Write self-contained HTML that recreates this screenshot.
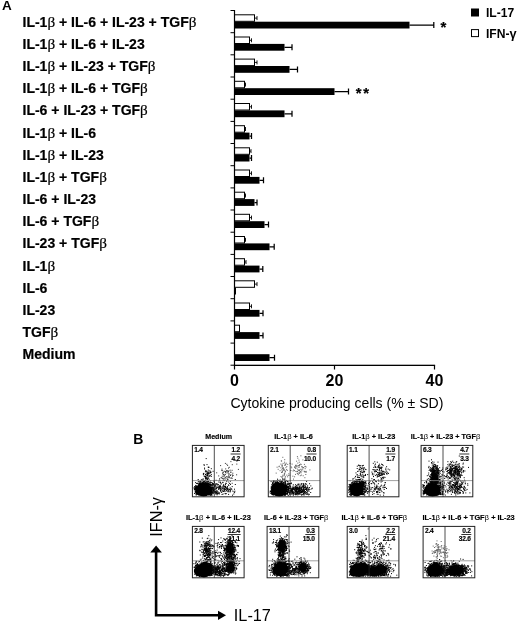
<!DOCTYPE html>
<html><head><meta charset="utf-8"><title>Figure</title>
<style>
html,body{margin:0;padding:0;background:#fff}
svg{display:block}
text{font-family:"Liberation Sans",sans-serif;fill:#000}
.lb{font-weight:bold;font-size:14.02px;stroke:#000;stroke-width:0.2px}
.b{font-family:"Liberation Serif",serif;font-weight:normal;font-size:1.08em}
.lg{font-weight:bold;font-size:12.1px}
.tk{font-weight:bold;font-size:16px;text-anchor:middle}
.ax{font-size:14.05px}
.pl{font-weight:bold;font-size:12.5px}
.pt{font-weight:bold;font-size:7px;stroke:#000;stroke-width:0.15px}
.pt .b{font-family:"Liberation Sans",sans-serif;font-weight:normal;stroke:none;font-size:1.05em}
.pn{font-weight:bold;font-size:6.6px;stroke:#000;stroke-width:0.15px;letter-spacing:-0.18px}
.big{font-size:16.3px}
</style></head><body>
<svg width="520" height="627" viewBox="0 0 520 627">
<rect width="520" height="627" fill="#fff"/>
<defs><filter id="bl" x="-5%" y="-5%" width="110%" height="110%"><feGaussianBlur stdDeviation="0.35"/></filter></defs>
<text class="pl" x="2" y="10.4" style="font-size:13.5px">A</text>
<text class="lb" x="22.5" y="26.75">IL-1<tspan class="b">β</tspan> + IL-6 + IL-23 + TGF<tspan class="b">β</tspan></text>
<rect x="230.5" y="10.0" width="4" height="1" fill="#000"/>
<rect x="234.5" y="14.8" width="20.0" height="6.5" fill="#fff" stroke="#000" stroke-width="1"/>
<path d="M254.5 18.1h2.5M257.0 16.1v4" stroke="#000" stroke-width="0.9" fill="none"/>
<rect x="234.5" y="21.7" width="175.0" height="6.8" fill="#000"/>
<path d="M409.5 25.1h24.2M433.8 22.1v6" stroke="#000" stroke-width="1.25" fill="none"/>
<text class="lb" x="22.5" y="48.92">IL-1<tspan class="b">β</tspan> + IL-6 + IL-23</text>
<rect x="230.5" y="32.2" width="4" height="1" fill="#000"/>
<rect x="234.5" y="37.0" width="15.0" height="6.5" fill="#fff" stroke="#000" stroke-width="1"/>
<path d="M249.5 40.3h2.0M251.5 38.3v4" stroke="#000" stroke-width="0.9" fill="none"/>
<rect x="234.5" y="43.9" width="50.0" height="6.8" fill="#000"/>
<path d="M284.5 47.3h7.5M292.0 44.3v6" stroke="#000" stroke-width="1.25" fill="none"/>
<text class="lb" x="22.5" y="71.09">IL-1<tspan class="b">β</tspan> + IL-23 + TGF<tspan class="b">β</tspan></text>
<rect x="230.5" y="54.3" width="4" height="1" fill="#000"/>
<rect x="234.5" y="59.1" width="20.0" height="6.5" fill="#fff" stroke="#000" stroke-width="1"/>
<path d="M254.5 62.4h2.5M257.0 60.4v4" stroke="#000" stroke-width="0.9" fill="none"/>
<rect x="234.5" y="66.0" width="55.0" height="6.8" fill="#000"/>
<path d="M289.5 69.4h8.0M297.5 66.4v6" stroke="#000" stroke-width="1.25" fill="none"/>
<text class="lb" x="22.5" y="93.26">IL-1<tspan class="b">β</tspan> + IL-6 + TGF<tspan class="b">β</tspan></text>
<rect x="230.5" y="76.5" width="4" height="1" fill="#000"/>
<rect x="234.5" y="81.3" width="10.0" height="6.5" fill="#fff" stroke="#000" stroke-width="1"/>
<path d="M244.5 84.6h1.0M245.5 82.6v4" stroke="#000" stroke-width="0.9" fill="none"/>
<rect x="234.5" y="88.2" width="100.0" height="6.8" fill="#000"/>
<path d="M334.5 91.6h14.0M348.5 88.6v6" stroke="#000" stroke-width="1.25" fill="none"/>
<text class="lb" x="22.5" y="115.43">IL-6 + IL-23 + TGF<tspan class="b">β</tspan></text>
<rect x="230.5" y="98.7" width="4" height="1" fill="#000"/>
<rect x="234.5" y="103.5" width="15.0" height="6.5" fill="#fff" stroke="#000" stroke-width="1"/>
<path d="M249.5 106.8h2.0M251.5 104.8v4" stroke="#000" stroke-width="0.9" fill="none"/>
<rect x="234.5" y="110.4" width="50.0" height="6.8" fill="#000"/>
<path d="M284.5 113.8h7.5M292.0 110.8v6" stroke="#000" stroke-width="1.25" fill="none"/>
<text class="lb" x="22.5" y="137.60">IL-1<tspan class="b">β</tspan> + IL-6</text>
<rect x="230.5" y="120.9" width="4" height="1" fill="#000"/>
<rect x="234.5" y="125.7" width="10.0" height="6.5" fill="#fff" stroke="#000" stroke-width="1"/>
<path d="M244.5 129.0h1.0M245.5 127.0v4" stroke="#000" stroke-width="0.9" fill="none"/>
<rect x="234.5" y="132.6" width="15.0" height="6.8" fill="#000"/>
<path d="M249.5 136.0h2.0M251.5 133.0v6" stroke="#000" stroke-width="1.25" fill="none"/>
<text class="lb" x="22.5" y="159.77">IL-1<tspan class="b">β</tspan> + IL-23</text>
<rect x="230.5" y="143.0" width="4" height="1" fill="#000"/>
<rect x="234.5" y="147.8" width="15.0" height="6.5" fill="#fff" stroke="#000" stroke-width="1"/>
<path d="M249.5 151.1h1.5M251.0 149.1v4" stroke="#000" stroke-width="0.9" fill="none"/>
<rect x="234.5" y="154.7" width="15.0" height="6.8" fill="#000"/>
<path d="M249.5 158.1h2.0M251.5 155.1v6" stroke="#000" stroke-width="1.25" fill="none"/>
<text class="lb" x="22.5" y="181.94">IL-1<tspan class="b">β</tspan> + TGF<tspan class="b">β</tspan></text>
<rect x="230.5" y="165.2" width="4" height="1" fill="#000"/>
<rect x="234.5" y="170.0" width="15.0" height="6.5" fill="#fff" stroke="#000" stroke-width="1"/>
<path d="M249.5 173.3h2.0M251.5 171.3v4" stroke="#000" stroke-width="0.9" fill="none"/>
<rect x="234.5" y="176.9" width="25.0" height="6.8" fill="#000"/>
<path d="M259.5 180.3h4.0M263.5 177.3v6" stroke="#000" stroke-width="1.25" fill="none"/>
<text class="lb" x="22.5" y="204.11">IL-6 + IL-23</text>
<rect x="230.5" y="187.4" width="4" height="1" fill="#000"/>
<rect x="234.5" y="192.2" width="10.0" height="6.5" fill="#fff" stroke="#000" stroke-width="1"/>
<path d="M244.5 195.5h1.0M245.5 193.5v4" stroke="#000" stroke-width="0.9" fill="none"/>
<rect x="234.5" y="199.1" width="20.0" height="6.8" fill="#000"/>
<path d="M254.5 202.5h2.5M257.0 199.5v6" stroke="#000" stroke-width="1.25" fill="none"/>
<text class="lb" x="22.5" y="226.28">IL-6 + TGF<tspan class="b">β</tspan></text>
<rect x="230.5" y="209.5" width="4" height="1" fill="#000"/>
<rect x="234.5" y="214.3" width="15.0" height="6.5" fill="#fff" stroke="#000" stroke-width="1"/>
<path d="M249.5 217.6h2.0M251.5 215.6v4" stroke="#000" stroke-width="0.9" fill="none"/>
<rect x="234.5" y="221.2" width="30.0" height="6.8" fill="#000"/>
<path d="M264.5 224.6h4.0M268.5 221.6v6" stroke="#000" stroke-width="1.25" fill="none"/>
<text class="lb" x="22.5" y="248.45">IL-23 + TGF<tspan class="b">β</tspan></text>
<rect x="230.5" y="231.7" width="4" height="1" fill="#000"/>
<rect x="234.5" y="236.5" width="10.0" height="6.5" fill="#fff" stroke="#000" stroke-width="1"/>
<path d="M244.5 239.8h1.0M245.5 237.8v4" stroke="#000" stroke-width="0.9" fill="none"/>
<rect x="234.5" y="243.4" width="35.0" height="6.8" fill="#000"/>
<path d="M269.5 246.8h4.8M274.2 243.8v6" stroke="#000" stroke-width="1.25" fill="none"/>
<text class="lb" x="22.5" y="270.62">IL-1<tspan class="b">β</tspan></text>
<rect x="230.5" y="253.9" width="4" height="1" fill="#000"/>
<rect x="234.5" y="258.7" width="10.0" height="6.5" fill="#fff" stroke="#000" stroke-width="1"/>
<path d="M244.5 262.0h1.5M246.0 260.0v4" stroke="#000" stroke-width="0.9" fill="none"/>
<rect x="234.5" y="265.6" width="25.0" height="6.8" fill="#000"/>
<path d="M259.5 269.0h3.2M262.8 266.0v6" stroke="#000" stroke-width="1.25" fill="none"/>
<text class="lb" x="22.5" y="292.79">IL-6</text>
<rect x="230.5" y="276.0" width="4" height="1" fill="#000"/>
<rect x="234.5" y="280.8" width="20.0" height="6.5" fill="#fff" stroke="#000" stroke-width="1"/>
<path d="M254.5 284.1h2.5M257.0 282.1v4" stroke="#000" stroke-width="0.9" fill="none"/>
<rect x="234.5" y="287.7" width="1.5" height="6.8" fill="#000"/>
<text class="lb" x="22.5" y="314.96">IL-23</text>
<rect x="230.5" y="298.2" width="4" height="1" fill="#000"/>
<rect x="234.5" y="303.0" width="15.0" height="6.5" fill="#fff" stroke="#000" stroke-width="1"/>
<path d="M249.5 306.3h2.0M251.5 304.3v4" stroke="#000" stroke-width="0.9" fill="none"/>
<rect x="234.5" y="309.9" width="25.0" height="6.8" fill="#000"/>
<path d="M259.5 313.3h3.5M263.0 310.3v6" stroke="#000" stroke-width="1.25" fill="none"/>
<text class="lb" x="22.5" y="337.13">TGF<tspan class="b">β</tspan></text>
<rect x="230.5" y="320.4" width="4" height="1" fill="#000"/>
<rect x="234.5" y="325.2" width="5.0" height="6.5" fill="#fff" stroke="#000" stroke-width="1"/>
<rect x="234.5" y="332.1" width="25.0" height="6.8" fill="#000"/>
<path d="M259.5 335.5h3.5M263.0 332.5v6" stroke="#000" stroke-width="1.25" fill="none"/>
<text class="lb" x="22.5" y="359.30">Medium</text>
<rect x="230.5" y="342.6" width="4" height="1" fill="#000"/>
<rect x="234.5" y="354.2" width="35.0" height="6.8" fill="#000"/>
<path d="M269.5 357.7h5.0M274.5 354.7v6" stroke="#000" stroke-width="1.25" fill="none"/>
<rect x="230.5" y="364.7" width="4" height="1" fill="#000"/>
<rect x="233.9" y="10.0" width="1.2" height="355.7" fill="#000"/>
<rect x="233.9" y="364.7" width="201.2" height="1.3" fill="#000"/>
<rect x="233.9" y="365.2" width="1.2" height="4.3" fill="#000"/>
<text class="tk" x="234.5" y="386.2">0</text>
<rect x="333.9" y="365.2" width="1.2" height="4.3" fill="#000"/>
<text class="tk" x="334.5" y="386.2">20</text>
<rect x="433.9" y="365.2" width="1.2" height="4.3" fill="#000"/>
<text class="tk" x="434.5" y="386.2">40</text>
<text class="ax" x="230.4" y="407.6">Cytokine producing cells (% ± SD)</text>
<text class="lb" x="440.4" y="32.2" style="font-size:15px">*</text>
<text class="lb" x="355.8" y="98.4" style="font-size:14.8px;letter-spacing:1.7px">**</text>
<rect x="471" y="8.5" width="8" height="8" fill="#000"/>
<text class="lg" x="486" y="16.8">IL-17</text>
<rect x="471.5" y="29.6" width="7" height="7" fill="#fff" stroke="#000" stroke-width="1"/>
<text class="lg" x="486" y="38.2">IFN-<tspan style="font-size:1.05em">γ</tspan></text>
<text class="pl" x="133.2" y="444" style="font-size:14px">B</text>
<text class="pt" x="205.3" y="439.2" textLength="26.7" lengthAdjust="spacingAndGlyphs">Medium</text>
<g filter="url(#bl)">
<ellipse cx="203.7" cy="489.6" rx="8" ry="6.8" fill="#000"/>
<circle cx="200.8" cy="493.3" r="2.0" fill="#000"/>
<circle cx="200.0" cy="485.2" r="1.9" fill="#000"/>
<circle cx="197.5" cy="488.4" r="2.2" fill="#000"/>
<circle cx="209.7" cy="491.5" r="2.4" fill="#000"/>
<circle cx="209.9" cy="490.9" r="2.3" fill="#000"/>
<circle cx="209.5" cy="491.9" r="1.9" fill="#000"/>
<circle cx="198.0" cy="492.1" r="2.8" fill="#000"/>
<path d="M209.3 494.3h1M214.5 486.5h1M215.4 492.6h1M208.5 484.6h1M210.2 494.7h1M195.9 485.9h1M197.4 483.2h1M212.9 492.9h1M211.6 492.2h1M205.9 483.1h1M195.3 486.0h1M213.2 488.6h1M204.1 481.7h1M208.4 495.2h1M200.1 484.2h1M204.9 478.8h1M200.2 481.2h1M194.6 491.8h1M209.3 482.1h1M199.4 483.5h1M211.6 492.3h1M215.1 489.2h1M207.1 483.6h1M198.7 482.1h1M212.6 490.7h1M209.4 494.0h1M210.6 491.9h1M197.5 493.9h1M196.0 491.8h1M210.9 482.6h1M210.2 484.7h1M211.7 487.7h1M213.4 489.8h1M195.8 486.6h1M211.9 487.5h1M195.9 483.5h1M197.7 479.5h1M205.5 481.8h1M209.4 484.7h1M195.6 494.7h1M210.0 493.7h1M211.0 492.4h1M212.7 492.2h1M211.7 489.6h1M198.2 495.0h1M213.7 491.0h1M210.6 495.3h1M209.9 482.3h1M196.4 490.2h1M211.8 493.7h1M207.3 484.0h1M211.1 487.6h1M194.3 488.2h1M213.8 491.1h1M201.0 483.2h1M204.9 482.4h1M196.2 488.3h1M208.6 479.3h1M206.4 483.4h1M206.8 483.9h1M194.4 488.7h1M198.8 494.9h1M217.3 484.8h1M198.6 494.6h1M195.2 482.5h1M199.4 484.3h1M199.2 483.5h1M210.6 485.8h1M206.8 481.6h1M213.2 488.1h1M212.3 487.1h1M202.4 482.9h1M210.1 485.9h1M207.8 483.0h1M212.4 488.7h1M194.6 487.2h1M199.0 484.2h1M193.7 488.2h1M209.6 484.4h1M207.3 483.7h1M196.3 493.1h1M195.3 491.5h1M195.2 485.4h1M211.5 485.8h1M211.6 490.4h1M196.9 491.9h1M206.0 483.6h1M196.2 487.2h1M205.3 483.3h1M211.0 494.5h1M205.2 480.3h1M204.2 483.3h1M213.2 484.7h1M195.0 489.3h1M195.3 489.1h1M193.6 487.8h1M210.0 484.3h1M210.6 487.4h1M214.1 486.3h1M208.1 483.7h1M195.9 492.1h1M210.2 492.3h1M199.6 483.4h1M205.5 482.5h1M202.0 482.7h1M197.8 481.6h1M215.6 487.5h1M195.6 490.2h1M211.8 489.2h1M195.7 492.7h1M195.5 488.9h1M201.8 480.4h1M196.6 492.0h1M212.9 490.5h1M215.2 493.8h1M211.3 488.4h1M209.5 493.4h1M205.2 482.9h1M211.8 485.3h1M206.8 484.0h1M211.5 485.9h1M196.8 486.8h1M211.6 492.1h1M200.6 483.1h1M210.9 487.1h1M198.7 484.8h1M208.9 484.0h1M212.3 492.8h1M194.9 487.0h1M209.4 494.7h1M196.5 488.6h1M211.3 491.7h1M204.2 482.7h1M211.1 490.2h1M202.7 481.9h1M196.0 490.6h1M214.3 485.7h1M194.0 493.4h1M195.0 489.8h1M193.9 489.2h1M199.9 481.8h1M207.4 484.1h1M201.2 482.0h1M211.2 491.9h1M203.2 482.8h1M208.2 483.7h1M209.5 484.4h1M196.5 491.8h1M195.0 487.3h1M198.9 494.8h1M213.4 489.7h1M194.2 489.5h1M210.4 493.2h1M211.3 490.5h1M203.7 481.2h1M211.8 483.0h1M202.4 483.1h1M207.7 483.8h1M212.0 483.9h1M207.8 481.2h1M207.6 483.9h1M206.8 482.3h1M212.1 483.9h1M200.4 483.4h1M212.8 491.1h1M209.1 494.7h1M208.0 483.5h1M194.2 486.5h1M199.4 481.7h1M203.6 483.4h1M211.2 492.4h1M203.1 483.5h1M202.6 482.4h1M215.6 488.1h1M193.9 489.9h1M199.8 482.2h1M204.8 480.8h1M212.6 493.6h1M208.1 494.6h1M196.2 486.7h1M199.5 483.0h1M209.5 494.2h1M211.4 484.4h1M217.7 484.6h1M216.3 490.8h1M212.2 488.1h1M196.6 491.6h1M212.4 487.0h1M195.8 488.6h1M214.2 486.9h1M209.6 485.3h1M211.2 484.9h1M196.3 490.2h1M196.5 489.9h1M196.3 491.6h1M200.8 495.3h1M203.7 483.4h1M210.2 480.8h1M200.9 479.7h1M210.2 485.7h1M195.8 494.9h1M213.3 489.5h1M195.8 492.8h1M207.6 484.0h1M195.4 489.1h1M213.3 487.3h1M210.3 484.6h1M213.3 484.7h1M214.7 485.9h1M212.0 491.9h1M202.4 479.4h1M198.3 483.7h1M210.2 495.3h1M195.2 490.9h1M203.1 481.7h1M211.1 488.7h1M195.6 487.0h1M212.5 484.6h1M208.4 494.4h1M211.0 493.6h1M212.2 483.4h1M203.7 481.2h1M195.0 488.5h1M198.1 494.2h1M213.2 487.9h1M197.0 483.6h1M208.7 484.6h1M209.3 482.9h1M209.3 484.7h1M201.9 483.6h1M212.6 483.8h1M211.6 489.6h1M209.7 483.1h1M210.8 488.5h1M202.9 473.4h1M210.3 471.8h1M204.0 468.1h1M203.5 475.9h1M210.8 476.4h1M207.2 484.7h1M205.3 471.3h1M207.9 476.9h1M204.1 469.0h1M207.3 475.5h1M203.3 473.5h1M205.2 476.5h1M206.3 474.0h1M205.7 479.2h1M210.1 472.7h1M208.7 470.9h1M206.8 477.8h1M210.4 472.6h1M206.4 475.3h1M202.9 474.5h1M204.9 476.1h1M203.8 465.3h1M206.7 475.6h1M205.2 478.5h1M205.9 471.6h1M207.8 467.2h1M204.9 474.3h1M208.7 473.7h1M207.4 471.4h1M207.4 482.1h1M204.9 485.3h1M205.0 474.5h1M207.0 479.1h1M203.5 464.7h1M208.1 478.1h1M208.2 486.5h1M207.1 475.6h1M208.9 476.1h1M210.8 468.7h1M205.7 458.6h1M208.6 472.7h1M208.9 484.3h1M206.6 473.2h1M205.4 470.5h1M205.0 477.3h1M206.7 474.7h1M206.2 478.6h1M207.8 473.7h1M208.3 473.7h1M203.7 481.1h1M207.8 470.0h1M209.3 476.0h1M202.7 481.8h1M207.4 478.5h1M207.1 473.7h1M202.7 478.9h1M206.7 473.1h1M207.5 474.8h1M208.3 472.7h1M206.5 464.6h1M205.5 477.5h1M209.9 472.7h1M206.3 481.7h1M205.8 477.8h1M210.8 474.6h1M209.7 471.1h1M207.1 474.0h1M206.9 479.6h1M212.6 471.3h1M205.2 476.7h1M204.0 476.7h1M208.0 473.1h1M207.9 467.3h1M208.5 467.3h1M204.9 471.8h1M205.6 478.4h1M206.8 472.6h1M208.0 481.7h1M206.6 476.1h1M209.7 475.6h1M220.8 489.2h1M227.4 491.7h1M228.4 491.0h1M221.8 488.8h1M221.9 487.8h1M222.4 482.7h1M221.6 488.8h1M218.0 488.8h1M226.2 488.3h1M234.8 479.5h1M222.3 482.3h1M209.6 489.4h1M226.3 487.8h1M226.4 480.8h1M228.1 490.2h1M223.5 486.8h1M226.9 487.2h1M224.6 487.1h1M211.0 488.8h1M224.5 491.6h1M218.6 488.8h1M226.8 489.4h1M218.4 482.0h1M228.1 494.4h1M228.5 491.8h1M220.0 486.3h1M228.3 485.6h1M213.4 485.3h1M219.6 486.3h1M224.7 486.2h1M230.6 488.6h1M217.4 493.6h1M220.2 489.7h1M223.3 487.8h1M225.2 486.4h1M213.3 481.0h1M216.4 486.2h1M223.3 489.1h1M226.5 489.3h1M219.0 486.3h1M211.7 488.3h1M226.1 490.8h1M222.7 488.3h1M228.5 489.0h1M227.5 491.0h1M224.6 493.6h1M220.3 487.6h1M219.0 486.0h1M232.0 495.2h1M223.5 490.9h1M229.9 491.8h1M230.0 484.4h1M219.9 490.5h1M231.3 489.3h1M218.7 487.6h1M219.8 485.8h1M231.7 486.6h1M229.9 490.1h1M220.0 490.4h1M232.3 491.1h1M230.3 489.3h1M226.2 488.2h1M225.7 493.6h1M215.5 488.7h1M224.7 486.8h1M221.7 491.7h1M234.4 491.2h1M225.2 483.3h1M234.0 489.2h1M223.2 484.9h1M223.1 485.0h1M223.8 490.6h1M223.6 489.9h1M218.7 494.0h1M219.8 482.4h1M222.4 486.2h1M217.8 487.6h1M225.0 484.6h1M222.6 494.0h1M227.2 488.4h1M224.1 488.5h1M223.1 491.5h1M222.9 480.2h1M223.3 485.7h1M227.0 486.7h1M217.6 484.9h1M215.6 480.3h1M213.1 490.2h1M219.9 482.2h1M215.2 491.1h1M219.1 487.6h1M225.2 493.8h1M234.1 492.6h1M224.2 489.6h1M233.3 494.0h1M221.7 490.5h1M225.0 489.1h1M220.6 484.1h1M220.5 483.3h1M230.1 490.8h1M216.8 493.9h1M228.3 482.0h1M233.5 491.8h1M234.8 484.5h1M226.3 490.4h1M224.5 489.5h1M229.2 483.5h1M216.6 483.9h1M220.3 486.7h1M225.4 489.9h1M223.6 486.5h1M221.0 492.3h1M227.6 489.3h1M221.6 494.5h1M220.1 491.2h1M229.7 487.9h1M227.9 484.9h1M229.0 489.6h1M214.7 491.3h1M218.5 493.5h1M219.7 488.3h1M225.0 487.7h1M224.8 486.9h1M227.1 488.9h1M224.6 479.0h1M218.3 489.5h1M210.9 489.8h1M216.6 493.7h1M215.0 492.1h1M214.5 484.9h1M218.1 493.0h1M219.2 492.8h1M214.0 482.8h1M213.8 486.7h1M213.4 491.7h1M216.2 488.3h1M215.8 488.8h1M215.9 492.4h1M217.8 486.7h1M211.6 495.1h1M215.7 493.8h1M211.3 488.1h1M215.5 483.6h1M214.1 492.3h1M213.2 483.8h1M216.7 493.2h1M215.9 484.2h1M217.4 492.6h1M216.8 487.5h1M216.2 492.6h1M214.0 482.0h1M216.2 491.3h1M215.4 493.0h1M213.9 489.1h1M214.6 491.7h1M219.4 488.4h1M217.4 491.7h1M219.8 488.7h1M215.1 485.1h1M216.6 494.8h1M216.7 491.1h1" stroke="#000" stroke-width="1" fill="none"/>
<path d="M220.6 487.3h1M236.3 464.1h1M226.2 476.6h1M230.7 477.9h1M225.2 468.9h1M226.9 479.8h1M221.5 469.1h1M226.3 464.3h1M225.2 472.1h1M228.4 470.8h1M222.4 472.4h1M226.2 470.9h1M226.5 478.3h1M231.7 483.3h1M222.9 472.2h1M215.2 484.3h1M223.1 474.2h1M228.8 467.3h1M228.5 474.3h1M218.2 475.9h1M231.8 464.7h1M230.0 475.5h1M228.5 476.7h1M232.3 473.2h1M230.3 472.3h1M229.7 470.2h1M225.9 483.4h1M228.4 473.6h1M221.2 470.3h1M227.3 479.3h1M228.3 477.1h1M226.2 481.4h1M224.6 471.5h1M230.4 474.7h1M225.1 471.4h1M225.2 477.6h1M228.0 468.1h1M228.3 475.3h1M221.9 478.4h1M225.1 472.7h1M230.0 481.3h1M223.3 476.7h1M222.5 486.4h1M224.2 480.6h1M223.5 478.6h1M236.4 461.2h1M224.4 477.0h1M226.0 470.9h1M236.1 474.8h1M219.0 478.8h1M218.7 480.4h1M223.8 475.2h1M232.1 475.0h1M220.1 465.6h1M231.7 478.3h1M222.7 478.9h1M228.6 477.8h1M216.2 472.8h1M230.5 478.2h1M230.4 461.6h1M227.2 477.0h1M237.9 469.4h1M224.9 474.6h1M230.4 472.1h1M231.6 470.3h1M227.6 471.7h1M227.1 470.8h1M219.2 480.1h1M227.8 471.5h1M227.3 479.5h1M222.0 473.8h1M228.8 477.1h1M224.9 463.4h1M232.0 476.1h1M226.5 473.0h1M227.6 472.2h1M221.8 470.6h1M223.7 471.2h1M221.2 477.7h1M220.5 477.8h1M221.8 476.2h1M232.6 475.5h1M223.1 474.7h1M227.1 465.4h1M223.7 475.2h1" stroke="#333" stroke-width="1" fill="none"/>
</g>
<path d="M192.4 480.59999999999997h51.7" stroke="#888" stroke-width="0.8" fill="none"/>
<path d="M214.3 445.4v51.4" stroke="#222" stroke-width="0.8" fill="none"/>
<rect x="192.4" y="445.4" width="51.7" height="51.4" fill="none" stroke="#222" stroke-width="1"/>
<text class="pn" x="194.2" y="452.4">1.4</text>
<text class="pn" x="240.1" y="452.4" text-anchor="end">1.2</text>
<rect x="230.6" y="453.6" width="10.0" height="0.8" fill="#000"/>
<text class="pn" x="240.1" y="460.5" text-anchor="end">4.2</text>
<text class="pt" x="274.2" y="439.2" textLength="38.7" lengthAdjust="spacingAndGlyphs">IL-1<tspan class="b">β</tspan> + IL-6</text>
<g filter="url(#bl)">
<ellipse cx="279.3" cy="489.6" rx="8.3" ry="6.8" fill="#000"/>
<circle cx="274.2" cy="493.1" r="1.9" fill="#000"/>
<circle cx="274.0" cy="492.4" r="2.9" fill="#000"/>
<circle cx="277.0" cy="484.5" r="2.5" fill="#000"/>
<circle cx="274.8" cy="485.6" r="2.4" fill="#000"/>
<circle cx="283.5" cy="492.7" r="2.6" fill="#000"/>
<circle cx="273.8" cy="492.5" r="2.8" fill="#000"/>
<circle cx="284.9" cy="486.6" r="2.4" fill="#000"/>
<path d="M272.6 486.8h1M277.3 480.4h1M275.8 480.9h1M284.9 483.4h1M271.9 493.0h1M281.0 482.8h1M272.0 493.4h1M275.1 482.8h1M274.6 484.0h1M281.1 481.3h1M289.0 488.3h1M288.3 491.4h1M280.9 483.2h1M287.6 486.9h1M272.5 486.8h1M271.3 487.9h1M272.1 482.6h1M284.4 481.9h1M286.8 487.5h1M280.1 481.1h1M286.6 491.8h1M272.5 492.7h1M271.9 492.9h1M285.1 494.6h1M270.6 481.6h1M269.9 491.1h1M287.4 488.1h1M284.1 480.7h1M270.9 491.0h1M284.9 481.6h1M273.9 493.9h1M287.2 489.7h1M274.2 484.7h1M272.7 481.2h1M287.2 481.2h1M289.3 492.7h1M282.2 478.8h1M290.6 490.5h1M291.1 490.3h1M286.5 493.9h1M280.8 482.1h1M282.7 479.3h1M281.3 481.4h1M273.5 481.1h1M285.1 482.0h1M278.7 480.5h1M269.6 492.8h1M288.9 492.6h1M269.8 491.2h1M271.8 488.0h1M283.5 484.3h1M284.3 483.2h1M289.4 493.9h1M274.1 484.6h1M273.1 485.4h1M275.2 482.1h1M287.9 488.8h1M287.2 491.0h1M277.4 482.0h1M285.4 483.7h1M280.3 483.0h1M271.0 487.2h1M283.5 483.0h1M271.3 489.4h1M290.3 488.2h1M274.7 484.0h1M281.4 481.8h1M287.6 491.4h1M286.5 491.5h1M289.0 485.3h1M281.8 481.3h1M288.4 484.8h1M272.1 483.6h1M275.5 480.8h1M273.0 480.6h1M286.4 493.9h1M286.8 485.9h1M272.9 481.8h1M282.0 480.2h1M272.3 487.2h1M270.4 493.5h1M287.9 486.5h1M287.1 491.9h1M285.1 494.0h1M284.4 479.1h1M289.9 490.4h1M288.7 486.4h1M289.9 488.5h1M285.7 493.5h1M274.4 484.5h1M288.5 490.3h1M287.4 489.8h1M288.0 488.1h1M286.6 493.3h1M287.9 490.4h1M277.8 483.4h1M287.1 491.7h1M286.9 481.6h1M277.9 480.4h1M276.8 481.9h1M269.9 491.5h1M287.6 488.1h1M277.7 483.2h1M274.9 484.6h1M283.3 482.2h1M278.2 482.5h1M288.8 492.7h1M275.3 483.0h1M284.4 495.0h1M273.0 482.9h1M272.3 483.5h1M281.3 482.4h1M287.2 487.3h1M290.7 493.4h1M283.2 483.6h1M285.6 480.4h1M272.3 485.4h1M287.4 484.0h1M272.7 494.9h1M288.4 483.9h1M282.0 483.8h1M287.3 484.0h1M289.3 491.8h1M287.7 482.0h1M271.8 486.6h1M284.1 479.2h1M275.3 482.1h1M287.0 493.3h1M271.7 487.4h1M279.3 481.8h1M286.5 486.9h1M274.1 480.9h1M271.4 491.0h1M279.4 481.6h1M281.6 482.7h1M282.0 483.6h1M280.4 483.2h1M288.5 483.9h1M287.6 483.6h1M272.6 486.1h1M276.5 482.3h1M270.6 488.8h1M288.1 495.3h1M271.4 485.1h1M289.8 490.7h1M292.8 492.0h1M271.5 490.2h1M272.1 487.0h1M286.9 487.4h1M292.2 487.1h1M289.1 494.2h1M285.3 484.4h1M288.2 492.7h1M272.2 485.5h1M287.5 487.9h1M288.2 487.6h1M274.4 482.3h1M288.8 487.9h1M286.7 491.1h1M290.0 483.6h1M286.0 480.7h1M277.0 482.4h1M274.1 484.0h1M283.9 494.5h1M279.7 479.9h1M273.0 486.2h1M290.5 490.3h1M277.7 483.4h1M286.7 486.6h1M287.0 484.3h1M284.9 495.2h1M286.5 486.8h1M284.7 482.8h1M284.6 480.9h1M284.4 494.8h1M270.6 487.1h1M271.4 493.6h1M283.9 495.2h1M285.6 486.0h1M285.7 494.2h1M285.3 485.8h1M275.2 483.6h1M289.6 489.1h1M288.0 489.5h1M289.0 483.5h1M292.3 488.2h1M275.0 495.1h1M271.9 488.6h1M271.4 486.5h1M280.5 482.3h1M277.4 483.3h1M286.7 493.3h1M271.5 484.4h1M272.5 484.8h1M271.3 493.9h1M277.0 479.2h1M284.7 482.8h1M289.5 490.4h1M291.0 483.6h1M274.0 494.2h1M271.7 488.8h1M270.8 492.1h1M277.6 483.5h1M283.1 482.6h1M277.0 482.0h1M273.8 493.8h1M285.3 484.6h1M290.1 487.0h1M271.8 488.4h1M282.9 482.9h1M290.6 491.4h1M306.4 490.7h1M291.8 488.4h1M297.5 488.8h1M304.8 486.5h1M301.3 490.7h1M291.2 490.4h1M297.7 491.8h1M295.6 491.2h1M288.3 486.7h1M303.0 493.5h1M298.2 488.3h1M304.8 483.5h1M293.5 492.4h1M302.2 486.9h1M287.0 494.8h1M299.2 487.3h1M298.6 493.1h1M282.7 493.8h1M302.7 483.5h1M302.9 484.5h1M305.1 491.5h1M311.8 488.2h1M298.3 493.6h1M294.5 487.9h1M296.1 490.0h1M291.8 491.7h1M301.6 490.4h1M308.5 489.2h1M306.1 488.5h1M302.8 484.0h1M299.5 489.6h1M295.3 488.2h1M296.2 487.9h1M285.1 488.3h1M295.0 488.5h1M292.0 489.8h1M303.0 489.4h1M295.3 494.5h1M304.2 493.1h1M305.2 489.2h1M297.5 493.8h1M295.0 489.8h1M300.6 491.4h1M296.6 493.3h1M297.2 492.5h1M304.7 492.3h1M302.7 486.5h1M290.4 488.2h1M301.2 495.0h1M291.0 491.2h1M293.2 487.9h1M296.6 492.4h1M299.6 494.0h1M292.4 493.0h1M303.9 490.4h1M301.2 488.4h1M291.8 488.9h1M299.5 491.2h1M302.8 487.7h1M303.8 491.4h1M289.2 492.1h1M301.6 491.6h1M307.8 488.9h1M301.4 492.6h1M292.9 494.0h1M289.6 486.0h1M301.4 486.7h1M297.6 484.9h1M298.7 486.6h1M300.4 485.3h1M301.0 489.3h1M298.7 490.0h1M299.1 486.0h1M282.9 490.3h1M292.7 488.7h1M300.9 483.8h1M293.7 488.2h1M292.0 491.2h1M297.5 487.6h1M292.4 492.8h1M294.3 492.1h1M301.0 484.1h1M291.8 490.2h1M300.4 492.7h1M303.1 493.5h1M296.1 489.5h1M303.0 488.8h1M304.6 485.1h1M302.2 489.6h1M286.5 493.3h1M300.2 490.3h1M291.8 488.7h1M307.4 487.6h1M277.5 487.5h1M291.1 489.8h1M295.9 487.3h1M293.2 493.6h1M295.0 486.7h1M303.0 492.0h1M292.0 492.6h1M287.3 487.2h1M305.1 489.4h1M290.5 491.8h1M303.8 490.1h1M287.5 489.1h1M300.8 492.7h1M309.4 489.4h1M295.4 490.1h1M305.5 487.2h1M306.1 481.4h1M303.1 488.0h1M301.1 492.4h1M291.2 489.9h1M299.7 492.1h1M292.7 487.0h1M297.1 489.5h1M289.3 493.2h1M295.1 494.8h1M303.4 490.3h1M302.7 486.6h1M296.3 488.4h1M290.7 490.3h1M297.4 494.8h1M278.2 488.0h1M292.8 488.7h1M300.8 491.5h1M298.5 488.7h1M301.3 491.4h1M287.2 489.4h1M290.1 486.4h1M299.2 490.4h1M299.0 487.4h1M297.1 487.3h1M300.6 492.4h1M308.8 494.3h1M293.5 488.7h1M292.7 491.2h1M310.2 492.5h1M285.1 486.2h1M290.5 491.8h1M298.3 491.2h1M309.0 487.6h1M300.4 487.7h1M286.1 485.3h1M283.6 490.4h1M298.6 493.4h1M297.5 488.0h1M287.7 490.8h1M298.5 492.2h1M295.9 491.8h1M303.2 489.7h1M295.6 489.6h1M292.5 489.5h1M296.5 490.9h1M306.3 494.4h1M295.6 492.1h1M300.1 492.6h1M298.4 491.1h1M295.5 487.7h1M303.5 494.4h1M302.3 491.6h1M299.9 488.8h1M287.6 492.3h1M299.5 488.4h1M292.5 494.3h1M294.0 490.1h1M295.3 490.7h1M297.0 487.8h1M304.7 487.7h1M295.3 492.0h1M295.1 488.8h1M300.4 489.0h1M290.8 489.9h1M291.7 493.3h1M293.6 489.1h1M296.3 491.1h1M294.5 494.5h1M304.3 492.8h1M293.7 493.1h1M297.7 491.3h1M296.7 492.3h1M305.0 493.8h1M297.1 493.4h1M307.0 487.2h1M307.1 485.9h1M301.6 492.1h1M307.2 491.1h1M295.4 487.7h1M290.8 492.7h1M296.9 487.9h1M301.5 487.8h1M295.7 488.7h1M308.2 494.9h1M297.4 485.2h1M300.0 490.4h1M300.4 492.0h1M296.4 493.2h1M303.3 490.9h1M295.9 488.7h1M302.5 486.7h1M297.3 487.8h1M289.9 492.1h1M298.1 490.3h1M303.5 485.4h1M297.9 491.1h1M303.3 486.7h1M302.6 490.9h1M306.4 493.8h1M298.3 488.8h1M296.3 487.2h1M298.1 484.2h1M297.8 491.6h1M304.2 489.1h1M306.6 488.1h1M297.5 484.2h1M293.7 487.7h1M307.1 491.9h1M291.8 491.9h1M301.1 489.5h1M298.4 489.2h1M295.1 484.7h1M297.8 494.2h1M306.7 489.3h1M293.9 489.5h1M303.6 491.3h1M294.9 491.3h1M297.1 491.8h1M295.9 485.6h1M298.6 492.6h1M291.8 489.9h1M303.4 489.0h1M303.2 493.4h1M292.8 495.3h1M288.6 488.6h1M302.6 494.3h1M292.9 488.1h1M299.4 484.2h1M302.0 491.9h1M295.7 491.9h1M302.8 491.2h1M301.3 494.9h1M295.5 490.7h1M295.3 493.4h1M295.9 491.7h1M299.1 490.4h1M308.3 489.9h1M306.5 492.8h1M306.0 489.7h1M303.7 492.5h1M294.7 491.0h1M297.6 490.1h1M305.9 488.0h1M288.5 484.8h1M295.7 488.2h1M298.4 491.9h1M308.5 491.2h1M301.0 487.9h1M301.7 494.4h1M306.1 484.2h1M303.5 495.1h1M303.1 485.6h1M296.5 492.0h1M300.7 487.7h1M293.2 493.2h1M290.6 494.6h1M298.4 491.1h1M290.6 488.4h1M302.3 485.7h1M310.3 485.9h1M291.2 490.3h1M301.1 492.5h1M296.2 489.6h1M296.9 488.4h1M283.4 493.2h1M299.7 490.7h1M294.7 491.0h1M298.2 490.0h1M304.7 484.9h1M299.8 486.9h1M296.5 494.8h1M292.1 489.9h1M294.9 493.1h1M292.7 485.0h1M301.3 489.1h1M296.5 493.5h1M293.2 489.1h1M299.2 491.5h1M295.3 493.4h1M311.2 488.9h1M309.1 483.7h1M306.4 489.1h1M299.1 489.2h1M294.6 486.3h1M296.0 494.2h1M304.9 489.1h1M295.3 488.0h1M302.1 490.6h1M295.5 487.1h1M305.9 492.6h1M292.8 493.2h1M291.9 492.2h1M292.8 488.9h1M301.2 491.5h1M304.1 487.6h1M307.4 494.3h1M298.2 491.6h1M293.8 489.7h1M290.7 490.5h1M299.4 494.3h1M303.8 492.7h1M296.2 489.5h1M296.3 490.9h1M287.2 492.6h1M289.3 488.6h1M298.4 488.6h1M307.9 489.9h1M307.4 493.8h1M295.4 491.4h1M305.8 489.2h1M298.8 488.5h1M298.6 489.1h1M298.8 493.3h1M306.3 490.6h1M299.5 492.8h1M296.6 486.9h1M304.7 487.3h1M303.7 487.2h1" stroke="#000" stroke-width="1" fill="none"/>
<path d="M287.2 464.4h1M284.8 476.6h1M280.5 476.5h1M280.8 460.9h1M284.5 472.8h1M282.3 457.3h1M282.7 467.9h1M281.9 468.0h1M278.5 466.7h1M287.1 476.8h1M281.9 466.0h1M283.8 474.5h1M284.5 463.8h1M283.2 470.1h1M286.3 475.1h1M284.1 475.2h1M281.9 476.8h1M281.8 471.3h1M285.0 465.0h1M281.1 461.0h1M283.2 469.1h1M282.0 471.8h1M277.7 469.3h1M283.0 468.1h1M284.7 477.8h1M281.7 464.9h1M281.3 469.8h1M284.2 465.3h1M285.2 464.5h1M284.8 471.5h1M283.9 479.8h1M282.2 468.6h1M283.9 473.5h1M279.6 470.7h1M281.0 472.4h1M286.1 469.6h1M282.5 470.3h1M275.7 473.1h1M284.1 470.2h1M281.8 465.9h1M282.4 475.2h1M282.6 475.9h1M276.6 467.2h1M283.5 469.3h1M278.8 466.2h1M285.8 463.2h1M280.4 464.1h1M281.5 472.5h1M284.2 459.7h1M286.3 466.6h1M281.4 477.4h1M282.6 463.4h1M281.3 465.9h1M280.4 467.8h1M284.9 471.1h1M291.0 482.8h1M293.1 470.0h1M298.5 473.1h1M296.6 471.6h1M309.4 469.9h1M292.6 471.0h1M294.1 467.6h1M299.3 471.0h1M296.8 473.5h1M297.3 463.1h1M302.9 467.7h1M304.7 466.3h1M301.3 470.9h1M284.1 462.2h1M292.4 476.2h1M288.3 473.8h1M304.1 471.8h1M301.9 467.0h1M298.2 470.5h1M300.5 472.8h1M297.2 466.0h1M295.3 471.4h1M289.5 463.4h1M296.1 466.7h1M296.9 456.6h1M296.5 468.2h1M302.4 459.9h1M296.7 471.7h1M300.9 475.1h1M303.9 464.4h1M301.7 467.8h1M294.1 476.8h1M295.0 465.3h1M296.1 465.3h1M303.6 471.2h1M305.7 471.4h1M295.0 474.4h1M294.8 467.2h1M297.4 469.6h1M304.6 466.5h1M300.2 469.3h1M291.6 464.1h1M297.1 471.3h1M300.0 471.7h1M298.6 467.2h1M300.6 464.6h1M291.2 467.8h1M290.7 466.9h1M294.3 466.7h1M298.1 465.5h1M296.1 461.2h1M299.1 465.2h1M300.4 455.8h1M294.0 470.6h1M285.4 467.7h1M298.8 469.9h1M290.4 470.5h1M299.1 464.7h1M302.2 469.2h1M298.4 467.2h1M301.2 469.9h1M304.3 471.6h1M295.0 468.3h1M303.2 467.6h1M300.3 471.9h1M297.3 458.2h1M299.0 470.4h1M299.0 465.7h1M304.7 468.7h1M295.0 465.9h1M300.2 464.1h1M293.0 479.1h1M305.3 474.5h1M305.6 472.3h1M289.3 475.2h1M304.9 471.8h1M287.9 475.4h1M305.6 467.0h1M299.0 473.2h1M297.8 474.7h1M298.7 472.7h1M298.8 462.2h1M293.0 484.7h1M299.8 475.7h1M304.4 477.7h1M301.3 466.5h1M298.4 460.1h1M297.3 473.8h1M286.8 470.4h1M302.7 475.8h1" stroke="#666" stroke-width="1" fill="none"/>
</g>
<path d="M268.3 480.59999999999997h51.7" stroke="#888" stroke-width="0.8" fill="none"/>
<path d="M290.2 445.4v51.4" stroke="#222" stroke-width="0.8" fill="none"/>
<rect x="268.3" y="445.4" width="51.7" height="51.4" fill="none" stroke="#222" stroke-width="1"/>
<text class="pn" x="270.1" y="452.4">2.1</text>
<text class="pn" x="316.0" y="452.4" text-anchor="end">0.8</text>
<rect x="306.5" y="453.6" width="10.0" height="0.8" fill="#000"/>
<text class="pn" x="316.0" y="460.5" text-anchor="end">10.0</text>
<text class="pt" x="352.2" y="439.2" textLength="43.1" lengthAdjust="spacingAndGlyphs">IL-1<tspan class="b">β</tspan> + IL-23</text>
<g filter="url(#bl)">
<ellipse cx="356.9" cy="489.4" rx="7" ry="7" fill="#000"/>
<circle cx="352.3" cy="486.2" r="2.0" fill="#000"/>
<circle cx="352.0" cy="486.7" r="2.5" fill="#000"/>
<circle cx="358.3" cy="492.8" r="2.5" fill="#000"/>
<circle cx="353.3" cy="492.9" r="2.4" fill="#000"/>
<circle cx="360.6" cy="485.2" r="1.7" fill="#000"/>
<circle cx="360.6" cy="485.2" r="2.7" fill="#000"/>
<circle cx="355.2" cy="493.7" r="1.6" fill="#000"/>
<path d="M362.0 493.7h1M362.3 486.0h1M360.6 494.6h1M353.5 481.8h1M363.5 485.7h1M354.4 477.9h1M368.0 491.7h1M366.8 491.8h1M350.3 489.2h1M364.1 495.0h1M365.4 490.5h1M361.6 485.0h1M362.5 494.7h1M351.1 492.2h1M356.3 481.7h1M348.7 489.4h1M349.0 489.6h1M363.3 485.8h1M364.5 487.8h1M361.8 485.0h1M350.3 489.0h1M349.6 494.1h1M364.1 489.9h1M353.8 481.8h1M348.3 486.7h1M352.6 478.5h1M355.5 482.6h1M350.9 493.8h1M365.6 487.9h1M350.6 494.8h1M366.8 489.3h1M362.6 486.5h1M359.0 479.9h1M365.5 483.9h1M351.7 482.6h1M363.8 488.2h1M363.3 489.4h1M350.0 484.9h1M352.5 484.8h1M356.5 480.1h1M349.7 495.1h1M351.3 483.5h1M351.7 485.0h1M355.5 481.6h1M348.8 488.3h1M361.0 494.5h1M365.4 485.2h1M350.1 488.2h1M359.4 483.5h1M360.4 482.3h1M364.9 483.1h1M362.8 482.9h1M360.4 483.3h1M360.0 482.7h1M364.3 495.0h1M348.7 491.9h1M364.6 489.3h1M353.8 480.8h1M359.1 482.5h1M357.4 480.7h1M350.5 488.6h1M351.0 494.9h1M351.0 486.6h1M364.5 492.3h1M354.0 495.3h1M352.0 483.8h1M350.1 493.0h1M359.1 481.5h1M364.6 491.6h1M348.4 492.6h1M349.2 494.4h1M363.7 488.2h1M352.5 481.8h1M350.9 495.1h1M357.2 483.0h1M365.6 490.8h1M349.2 491.3h1M361.6 481.9h1M362.9 484.4h1M359.8 483.6h1M353.8 483.7h1M365.6 491.7h1M352.4 479.8h1M357.9 481.6h1M361.7 493.8h1M359.9 482.7h1M349.0 486.0h1M364.5 492.1h1M363.8 491.9h1M349.2 484.9h1M365.4 489.3h1M353.6 495.1h1M363.2 488.9h1M362.8 482.2h1M350.4 493.0h1M364.6 492.0h1M360.5 478.7h1M360.9 484.4h1M364.6 492.0h1M348.7 487.5h1M348.5 490.0h1M348.7 484.6h1M363.1 486.0h1M354.8 481.2h1M359.7 481.1h1M364.1 486.3h1M350.4 491.8h1M350.6 492.2h1M349.6 480.7h1M364.0 492.9h1M349.6 484.4h1M360.1 479.6h1M354.0 483.7h1M362.7 486.1h1M363.1 493.6h1M358.8 480.7h1M353.0 483.4h1M363.0 491.7h1M360.5 483.4h1M361.8 481.8h1M367.0 488.1h1M350.0 495.0h1M352.6 484.1h1M350.4 490.9h1M355.5 479.6h1M362.9 494.7h1M361.9 480.0h1M367.4 489.1h1M364.8 486.3h1M353.1 494.8h1M356.9 477.0h1M362.3 492.9h1M348.3 490.2h1M363.4 493.4h1M363.1 484.5h1M360.9 483.5h1M368.9 491.9h1M349.8 484.3h1M363.3 487.1h1M352.1 482.3h1M350.2 491.6h1M358.8 481.7h1M363.3 493.8h1M350.1 487.1h1M364.2 491.0h1M353.0 484.3h1M351.6 494.7h1M353.2 483.3h1M364.1 486.6h1M349.3 489.6h1M350.4 490.7h1M352.2 494.6h1M362.0 494.6h1M363.5 484.0h1M366.0 490.3h1M358.8 482.3h1M350.6 486.4h1M356.9 481.3h1M360.5 494.6h1M351.4 493.7h1M349.2 488.5h1M351.0 486.2h1M359.0 479.8h1M354.9 481.5h1M351.2 485.3h1M366.7 488.3h1M354.3 482.6h1M360.4 481.2h1M368.0 483.4h1M351.2 492.9h1M350.2 493.8h1M356.2 482.1h1M353.6 482.4h1M365.4 488.1h1M364.0 489.3h1M358.7 479.5h1M351.2 482.8h1M359.2 479.7h1M362.6 493.1h1M365.1 487.6h1M362.4 479.2h1M356.6 480.9h1M360.6 482.9h1M360.3 482.8h1M369.1 486.3h1M362.6 494.4h1M363.5 488.1h1M361.3 482.4h1M355.5 472.9h1M359.2 465.7h1M357.4 477.5h1M361.7 465.7h1M364.9 469.3h1M359.8 473.5h1M358.1 465.2h1M359.0 477.6h1M362.9 465.4h1M363.5 472.6h1M361.9 472.6h1M361.7 468.0h1M358.6 469.3h1M359.8 475.1h1M357.9 479.5h1M359.2 469.8h1M362.3 474.3h1M359.9 467.7h1M358.4 465.3h1M363.3 477.2h1M365.0 474.6h1M361.5 475.8h1M362.9 471.3h1M361.5 481.9h1M356.8 466.2h1M358.5 475.7h1M363.4 470.9h1M362.3 472.2h1M361.4 470.0h1M360.6 472.4h1M363.3 482.3h1M356.5 474.8h1M360.7 476.7h1M363.2 475.9h1M362.6 468.2h1M356.8 479.8h1M363.5 468.2h1M363.7 475.4h1M355.0 476.4h1M358.4 477.6h1M359.1 469.1h1M357.1 471.4h1M363.1 469.4h1M356.4 481.9h1M365.0 475.5h1M359.5 467.0h1M356.9 474.9h1M363.7 467.7h1M360.7 471.2h1M360.1 474.6h1M365.5 469.6h1M362.7 477.2h1M360.0 471.7h1M357.6 477.2h1M359.5 469.5h1M360.9 468.6h1M358.3 471.1h1M364.1 471.5h1M361.9 465.9h1M356.2 480.5h1M359.8 465.6h1M360.5 475.1h1M356.7 468.5h1M361.3 468.3h1M362.5 476.7h1M380.9 470.4h1M379.0 469.6h1M378.7 473.5h1M378.0 476.2h1M389.2 469.9h1M380.5 475.6h1M381.7 471.2h1M377.3 476.4h1M381.6 474.3h1M376.1 474.8h1M382.3 471.4h1M381.7 481.2h1M371.9 474.7h1M374.7 466.5h1M378.3 474.5h1M379.4 467.4h1M373.6 469.9h1M379.3 468.7h1M373.4 479.5h1M376.0 471.5h1M377.1 469.8h1M379.4 471.0h1M381.6 467.3h1M373.4 480.3h1M378.9 475.4h1M383.8 474.5h1M379.3 465.7h1M373.0 476.3h1M381.8 474.6h1M372.8 463.3h1M375.1 467.3h1M379.8 467.9h1M385.3 469.6h1M377.0 475.8h1M380.5 468.5h1M382.4 480.2h1M374.4 471.2h1M375.0 464.1h1M381.6 475.1h1M383.0 474.0h1M371.4 472.1h1M376.6 467.3h1M374.9 475.4h1M378.0 480.4h1M381.0 464.2h1M382.7 477.4h1M379.3 467.1h1M386.1 466.7h1M378.9 464.2h1M374.3 465.1h1M383.4 477.1h1M377.6 466.5h1M379.0 473.8h1M373.3 467.4h1M378.8 475.1h1M379.5 474.1h1M374.3 461.8h1M380.4 468.4h1M378.7 470.6h1M381.1 469.0h1M384.8 472.3h1M381.3 474.8h1M383.2 473.9h1M372.4 469.6h1M386.5 474.2h1M381.4 474.2h1M376.7 469.4h1M376.7 477.1h1M380.6 479.7h1M381.1 480.2h1M381.0 467.2h1M386.0 473.6h1M383.9 473.1h1M377.9 472.9h1M374.8 467.2h1M375.7 470.0h1M373.9 471.8h1M380.4 480.8h1M386.4 472.0h1M382.7 471.3h1M380.7 472.1h1M377.1 472.5h1M373.4 474.1h1M378.1 467.6h1M377.8 474.5h1M376.5 474.2h1M381.4 478.8h1M374.9 471.7h1M381.2 478.5h1M380.2 475.4h1M373.4 469.7h1M385.7 471.0h1M387.7 469.1h1M378.1 465.4h1M381.7 473.3h1M387.2 472.9h1M378.2 466.2h1M378.9 476.2h1M382.1 477.4h1M382.6 472.0h1M381.6 472.9h1M373.9 479.5h1M380.7 467.7h1M380.7 473.4h1M383.1 478.3h1M367.2 474.6h1M385.3 468.2h1M371.9 473.4h1M380.5 473.7h1M374.8 470.2h1M380.0 475.4h1M387.9 473.5h1M376.8 462.2h1M383.5 471.6h1M378.8 468.0h1M382.1 464.6h1M379.6 472.7h1M380.4 477.8h1M378.8 472.6h1M382.6 465.6h1M374.8 488.7h1M380.9 485.2h1M380.2 489.9h1M368.8 482.5h1M369.1 489.0h1M377.2 491.3h1M380.3 486.2h1M381.5 491.7h1M378.5 490.3h1M369.8 489.8h1M371.1 483.7h1M374.5 489.0h1M375.9 487.1h1M371.2 489.1h1M372.5 482.8h1M376.7 494.2h1M374.2 484.2h1M383.1 495.2h1M374.7 487.6h1M376.9 492.4h1M378.4 481.2h1M370.7 483.5h1M378.4 488.8h1M385.1 487.3h1M377.7 488.7h1M377.6 494.3h1M382.7 486.0h1M379.6 486.9h1M376.7 489.0h1M376.3 486.5h1M384.0 487.3h1M379.7 495.1h1M379.3 492.5h1M383.1 492.7h1M384.8 482.7h1M386.0 488.5h1M367.5 485.8h1M369.2 488.3h1M368.8 484.4h1M377.7 489.0h1M372.2 487.5h1M375.7 488.7h1M376.2 487.5h1M380.6 482.0h1M373.7 488.9h1M374.2 486.2h1M374.0 489.2h1M382.4 487.7h1M374.9 489.8h1M375.0 480.7h1M377.5 486.9h1M373.3 490.9h1M376.4 486.1h1M365.3 481.5h1M376.3 487.9h1M378.4 489.3h1M373.8 483.3h1M370.7 487.8h1M370.5 491.4h1M369.6 481.2h1M375.2 481.3h1M384.3 484.4h1M375.9 487.4h1M372.1 481.3h1M366.9 491.9h1M368.9 490.6h1M376.1 491.8h1M373.6 491.3h1M380.7 490.8h1M383.4 487.7h1M383.9 485.6h1M384.5 477.4h1M376.3 485.2h1M376.2 492.5h1M379.8 488.8h1M384.7 482.5h1M372.1 494.4h1M377.8 480.1h1M377.9 483.7h1M383.6 493.0h1M373.5 493.6h1M372.0 492.1h1M379.1 487.9h1M369.1 487.3h1M364.8 486.1h1M366.9 493.3h1M371.4 478.7h1M379.1 489.9h1M380.1 488.7h1M373.0 476.6h1M378.6 492.2h1M373.2 482.7h1M376.0 481.7h1M376.2 491.5h1M383.7 489.5h1M377.2 491.4h1M364.8 482.4h1M360.9 481.7h1M360.8 481.6h1M362.5 483.4h1M362.9 483.0h1M362.2 483.5h1M364.0 484.0h1M364.9 482.5h1M362.3 485.4h1M363.0 483.5h1M362.2 484.4h1M362.1 481.4h1M362.6 482.2h1M364.0 482.3h1M362.9 482.6h1M363.2 482.0h1M364.4 480.8h1M362.1 481.8h1M363.7 483.0h1M363.4 482.4h1M361.6 481.2h1M362.2 482.1h1M363.1 483.4h1M364.2 482.7h1M361.6 481.3h1M362.8 483.4h1M365.6 483.2h1M365.3 485.7h1M361.1 484.7h1M364.4 484.9h1M362.7 484.3h1M362.0 482.8h1M362.7 485.6h1M362.4 484.3h1M362.8 481.8h1M363.1 483.9h1M361.6 483.9h1M361.6 481.6h1M363.0 482.5h1M361.2 480.5h1" stroke="#000" stroke-width="1" fill="none"/>
</g>
<path d="M347.2 480.59999999999997h51.7" stroke="#888" stroke-width="0.8" fill="none"/>
<path d="M369.09999999999997 445.4v51.4" stroke="#222" stroke-width="0.8" fill="none"/>
<rect x="347.2" y="445.4" width="51.7" height="51.4" fill="none" stroke="#222" stroke-width="1"/>
<text class="pn" x="349.0" y="452.4">1.1</text>
<text class="pn" x="394.9" y="452.4" text-anchor="end">1.9</text>
<rect x="385.4" y="453.6" width="10.0" height="0.8" fill="#000"/>
<text class="pn" x="394.9" y="460.5" text-anchor="end">1.7</text>
<text class="pt" x="410.8" y="439.2" textLength="69.5" lengthAdjust="spacingAndGlyphs">IL-1<tspan class="b">β</tspan> + IL-23 + TGF<tspan class="b">β</tspan></text>
<g filter="url(#bl)">
<ellipse cx="432.6" cy="489.7" rx="8.2" ry="6.8" fill="#000"/>
<circle cx="433.2" cy="493.5" r="1.8" fill="#000"/>
<circle cx="426.5" cy="491.8" r="2.0" fill="#000"/>
<circle cx="426.2" cy="491.1" r="2.7" fill="#000"/>
<circle cx="438.1" cy="492.7" r="2.0" fill="#000"/>
<circle cx="426.1" cy="490.4" r="2.0" fill="#000"/>
<circle cx="433.4" cy="492.9" r="2.4" fill="#000"/>
<circle cx="437.4" cy="493.4" r="1.9" fill="#000"/>
<path d="M424.3 487.2h1M440.0 492.7h1M441.8 481.6h1M439.4 494.4h1M441.7 486.9h1M437.7 484.9h1M443.5 485.0h1M440.3 492.9h1M424.7 491.7h1M427.8 483.1h1M424.9 489.1h1M444.9 491.3h1M424.5 488.1h1M428.3 484.7h1M431.7 477.7h1M440.0 482.0h1M442.4 494.3h1M437.8 494.9h1M443.3 486.2h1M426.4 493.3h1M440.0 487.6h1M440.1 487.6h1M438.2 481.8h1M425.9 493.4h1M428.3 495.0h1M427.0 494.4h1M436.5 494.9h1M426.8 485.8h1M430.6 482.8h1M437.4 494.4h1M441.3 487.9h1M423.7 485.5h1M439.8 484.5h1M423.6 485.3h1M439.0 485.2h1M426.1 481.0h1M440.3 487.3h1M439.4 486.3h1M440.5 494.7h1M442.0 488.1h1M423.0 488.2h1M437.8 483.6h1M438.2 493.9h1M422.4 484.6h1M437.0 478.8h1M442.0 493.7h1M429.9 483.9h1M424.8 488.7h1M432.1 482.7h1M424.1 482.7h1M435.1 483.2h1M444.6 490.3h1M430.5 483.2h1M426.2 482.6h1M435.8 478.0h1M431.6 481.2h1M433.8 480.7h1M438.0 494.3h1M441.8 491.4h1M424.0 493.6h1M444.8 495.1h1M422.8 485.4h1M427.5 495.1h1M436.8 495.2h1M437.0 483.6h1M425.9 482.8h1M443.4 487.8h1M437.9 480.5h1M440.4 483.3h1M426.2 486.4h1M424.9 488.3h1M431.4 483.5h1M441.2 489.9h1M436.1 495.2h1M448.8 491.3h1M425.9 492.9h1M425.2 490.5h1M439.9 493.2h1M429.4 482.1h1M422.5 490.1h1M442.2 492.3h1M430.9 483.1h1M436.7 479.6h1M440.2 493.9h1M430.4 483.0h1M435.2 483.5h1M440.6 494.1h1M428.0 483.4h1M423.2 485.3h1M431.1 482.2h1M440.2 490.9h1M426.9 484.0h1M441.9 484.2h1M438.5 480.4h1M429.9 479.4h1M426.1 485.3h1M441.9 494.5h1M441.6 486.3h1M427.7 494.4h1M429.9 479.4h1M439.2 494.0h1M441.7 493.3h1M428.8 484.0h1M422.6 490.9h1M430.8 483.4h1M422.8 492.5h1M442.8 485.6h1M439.8 494.3h1M423.9 491.8h1M441.6 491.5h1M441.3 488.8h1M424.5 491.2h1M426.9 485.3h1M432.6 482.7h1M433.7 482.6h1M426.4 493.7h1M439.5 493.6h1M433.5 482.8h1M440.3 492.7h1M438.1 494.2h1M444.1 483.2h1M424.3 491.2h1M435.6 483.8h1M428.7 494.9h1M423.0 491.3h1M443.6 489.2h1M436.1 495.2h1M423.8 493.8h1M440.3 490.1h1M442.0 484.0h1M442.3 487.2h1M437.9 480.1h1M426.0 494.9h1M440.0 485.8h1M422.7 494.9h1M433.0 479.5h1M442.7 489.2h1M431.6 483.5h1M426.1 481.6h1M422.5 487.6h1M438.8 482.1h1M439.6 487.3h1M425.7 481.5h1M442.2 492.2h1M422.8 492.0h1M441.3 482.0h1M440.2 494.3h1M443.5 494.0h1M442.8 487.2h1M438.8 486.0h1M439.7 483.8h1M423.1 485.8h1M437.3 482.5h1M438.2 485.3h1M428.5 483.9h1M440.3 488.0h1M440.2 485.9h1M442.5 491.5h1M430.7 482.3h1M423.1 493.5h1M436.7 482.6h1M434.7 482.7h1M432.3 482.1h1M435.4 482.9h1M446.3 489.2h1M422.6 493.4h1M442.3 485.9h1M431.5 481.4h1M428.5 483.6h1M422.3 486.2h1M435.4 481.6h1M433.2 481.9h1M441.1 486.1h1M439.0 485.8h1M441.5 484.4h1M440.3 486.8h1M423.2 486.6h1M436.2 481.2h1M424.3 493.3h1M423.1 494.0h1M439.0 493.2h1M442.6 490.0h1M432.5 480.1h1M434.3 477.6h1M432.6 473.6h1M429.8 467.6h1M435.1 480.0h1M433.3 466.1h1M433.2 466.6h1M433.4 483.0h1M434.8 473.2h1M436.6 472.1h1M434.9 474.8h1M435.2 467.0h1M435.8 478.1h1M428.5 461.1h1M431.9 480.9h1M434.2 477.1h1M435.5 478.1h1M432.5 471.1h1M435.0 476.8h1M435.5 475.5h1M432.9 479.1h1M435.3 478.9h1M427.9 478.7h1M428.1 474.9h1M432.5 474.5h1M432.9 472.4h1M434.6 475.5h1M432.1 461.9h1M432.2 476.5h1M432.0 475.9h1M433.2 469.4h1M437.0 481.7h1M433.8 473.7h1M436.5 467.6h1M431.9 479.3h1M436.3 471.6h1M432.2 475.6h1M430.6 471.5h1M433.5 462.2h1M435.6 477.5h1M436.7 467.1h1M430.9 470.0h1M430.9 483.7h1M431.7 472.4h1M434.6 476.1h1M437.7 468.7h1M436.3 474.6h1M431.2 474.6h1M430.6 481.6h1M432.3 478.7h1M437.3 471.0h1M431.9 474.5h1M431.5 478.2h1M434.5 470.3h1M432.4 477.4h1M430.5 481.9h1M432.2 473.0h1M431.8 481.6h1M436.1 480.1h1M435.7 474.3h1M438.3 477.1h1M435.2 476.7h1M435.9 475.2h1M433.7 466.3h1M439.2 467.7h1M428.7 470.5h1M438.9 479.7h1M432.6 475.2h1M434.0 464.4h1M433.3 475.3h1M437.0 468.1h1M428.5 466.4h1M434.9 474.3h1M434.5 474.6h1M433.2 467.4h1M435.2 475.8h1M435.5 479.9h1M431.0 462.7h1M429.6 484.1h1M431.8 475.8h1M434.1 477.4h1M442.1 471.4h1M433.7 471.0h1M434.7 476.4h1M431.7 480.2h1M437.0 476.0h1M433.8 472.8h1M430.0 477.0h1M431.7 471.5h1M436.6 469.5h1M432.8 478.0h1M438.7 470.6h1M436.9 470.8h1M435.1 476.2h1M431.3 478.8h1M438.6 474.1h1M434.8 468.3h1M438.6 474.2h1M430.9 477.6h1M430.4 470.6h1M428.8 480.5h1M439.6 470.9h1M432.5 471.1h1M432.7 476.6h1M437.7 469.1h1M435.2 465.2h1M437.9 473.5h1M432.3 481.2h1M433.8 480.5h1M436.8 481.9h1M432.1 474.2h1M435.0 473.0h1M437.9 470.5h1M436.6 480.4h1M429.2 469.2h1M431.8 471.3h1M435.1 473.1h1M434.3 471.7h1M433.9 476.2h1M436.0 470.1h1M433.8 470.2h1M433.7 467.0h1M436.5 477.1h1M433.8 470.6h1M433.0 470.7h1M430.2 481.7h1M442.3 468.0h1M431.2 476.7h1M435.6 466.3h1M429.3 476.5h1M429.1 480.7h1M432.9 474.3h1M434.1 471.2h1M433.7 472.5h1M437.2 473.5h1M434.0 471.4h1M432.5 470.4h1M434.1 482.7h1M436.9 475.0h1M438.3 478.8h1M434.6 473.1h1M431.4 475.1h1M433.3 466.3h1M430.9 483.2h1M434.6 476.3h1M434.6 471.7h1M435.3 479.1h1M433.3 476.4h1M436.7 471.6h1M434.5 470.3h1M435.6 472.1h1M437.0 470.2h1M438.3 472.4h1M432.0 469.6h1M435.8 469.8h1M438.6 480.1h1M435.4 467.1h1M434.0 470.4h1M429.6 475.9h1M439.6 471.3h1M436.1 480.1h1M431.7 472.3h1M434.8 476.2h1M431.2 474.9h1M433.8 478.5h1M430.1 471.2h1M432.8 472.4h1M435.9 470.9h1M440.9 470.5h1M436.2 478.8h1M436.5 472.9h1M432.0 472.7h1M435.8 474.5h1M435.6 476.7h1M431.9 469.4h1M437.7 471.6h1M430.1 482.8h1M432.0 469.4h1M436.5 468.5h1M431.9 478.9h1M432.1 485.9h1M434.3 486.8h1M434.4 474.2h1M432.5 472.8h1M432.8 473.8h1M436.0 467.8h1M431.8 463.9h1M437.9 473.5h1M434.1 473.6h1M436.6 475.4h1M436.2 473.1h1M433.8 473.6h1M429.4 479.1h1M430.2 469.1h1M435.8 474.2h1M436.1 482.1h1M438.8 480.5h1M433.5 483.7h1M431.9 473.5h1M436.6 472.9h1M433.8 472.2h1M437.5 462.1h1M437.3 479.0h1M433.9 476.6h1M431.7 479.2h1M441.8 469.5h1M437.6 473.6h1M433.3 471.6h1M433.6 467.9h1M430.7 481.9h1M434.1 476.6h1M434.9 476.2h1M430.3 469.3h1M435.7 478.7h1M431.2 471.1h1M431.4 477.0h1M435.0 474.1h1M432.5 475.5h1M434.2 470.3h1M434.9 470.7h1M436.5 476.9h1M432.4 476.7h1M434.3 470.5h1M431.8 465.9h1M431.3 475.6h1M437.1 470.9h1M434.5 475.6h1M436.1 476.0h1M437.2 477.6h1M432.2 475.8h1M428.2 473.0h1M434.2 476.7h1M433.3 477.9h1M437.4 469.9h1M432.7 475.2h1M435.3 474.6h1M436.2 468.2h1M436.0 479.5h1M436.9 475.9h1M433.5 475.8h1M433.9 466.3h1M432.6 473.7h1M432.8 469.4h1M433.5 472.1h1M434.3 473.7h1M434.5 478.7h1M434.4 475.9h1M431.0 459.8h1M433.1 477.2h1M433.3 470.9h1M431.0 478.2h1M432.8 475.1h1M436.9 476.5h1M439.7 473.3h1M436.5 477.2h1M432.5 474.1h1M432.7 469.0h1M434.8 470.2h1M438.3 470.3h1M432.7 474.3h1M432.8 474.2h1M432.6 467.1h1M428.1 467.7h1M437.9 476.0h1M434.5 471.7h1M433.7 475.3h1M430.6 470.1h1M431.9 479.9h1M431.5 479.5h1M432.9 487.0h1M433.9 474.1h1M437.5 478.1h1M436.4 468.8h1M436.9 482.0h1M433.8 471.6h1M431.4 478.8h1M434.8 473.9h1M431.0 481.7h1M436.3 473.8h1M437.8 469.3h1M436.3 469.1h1M437.6 472.6h1M437.2 471.9h1M435.1 479.4h1M431.8 474.4h1M432.0 478.0h1M432.6 472.1h1M433.6 479.5h1M431.5 473.8h1M433.3 471.3h1M432.1 473.1h1M434.6 466.5h1M434.7 468.2h1M434.1 484.8h1M431.7 473.6h1M433.5 478.6h1M432.9 465.3h1M430.1 474.8h1M434.7 479.0h1M432.8 477.1h1M431.4 480.1h1M433.9 470.6h1M434.5 482.3h1M432.0 467.9h1M431.6 468.4h1M434.0 475.6h1M433.7 474.8h1M437.1 472.5h1M431.0 462.9h1M434.7 470.6h1M433.5 475.9h1M435.3 466.4h1M431.7 474.3h1M433.7 479.4h1M432.8 464.0h1M437.0 466.0h1M431.7 475.8h1M431.5 485.8h1M434.7 476.5h1M433.0 484.5h1M435.4 470.5h1M437.2 465.8h1M432.6 475.3h1M434.4 469.3h1M438.1 481.0h1M431.8 475.7h1M432.5 471.8h1M436.6 474.5h1M433.8 474.4h1M431.2 479.8h1M432.2 480.2h1M433.0 471.7h1M437.8 474.8h1M432.5 471.3h1M435.6 482.9h1M435.6 472.0h1M431.3 470.7h1M433.8 475.1h1M432.5 480.0h1M431.7 470.5h1M435.3 476.2h1M433.1 478.5h1M430.6 481.7h1M439.6 483.3h1M434.4 483.3h1M434.2 480.3h1M433.6 474.8h1M435.4 465.5h1M433.6 482.1h1M426.8 475.7h1M436.4 475.5h1M434.6 480.6h1M434.9 464.8h1M431.7 472.5h1M434.5 471.8h1M433.8 481.9h1M426.8 479.4h1M436.4 476.8h1M434.1 474.2h1M435.0 475.1h1M432.3 477.6h1M432.0 473.7h1M433.2 468.4h1M435.6 473.6h1M431.2 473.5h1M430.7 480.8h1M435.4 483.4h1M432.7 477.3h1M431.7 469.8h1M433.9 475.9h1M436.4 472.6h1M436.9 478.5h1M431.9 473.0h1M431.8 482.1h1M432.7 478.1h1M436.4 472.7h1M432.9 475.5h1M432.2 467.8h1M431.7 475.5h1M434.6 482.3h1M429.5 476.3h1M431.2 479.4h1M435.8 474.5h1M437.8 472.1h1M432.8 468.9h1M432.5 474.5h1M435.8 480.0h1M433.4 470.4h1M433.3 471.9h1M432.9 472.0h1M431.9 473.7h1M432.8 473.1h1M430.7 474.6h1M435.5 477.0h1M432.7 468.5h1M430.9 468.3h1M432.5 472.4h1M429.7 477.1h1M430.3 470.6h1M432.3 477.8h1M438.7 472.2h1M433.9 478.2h1M434.1 478.9h1M440.7 476.2h1M434.3 477.1h1M435.5 477.9h1M436.0 476.2h1M439.8 480.0h1M430.2 481.5h1M433.4 476.0h1M435.7 477.9h1M436.4 477.8h1M436.8 479.8h1M435.5 479.9h1M433.7 478.3h1M435.7 481.5h1M433.6 486.0h1M438.8 476.0h1M437.3 479.2h1M435.2 477.1h1M438.7 477.0h1M434.4 477.3h1M439.4 483.1h1M431.3 478.1h1M435.5 478.1h1M433.7 476.2h1M435.2 476.2h1M436.7 486.5h1M433.8 484.3h1M435.5 477.4h1M433.7 476.6h1M434.9 481.5h1M436.9 478.6h1M431.7 479.2h1M438.7 480.2h1M434.4 473.3h1M433.5 481.0h1M432.3 483.4h1M433.2 476.8h1M433.2 479.1h1M437.1 477.7h1M430.2 479.2h1M435.9 483.9h1M431.8 483.8h1M436.3 480.7h1M432.7 476.8h1M432.2 482.2h1M435.1 482.6h1M439.1 479.5h1M434.5 485.1h1M431.4 478.1h1M433.7 478.3h1M435.0 476.9h1M437.5 475.4h1M432.6 474.4h1M431.2 481.1h1M436.1 478.8h1M436.7 481.2h1M433.2 479.3h1M435.5 485.3h1M433.5 480.5h1M435.9 483.0h1M435.6 482.6h1M432.0 478.6h1M429.8 479.3h1M440.3 480.1h1M434.8 480.2h1M435.0 475.5h1M432.9 478.9h1M435.0 476.9h1M434.3 477.3h1M431.4 477.5h1M432.6 481.9h1M437.9 481.1h1M434.1 477.8h1M430.7 477.9h1M438.4 482.8h1M435.2 478.7h1M434.6 480.7h1M434.6 480.7h1M432.7 479.6h1M433.7 482.6h1M431.6 483.2h1M434.4 477.9h1M434.7 479.8h1M434.0 480.7h1M433.2 474.5h1M436.3 479.3h1M438.7 480.6h1M429.7 483.1h1M432.9 481.0h1M440.1 482.6h1M431.9 479.2h1M430.7 481.4h1M436.0 476.4h1M435.7 482.2h1M436.6 477.5h1M432.9 476.1h1M431.4 480.3h1M434.7 483.2h1M435.3 478.5h1M431.1 483.9h1M435.0 479.3h1M432.1 476.4h1M436.2 476.6h1M436.0 481.3h1M433.7 474.7h1M435.6 483.5h1M432.6 475.7h1M437.3 479.8h1M433.1 483.0h1M433.9 480.7h1M433.6 477.2h1M435.1 476.9h1M430.2 477.9h1M437.6 482.6h1M439.9 482.3h1M438.6 480.2h1M433.5 480.8h1M432.3 481.6h1M433.5 480.2h1M432.5 479.0h1M437.0 478.8h1M432.9 480.3h1M436.8 478.9h1M431.7 474.9h1M431.3 482.5h1M434.4 480.8h1M437.2 480.3h1M435.8 478.0h1M430.7 481.3h1M434.4 481.1h1M432.0 479.0h1M439.5 477.0h1M434.8 483.2h1M434.0 479.8h1M429.4 481.7h1M433.5 483.2h1M434.4 478.4h1M435.7 478.7h1M433.3 483.9h1M437.0 479.8h1M436.6 481.8h1M436.0 479.6h1M434.8 480.6h1M436.0 480.5h1M433.3 479.2h1M435.7 476.6h1M434.6 481.6h1M435.0 478.6h1M434.5 478.0h1M458.1 470.2h1M446.7 467.0h1M455.2 472.5h1M451.9 466.6h1M453.3 468.4h1M451.1 471.7h1M450.6 472.9h1M450.7 469.9h1M452.9 477.3h1M460.7 475.3h1M450.7 471.7h1M457.8 474.8h1M446.9 471.4h1M450.7 474.5h1M456.6 469.6h1M463.1 470.6h1M464.4 471.0h1M453.5 478.9h1M451.6 469.9h1M460.3 471.5h1M456.0 466.8h1M461.6 475.4h1M455.4 474.4h1M451.7 469.8h1M447.1 473.1h1M459.2 474.9h1M457.9 474.4h1M449.9 466.7h1M456.7 472.3h1M458.1 470.6h1M450.1 473.4h1M451.5 465.4h1M451.3 468.3h1M449.1 469.6h1M458.0 480.6h1M461.3 470.1h1M458.8 471.4h1M455.6 469.1h1M453.6 465.3h1M461.6 468.7h1M456.4 469.4h1M455.1 467.2h1M452.3 475.1h1M456.5 464.3h1M457.6 466.7h1M455.1 473.6h1M451.1 470.5h1M452.8 473.2h1M457.8 476.9h1M455.3 479.3h1M449.8 478.4h1M452.8 474.6h1M453.4 472.0h1M449.9 473.1h1M462.6 472.2h1M453.8 471.7h1M457.0 470.9h1M453.9 472.5h1M459.5 475.3h1M449.4 469.3h1M454.0 474.9h1M458.1 470.9h1M463.1 471.0h1M460.0 477.1h1M460.8 472.4h1M456.4 465.9h1M446.2 469.3h1M457.0 475.7h1M453.5 475.6h1M456.4 477.5h1M447.0 468.5h1M449.8 467.7h1M461.0 468.2h1M450.3 470.2h1M457.7 469.9h1M457.1 473.8h1M451.1 462.7h1M449.9 466.9h1M460.9 468.9h1M449.3 473.1h1M454.1 468.1h1M458.6 475.1h1M455.1 468.8h1M450.1 463.9h1M455.6 473.2h1M449.9 471.8h1M468.0 467.4h1M446.5 474.0h1M452.1 469.8h1M456.6 471.2h1M458.2 473.6h1M458.9 472.1h1M444.6 476.8h1M446.6 475.6h1M455.0 466.4h1M454.2 475.0h1M449.5 471.8h1M450.7 467.8h1M451.2 476.5h1M456.9 471.5h1M453.5 472.1h1M455.1 472.4h1M446.5 475.1h1M450.2 461.7h1M456.9 467.1h1M453.3 471.3h1M451.4 473.7h1M452.7 470.6h1M449.8 470.6h1M449.4 471.8h1M459.6 475.5h1M455.7 466.5h1M458.3 475.2h1M462.8 463.1h1M454.0 470.4h1M458.6 467.5h1M452.3 480.5h1M458.2 464.1h1M454.0 476.8h1M451.2 473.9h1M454.3 466.1h1M451.2 476.0h1M459.0 469.3h1M458.8 468.9h1M455.0 471.6h1M448.5 472.9h1M452.2 461.2h1M450.3 468.4h1M450.3 467.9h1M450.9 462.3h1M457.8 471.9h1M455.0 470.6h1M454.2 470.6h1M449.2 465.8h1M454.2 475.5h1M454.9 477.8h1M448.0 470.6h1M451.2 476.3h1M461.2 469.6h1M457.1 470.7h1M449.6 471.2h1M449.4 477.5h1M456.5 476.2h1M455.5 462.3h1M457.4 472.0h1M443.6 472.0h1M458.3 478.2h1M449.5 474.6h1M455.3 471.0h1M452.7 473.6h1M456.4 474.1h1M452.1 466.6h1M459.6 476.6h1M451.5 471.5h1M457.4 464.9h1M456.1 480.9h1M455.1 468.9h1M462.7 471.7h1M454.8 470.0h1M454.7 464.7h1M448.3 466.0h1M457.8 471.3h1M458.9 463.8h1M451.3 477.2h1M450.5 464.5h1M450.7 470.3h1M453.8 476.6h1M459.7 477.6h1M456.4 469.7h1M451.8 465.9h1M459.4 476.4h1M454.3 468.2h1M456.8 473.5h1M454.6 467.2h1M454.9 469.4h1M457.1 473.9h1M455.8 470.0h1M460.5 474.6h1M459.4 474.8h1M456.8 473.1h1M449.3 464.6h1M449.9 474.0h1M457.8 472.3h1M454.3 478.6h1M452.2 464.8h1M447.2 470.4h1M456.9 474.4h1M452.9 474.7h1M453.7 468.8h1M452.3 474.5h1M458.0 467.3h1M449.6 472.1h1M463.1 467.1h1M448.5 473.2h1M456.1 469.3h1M453.8 473.5h1M446.4 471.5h1M456.5 475.1h1M458.9 471.3h1M447.7 476.8h1M457.2 469.2h1M458.4 475.6h1M453.3 462.6h1M451.9 468.7h1M450.3 471.3h1M449.2 473.1h1M462.0 467.0h1M458.4 469.6h1M456.2 471.1h1M459.4 468.9h1M457.1 468.6h1M454.9 471.5h1M458.6 465.6h1M448.1 476.9h1M455.6 478.1h1M449.5 472.4h1M456.5 478.4h1M453.7 469.9h1M457.0 471.2h1M450.7 474.5h1M445.7 467.7h1M459.8 469.7h1M452.5 473.0h1M458.7 473.6h1M449.7 469.4h1M458.4 471.1h1M451.2 475.0h1M458.8 479.9h1M449.3 468.9h1M450.9 473.0h1M451.8 475.9h1M442.3 475.3h1M451.1 470.5h1M456.3 472.4h1M449.5 477.4h1M456.4 469.7h1M454.8 467.4h1M448.6 470.4h1M455.5 472.0h1M450.6 466.3h1M446.7 477.7h1M455.5 468.5h1M459.0 473.7h1M452.1 469.2h1M458.8 472.9h1M460.9 473.0h1M451.4 469.3h1M450.9 472.6h1M455.0 473.9h1M455.8 467.6h1M453.0 468.0h1M456.0 466.6h1M451.4 468.3h1M451.3 470.6h1M460.4 470.6h1M447.8 470.4h1M457.1 473.7h1M454.9 479.2h1M458.7 472.0h1M459.1 466.5h1M455.8 483.6h1M457.3 493.1h1M454.3 493.0h1M452.0 492.4h1M449.1 483.6h1M460.9 486.5h1M457.1 486.9h1M457.3 486.2h1M452.2 485.8h1M457.0 483.4h1M458.5 493.7h1M449.3 484.8h1M455.3 487.0h1M456.9 484.1h1M456.4 486.9h1M456.1 492.8h1M457.1 481.2h1M449.6 489.2h1M455.0 484.5h1M450.6 485.7h1M456.1 484.3h1M455.0 490.3h1M459.9 489.0h1M455.7 481.7h1M459.9 492.6h1M462.1 491.4h1M457.7 488.3h1M456.4 491.7h1M455.3 495.1h1M459.9 485.7h1M456.5 480.7h1M453.3 485.7h1M467.2 483.8h1M460.5 487.2h1M455.2 489.3h1M447.8 490.5h1M465.0 488.0h1M456.2 487.5h1M459.4 485.0h1M457.0 488.8h1M455.0 488.4h1M458.0 489.6h1M452.2 484.8h1M454.6 491.5h1M457.6 480.6h1M450.9 494.3h1M458.0 481.9h1M452.5 487.4h1M462.7 493.1h1M454.9 485.8h1M464.9 483.1h1M463.3 488.2h1M456.9 491.8h1M458.6 483.7h1M449.8 487.0h1M458.7 492.1h1M445.1 492.1h1M459.2 492.7h1M460.0 487.7h1M458.4 488.4h1M453.8 486.5h1M457.1 485.2h1M450.1 481.4h1M458.7 488.9h1M457.0 482.4h1M460.2 485.4h1M447.4 492.9h1M458.8 485.2h1M446.2 484.2h1M463.0 492.1h1M457.6 480.3h1M454.8 485.8h1M458.5 486.4h1M458.0 480.6h1M453.7 492.4h1M450.2 490.5h1M466.6 489.4h1M450.4 491.7h1M448.4 488.2h1M454.7 491.7h1M461.7 487.6h1M464.3 490.7h1M454.4 483.1h1M467.3 485.3h1M458.3 486.5h1M454.4 480.7h1M455.9 486.5h1M460.8 484.9h1M449.7 482.8h1M456.3 487.9h1M459.7 485.4h1M458.9 487.5h1M463.9 486.7h1M457.1 489.1h1M461.8 483.4h1M454.4 485.8h1M447.2 491.9h1M461.2 487.0h1M465.3 492.9h1M460.5 481.4h1M463.2 488.5h1M451.3 487.1h1M459.8 490.7h1M457.3 484.9h1M459.8 484.0h1M456.2 489.8h1M450.2 488.3h1M447.9 483.3h1M451.1 486.6h1M459.6 486.7h1M460.5 487.3h1M455.6 488.8h1M455.5 487.4h1M461.1 484.7h1M461.5 482.6h1M455.5 480.2h1M454.2 493.0h1M458.1 491.8h1M450.1 483.0h1M458.5 490.1h1M460.2 480.4h1M458.7 486.6h1M457.0 488.7h1M455.3 480.4h1M451.8 481.3h1M450.7 486.4h1M462.2 484.1h1M453.2 482.5h1M448.9 487.2h1M454.4 486.0h1M452.3 488.8h1M451.2 489.0h1M453.6 489.9h1M452.6 488.6h1M458.4 486.6h1M463.7 487.6h1M452.6 489.6h1M452.9 484.8h1M456.6 487.6h1M464.0 480.2h1M455.4 491.3h1M455.8 488.1h1M463.2 482.1h1M456.7 490.0h1M453.9 480.1h1M452.1 487.7h1M457.3 494.0h1M462.3 480.9h1M461.0 490.4h1M463.6 486.3h1M454.1 487.5h1M463.3 489.3h1M463.9 489.9h1M453.9 483.0h1M464.6 481.0h1M455.0 485.7h1M452.5 484.7h1M456.2 484.9h1M457.0 490.5h1M452.9 485.3h1M448.8 489.6h1M459.5 492.7h1M460.3 485.8h1M454.8 485.7h1M451.2 489.9h1M453.8 484.1h1M458.8 487.3h1M453.9 486.0h1M454.3 492.1h1M460.9 484.1h1M456.3 492.2h1M455.2 493.8h1M458.5 489.5h1M447.4 490.2h1M458.0 489.2h1M458.6 488.9h1M454.3 490.4h1M456.8 482.8h1M452.0 487.5h1M458.0 478.4h1M447.4 491.0h1M449.8 485.9h1M453.9 489.1h1M462.7 493.1h1M452.1 491.7h1M443.8 482.1h1M453.3 484.8h1M446.6 491.1h1M451.6 479.2h1M450.3 470.1h1M457.0 482.3h1M446.2 476.9h1M452.2 486.9h1M450.9 487.6h1M455.2 464.1h1M447.4 461.7h1M450.1 475.8h1M456.1 480.9h1M451.7 490.4h1M456.2 468.7h1M447.4 482.3h1M463.7 477.7h1M450.9 481.7h1M457.4 478.6h1M454.1 475.7h1M448.3 472.5h1M456.6 474.5h1M455.9 482.9h1M458.8 456.0h1M445.5 468.7h1M451.0 486.4h1M469.4 492.9h1M461.4 482.7h1M449.5 484.1h1M437.2 487.5h1M452.2 484.8h1M445.1 469.8h1M447.7 479.0h1M454.5 476.3h1M454.5 485.3h1M444.2 478.5h1M441.5 474.6h1M458.3 473.2h1M464.8 483.8h1M458.2 480.3h1M458.0 489.0h1M452.8 474.8h1M450.8 475.4h1M447.3 464.7h1M448.7 482.2h1M448.8 472.8h1M454.9 483.4h1M449.1 482.1h1M445.4 486.9h1M445.4 476.5h1M453.0 475.7h1M462.5 464.1h1M452.9 468.3h1M454.2 468.0h1M456.1 484.1h1M463.8 489.9h1M449.0 487.7h1M449.0 478.4h1M448.7 464.0h1M456.2 461.6h1M450.5 484.0h1M452.9 465.6h1M447.7 485.4h1M459.6 493.4h1M439.7 483.4h1M448.8 486.1h1M440.6 478.2h1M456.9 473.8h1M449.6 470.8h1M459.7 467.8h1M445.9 476.5h1M454.0 472.1h1M456.1 482.4h1M454.0 478.8h1M455.3 469.1h1M443.9 475.7h1M444.5 485.5h1M465.4 490.2h1M455.2 482.4h1M447.4 468.0h1M455.9 466.4h1M454.2 478.2h1M457.2 479.8h1M452.8 474.3h1M440.3 476.4h1M456.9 488.6h1" stroke="#000" stroke-width="1" fill="none"/>
</g>
<path d="M421.1 480.59999999999997h51.7" stroke="#888" stroke-width="0.8" fill="none"/>
<path d="M443.0 445.4v51.4" stroke="#222" stroke-width="0.8" fill="none"/>
<rect x="421.1" y="445.4" width="51.7" height="51.4" fill="none" stroke="#222" stroke-width="1"/>
<text class="pn" x="422.9" y="452.4">6.3</text>
<text class="pn" x="468.8" y="452.4" text-anchor="end">4.7</text>
<rect x="459.3" y="453.6" width="10.0" height="0.8" fill="#000"/>
<text class="pn" x="468.8" y="460.5" text-anchor="end">3.3</text>
<text class="pt" x="186.0" y="520.2" textLength="64.8" lengthAdjust="spacingAndGlyphs">IL-1<tspan class="b">β</tspan> + IL-6 + IL-23</text>
<g filter="url(#bl)">
<ellipse cx="203.9" cy="570.4" rx="9" ry="7" fill="#000"/>
<circle cx="209.7" cy="567.1" r="3.1" fill="#000"/>
<circle cx="198.1" cy="573.6" r="2.7" fill="#000"/>
<circle cx="202.6" cy="572.9" r="3.4" fill="#000"/>
<circle cx="205.4" cy="564.9" r="3.0" fill="#000"/>
<circle cx="201.5" cy="573.3" r="3.0" fill="#000"/>
<circle cx="197.0" cy="570.9" r="3.1" fill="#000"/>
<circle cx="199.2" cy="573.1" r="3.2" fill="#000"/>
<ellipse cx="229.6" cy="547.9" rx="2.2" ry="3.5" fill="#000"/>
<ellipse cx="230.4" cy="567.4" rx="2.2" ry="2.8" fill="#000"/>
<path d="M199.0 561.6h1M207.1 563.5h1M195.5 569.2h1M210.5 566.6h1M200.6 559.2h1M209.0 575.7h1M212.6 570.2h1M210.3 575.3h1M213.5 574.3h1M210.0 562.7h1M193.8 567.4h1M196.6 566.1h1M202.5 563.2h1M208.3 563.7h1M198.9 576.1h1M210.4 561.8h1M212.1 568.7h1M214.3 571.6h1M198.2 561.9h1M202.9 562.6h1M195.8 571.9h1M195.1 571.9h1M195.9 564.8h1M214.3 562.7h1M209.8 564.4h1M213.9 570.7h1M195.2 565.6h1M211.4 575.4h1M212.9 565.9h1M213.8 568.7h1M196.6 566.8h1M195.0 568.5h1M202.2 558.0h1M211.0 574.6h1M211.7 568.7h1M193.7 567.2h1M214.5 566.8h1M213.3 567.9h1M208.2 563.4h1M219.0 571.8h1M201.5 563.4h1M195.6 561.2h1M215.1 574.6h1M200.9 563.6h1M212.4 573.9h1M213.2 570.3h1M207.1 561.6h1M215.6 568.7h1M199.7 564.4h1M210.4 562.8h1M210.0 563.8h1M195.4 568.8h1M194.4 573.9h1M216.5 570.6h1M214.5 562.8h1M197.2 566.6h1M195.0 566.1h1M211.4 573.4h1M200.5 563.1h1M195.0 573.2h1M213.3 569.8h1M206.4 563.9h1M197.2 565.1h1M194.8 572.6h1M203.7 563.5h1M199.4 564.0h1M196.7 565.7h1M204.5 561.1h1M200.5 564.1h1M196.1 565.4h1M195.0 572.0h1M203.0 560.4h1M215.7 566.7h1M210.6 564.6h1M218.8 575.4h1M197.8 565.3h1M211.3 567.7h1M211.3 573.2h1M212.5 572.0h1M195.6 569.3h1M197.1 564.6h1M214.6 568.3h1M214.4 572.3h1M206.0 561.7h1M194.4 574.4h1M211.3 567.1h1M203.1 563.7h1M213.6 572.1h1M208.9 563.4h1M213.9 571.4h1M199.1 576.2h1M213.0 569.4h1M210.6 566.7h1M196.6 573.6h1M210.8 574.9h1M207.4 559.7h1M206.1 564.0h1M211.0 574.0h1M209.4 563.9h1M210.3 564.1h1M214.1 570.5h1M217.0 569.3h1M207.4 562.2h1M211.6 567.4h1M216.6 568.1h1M219.4 575.2h1M199.8 560.1h1M199.3 576.3h1M196.8 573.7h1M214.1 563.6h1M196.1 574.4h1M211.0 574.3h1M202.1 563.7h1M202.8 562.8h1M202.2 563.0h1M208.4 563.6h1M194.9 567.4h1M197.3 574.4h1M210.5 564.5h1M197.1 564.6h1M195.0 568.6h1M197.1 564.2h1M196.3 566.9h1M215.2 570.4h1M212.4 569.6h1M211.4 575.3h1M213.4 571.3h1M197.8 574.7h1M214.8 571.4h1M212.8 570.5h1M194.2 570.3h1M196.3 565.0h1M194.9 563.8h1M197.7 575.1h1M208.3 564.9h1M210.0 565.0h1M205.0 563.6h1M210.3 564.4h1M208.0 563.5h1M214.0 567.1h1M209.8 575.7h1M195.5 562.8h1M194.8 568.8h1M214.8 574.9h1M196.2 561.4h1M211.6 574.1h1M215.5 571.9h1M195.4 565.5h1M211.3 573.6h1M194.9 566.0h1M213.6 569.8h1M205.5 560.1h1M197.8 564.8h1M217.2 567.7h1M194.4 567.0h1M205.7 563.5h1M201.3 563.1h1M222.2 570.3h1M206.5 564.1h1M214.3 567.2h1M212.9 571.6h1M210.8 574.6h1M194.0 571.2h1M195.5 572.8h1M197.7 574.5h1M212.4 569.2h1M203.4 562.2h1M195.7 570.7h1M209.6 575.3h1M195.9 575.9h1M215.9 568.4h1M213.4 568.7h1M195.5 562.3h1M215.8 572.5h1M195.9 566.9h1M211.4 573.0h1M196.8 563.5h1M210.6 566.3h1M213.7 569.5h1M206.6 563.2h1M215.7 575.1h1M201.3 562.0h1M207.5 560.3h1M209.9 559.5h1M194.6 571.4h1M214.7 573.1h1M211.3 563.8h1M210.6 574.6h1M193.4 563.7h1M212.9 572.7h1M195.7 572.0h1M204.7 562.5h1M212.5 545.5h1M207.7 550.8h1M204.3 555.6h1M206.4 561.7h1M207.9 549.0h1M199.3 550.3h1M208.9 546.4h1M209.0 555.4h1M201.7 549.7h1M207.5 555.8h1M207.0 550.9h1M205.6 549.1h1M206.6 544.2h1M208.4 548.9h1M208.0 547.7h1M207.7 551.8h1M209.1 554.0h1M209.2 549.9h1M206.4 549.3h1M203.1 550.2h1M209.6 555.9h1M204.2 552.9h1M208.7 542.3h1M207.6 553.1h1M208.7 552.6h1M201.8 538.1h1M212.1 548.5h1M210.1 559.1h1M206.8 543.7h1M210.4 550.8h1M208.0 554.1h1M209.2 557.5h1M202.7 542.0h1M207.0 551.1h1M208.8 550.1h1M206.1 564.0h1M210.4 558.4h1M209.5 546.0h1M206.4 550.6h1M203.6 545.4h1M207.0 543.2h1M208.1 554.0h1M205.9 548.8h1M208.3 554.1h1M207.6 543.2h1M202.1 564.1h1M204.8 548.7h1M201.6 545.9h1M204.6 556.1h1M199.3 542.0h1M205.5 547.9h1M204.5 548.2h1M202.2 552.7h1M209.9 552.0h1M205.1 559.1h1M207.9 544.4h1M205.0 547.1h1M206.5 558.8h1M204.7 550.1h1M206.9 543.4h1M205.3 554.9h1M209.7 539.0h1M208.6 549.1h1M210.2 555.0h1M212.0 553.0h1M205.5 545.7h1M202.6 554.5h1M208.0 556.2h1M207.6 541.4h1M205.5 549.4h1M207.0 555.9h1M210.5 552.8h1M200.9 544.5h1M200.7 546.1h1M203.3 552.5h1M206.0 558.1h1M209.6 548.1h1M209.2 551.1h1M207.9 559.6h1M203.4 550.6h1M210.9 546.1h1M207.2 551.8h1M205.5 542.7h1M204.7 544.7h1M209.6 552.6h1M208.5 543.4h1M208.0 551.9h1M209.5 546.4h1M208.8 559.7h1M211.6 545.1h1M203.5 541.7h1M209.3 554.8h1M207.5 545.5h1M210.1 561.2h1M206.5 550.2h1M209.9 554.2h1M210.3 548.4h1M207.5 548.8h1M205.0 549.1h1M205.8 554.2h1M205.8 551.5h1M204.4 543.2h1M210.6 544.7h1M211.6 557.0h1M200.3 546.9h1M205.4 551.1h1M206.1 547.2h1M210.1 550.2h1M209.3 546.6h1M204.7 559.5h1M205.8 544.0h1M206.1 557.7h1M206.2 546.4h1M208.4 557.3h1M206.0 549.0h1M205.6 568.2h1M206.1 562.1h1M206.2 553.6h1M201.0 552.1h1M206.7 549.0h1M205.5 542.3h1M202.5 552.1h1M204.8 550.4h1M206.1 547.8h1M204.6 562.8h1M203.6 547.8h1M205.8 543.7h1M204.0 556.5h1M209.2 551.8h1M215.6 556.3h1M210.0 545.8h1M209.6 561.7h1M205.6 562.5h1M204.4 543.8h1M206.5 545.9h1M208.4 544.0h1M206.8 538.6h1M206.5 557.7h1M205.9 553.0h1M209.6 544.0h1M203.1 551.5h1M207.4 549.3h1M203.9 558.7h1M203.4 549.4h1M206.5 555.6h1M205.4 545.8h1M212.2 545.6h1M208.8 550.0h1M205.3 550.7h1M205.9 553.0h1M199.6 550.8h1M206.8 544.8h1M205.5 565.8h1M211.7 555.1h1M207.3 549.1h1M210.4 548.2h1M204.3 555.4h1M203.9 546.0h1M210.6 540.8h1M206.4 551.8h1M207.3 541.8h1M206.0 548.9h1M211.9 557.4h1M204.5 556.6h1M208.4 550.3h1M205.9 549.3h1M202.3 547.0h1M209.2 560.2h1M211.7 548.6h1M208.3 535.7h1M205.9 543.0h1M208.9 540.5h1M203.7 544.0h1M207.7 556.3h1M204.1 562.4h1M207.1 545.7h1M207.6 550.9h1M208.9 553.2h1M212.7 558.4h1M204.8 556.0h1M208.7 544.7h1M204.5 545.9h1M199.8 555.0h1M206.0 558.8h1M205.1 551.5h1M208.6 557.1h1M207.5 544.4h1M212.7 556.5h1M210.4 561.3h1M210.5 553.6h1M207.9 555.0h1M202.5 556.2h1M203.9 553.7h1M203.8 555.5h1M205.3 566.8h1M207.1 554.2h1M204.1 549.2h1M206.5 549.2h1M205.4 545.5h1M208.7 548.6h1M204.4 553.3h1M204.4 549.9h1M205.2 545.1h1M206.0 545.8h1M203.2 553.2h1M205.8 541.7h1M205.5 552.2h1M207.8 553.4h1M207.3 554.8h1M205.3 545.9h1M208.3 548.4h1M206.6 555.1h1M209.2 558.8h1M204.7 548.7h1M208.2 541.9h1M203.1 554.9h1M204.9 545.2h1M208.8 554.4h1M209.2 548.9h1M205.8 548.9h1M207.4 538.2h1M204.7 555.5h1M204.5 550.6h1M207.0 554.3h1M205.3 543.8h1M213.5 546.5h1M211.3 539.9h1M206.9 549.8h1M211.8 563.9h1M209.3 544.6h1M204.4 546.2h1M205.2 552.7h1M204.5 549.4h1M210.7 560.1h1M201.5 545.0h1M205.6 559.2h1M205.7 563.1h1M207.6 560.1h1M204.3 549.0h1M209.4 554.6h1M201.5 549.3h1M207.1 555.0h1M204.9 562.0h1M207.0 560.2h1M207.7 551.5h1M205.7 543.6h1M209.0 555.8h1M209.2 548.6h1M203.9 548.6h1M205.8 550.9h1M209.3 545.3h1M205.3 555.4h1M209.1 565.0h1M208.1 545.7h1M203.8 546.0h1M206.8 552.6h1M206.4 547.1h1M206.1 550.5h1M208.3 551.5h1M227.4 542.8h1M227.6 543.0h1M225.6 547.0h1M227.5 548.1h1M231.8 543.5h1M227.2 548.5h1M230.1 551.4h1M227.7 546.2h1M230.0 551.2h1M228.7 544.2h1M227.8 545.3h1M228.5 554.0h1M228.2 543.0h1M231.0 543.6h1M229.8 543.9h1M231.6 545.8h1M232.3 547.1h1M230.6 544.7h1M228.4 543.9h1M226.5 549.4h1M227.8 550.2h1M226.5 546.7h1M231.1 545.5h1M227.6 548.6h1M231.4 549.9h1M231.3 545.5h1M230.1 552.5h1M228.3 543.6h1M227.2 550.3h1M232.0 546.6h1M226.7 547.7h1M227.7 549.7h1M228.5 543.5h1M232.1 546.0h1M229.8 543.6h1M231.4 549.9h1M232.7 551.1h1M231.2 545.1h1M230.4 550.8h1M226.1 548.6h1M231.0 545.1h1M226.9 547.5h1M229.2 543.7h1M231.1 545.3h1M227.7 550.4h1M227.3 548.3h1M228.8 543.7h1M226.7 548.1h1M232.2 548.2h1M227.5 546.9h1M231.6 547.1h1M230.2 551.4h1M231.1 551.3h1M232.3 549.1h1M229.3 551.8h1M228.9 550.9h1M231.7 545.6h1M227.8 545.9h1M232.0 551.2h1M231.4 549.7h1M227.2 546.7h1M227.2 544.4h1M231.6 545.8h1M230.5 551.3h1M229.0 544.7h1M227.6 549.7h1M228.9 553.6h1M227.4 546.5h1M229.5 544.7h1M227.7 545.0h1M227.5 551.3h1M228.5 544.9h1M230.7 551.0h1M228.7 551.4h1M231.2 544.3h1M231.6 546.9h1M232.0 548.8h1M231.7 548.6h1M229.8 543.6h1M232.8 548.1h1M231.2 550.4h1M227.4 548.5h1M228.4 550.6h1M232.5 546.9h1M231.2 544.1h1M232.5 544.4h1M227.3 546.3h1M228.7 550.9h1M230.0 551.6h1M228.2 552.3h1M230.0 542.5h1M231.9 550.1h1M231.4 543.8h1M229.7 551.1h1M228.6 543.3h1M227.2 545.7h1M231.1 550.9h1M232.9 548.4h1M227.4 544.1h1M228.5 551.2h1M226.3 548.7h1M231.6 549.4h1M227.6 547.7h1M229.4 552.8h1M230.2 551.2h1M227.2 552.4h1M231.1 545.7h1M227.1 546.5h1M232.7 548.2h1M231.5 550.4h1M226.4 547.3h1M229.1 551.0h1M231.5 546.0h1M230.5 544.7h1M231.4 545.3h1M231.7 544.0h1M232.1 544.2h1M229.6 552.1h1M230.4 544.4h1M231.9 545.3h1M230.9 541.8h1M227.8 546.4h1M229.4 544.1h1M226.9 547.9h1M227.5 547.7h1M231.1 544.5h1M231.0 544.8h1M226.4 547.6h1M227.8 546.5h1M227.7 549.0h1M231.8 547.2h1M232.1 550.0h1M229.5 551.2h1M230.3 544.6h1M230.3 544.2h1M231.8 546.3h1M226.9 552.4h1M227.1 546.8h1M228.7 545.0h1M229.4 551.1h1M231.4 550.1h1M232.1 546.8h1M228.5 544.4h1M228.3 552.5h1M226.3 547.0h1M230.2 543.7h1M227.6 546.2h1M231.5 551.0h1M228.7 550.8h1M231.6 551.5h1M229.7 551.3h1M231.5 548.8h1M226.6 549.5h1M231.9 551.7h1M229.6 544.4h1M227.0 546.8h1M232.2 547.7h1M232.1 547.3h1M229.4 552.1h1M227.7 549.5h1M228.4 552.2h1M228.3 542.9h1M231.0 552.7h1M227.5 547.8h1M231.3 544.2h1M230.2 543.7h1M230.0 544.6h1M227.4 548.4h1M229.3 552.1h1M227.2 549.0h1M226.2 546.6h1M229.0 552.4h1M229.3 551.3h1M231.0 544.9h1M231.8 545.9h1M231.7 545.6h1M232.6 542.4h1M228.8 551.4h1M231.4 549.2h1M232.6 548.4h1M229.5 553.0h1M230.8 550.8h1M231.1 550.3h1M231.3 550.4h1M231.6 550.3h1M233.1 549.4h1M230.5 543.9h1M228.7 552.4h1M230.5 544.7h1M231.6 547.0h1M230.2 552.9h1M232.2 549.1h1M231.5 549.9h1M228.4 544.7h1M228.6 545.0h1M230.3 552.4h1M231.6 544.6h1M227.5 544.7h1M232.5 549.7h1M226.7 547.5h1M226.3 546.0h1M229.5 542.6h1M228.7 555.9h1M229.5 549.9h1M223.0 547.9h1M229.0 545.7h1M225.2 549.0h1M226.3 546.5h1M224.5 548.9h1M232.2 544.9h1M230.4 541.3h1M231.2 552.3h1M228.2 554.1h1M226.7 549.7h1M234.6 549.3h1M226.0 555.6h1M231.1 547.9h1M223.8 539.3h1M224.8 557.4h1M230.3 544.8h1M233.0 557.3h1M226.8 552.0h1M224.4 551.4h1M235.0 541.8h1M229.6 546.0h1M229.1 549.9h1M230.3 554.2h1M231.0 555.0h1M232.5 555.3h1M227.4 551.6h1M228.3 544.9h1M235.4 551.0h1M229.6 538.1h1M228.7 553.5h1M228.8 546.5h1M234.0 547.7h1M228.4 548.9h1M228.7 555.0h1M231.2 549.0h1M228.3 548.2h1M234.6 547.8h1M231.4 540.9h1M230.4 553.1h1M233.3 551.1h1M231.2 551.1h1M232.7 560.4h1M230.0 545.0h1M231.3 548.8h1M231.4 553.6h1M229.9 547.0h1M230.4 542.7h1M230.3 544.6h1M230.8 550.1h1M228.8 543.0h1M229.6 545.8h1M229.0 553.1h1M232.4 542.5h1M232.3 556.7h1M232.9 550.9h1M229.2 558.7h1M228.5 541.2h1M229.7 550.9h1M226.3 542.9h1M235.5 550.0h1M231.8 546.3h1M224.8 548.4h1M233.5 545.8h1M223.9 548.5h1M228.6 549.5h1M226.2 547.7h1M227.8 554.1h1M229.9 554.1h1M229.3 538.0h1M223.4 552.3h1M232.1 554.1h1M229.2 539.8h1M227.9 551.6h1M233.7 547.6h1M227.7 545.2h1M232.6 554.1h1M223.8 555.9h1M226.6 541.5h1M224.6 545.5h1M236.5 563.1h1M225.6 545.8h1M229.9 551.6h1M228.0 540.9h1M228.2 545.7h1M223.9 550.2h1M224.9 540.1h1M234.1 554.5h1M233.9 550.0h1M228.2 548.9h1M225.3 553.4h1M230.3 547.8h1M223.7 548.8h1M234.4 557.2h1M232.1 547.5h1M229.9 552.4h1M230.0 555.0h1M227.4 536.9h1M222.0 544.5h1M225.2 553.0h1M232.7 549.4h1M231.1 549.8h1M230.0 546.9h1M228.2 555.8h1M228.6 549.2h1M233.1 554.7h1M228.2 550.8h1M226.3 550.1h1M230.4 549.4h1M229.9 551.4h1M221.7 545.0h1M229.7 546.8h1M226.5 548.1h1M234.4 548.2h1M227.4 546.8h1M225.8 552.0h1M226.4 554.3h1M232.2 552.5h1M232.6 548.9h1M224.0 549.1h1M231.4 541.1h1M225.7 555.3h1M230.8 556.6h1M231.5 549.8h1M230.8 554.0h1M229.4 548.3h1M230.4 547.7h1M236.8 545.3h1M224.8 542.5h1M232.7 547.2h1M229.9 548.2h1M230.3 541.6h1M229.7 546.3h1M232.8 552.7h1M225.6 544.2h1M231.2 555.8h1M231.8 548.6h1M232.9 536.7h1M227.8 544.2h1M226.3 552.4h1M230.3 550.9h1M229.0 552.7h1M231.8 546.3h1M232.3 544.4h1M234.9 542.4h1M228.6 543.6h1M229.6 556.5h1M227.1 559.0h1M233.8 551.5h1M227.6 554.3h1M220.6 545.3h1M232.4 549.2h1M237.1 545.8h1M225.3 548.2h1M231.2 558.6h1M224.0 550.3h1M233.3 545.8h1M228.0 542.9h1M231.8 553.9h1M231.3 550.7h1M232.5 548.7h1M231.7 553.8h1M233.5 552.2h1M229.7 553.2h1M224.6 539.9h1M234.5 550.1h1M226.2 546.3h1M229.0 549.8h1M227.1 554.8h1M224.2 564.5h1M226.1 558.4h1M231.5 540.3h1M225.6 549.7h1M230.3 547.1h1M229.5 550.3h1M225.9 549.7h1M236.5 545.9h1M226.3 553.0h1M233.6 555.0h1M227.5 549.0h1M230.1 548.3h1M230.7 555.3h1M231.1 549.3h1M228.8 559.1h1M225.6 560.2h1M231.7 549.9h1M227.1 559.3h1M233.2 554.3h1M236.0 539.7h1M229.8 547.7h1M227.2 549.8h1M231.1 552.2h1M229.0 542.2h1M231.2 552.7h1M236.1 554.5h1M229.5 543.2h1M238.0 545.7h1M230.1 553.5h1M231.0 556.6h1M226.2 545.7h1M230.0 542.7h1M227.5 556.9h1M230.4 548.8h1M227.7 549.7h1M229.3 543.6h1M231.9 542.5h1M233.5 547.6h1M222.3 541.0h1M230.4 544.7h1M235.1 556.9h1M236.1 554.3h1M233.7 546.1h1M233.6 547.0h1M229.3 542.0h1M229.6 551.6h1M229.2 543.4h1M232.3 554.4h1M229.2 553.7h1M232.6 544.0h1M229.3 539.3h1M226.2 551.7h1M226.7 551.5h1M230.6 538.2h1M227.9 557.7h1M229.5 550.1h1M227.2 540.7h1M224.4 565.1h1M228.9 544.7h1M229.8 538.8h1M233.9 558.8h1M227.1 551.2h1M226.6 554.1h1M226.8 548.6h1M233.6 552.3h1M228.4 541.1h1M224.4 556.0h1M231.1 549.7h1M233.4 550.2h1M227.1 548.8h1M229.1 549.3h1M237.4 552.6h1M230.3 548.0h1M227.3 544.0h1M223.4 546.9h1M224.6 539.3h1M226.4 538.3h1M233.8 556.2h1M226.3 560.6h1M231.5 535.6h1M229.5 543.9h1M223.9 548.0h1M233.1 551.8h1M224.8 545.8h1M227.0 555.7h1M229.1 544.0h1M226.5 538.6h1M226.7 554.3h1M223.3 550.5h1M229.1 553.9h1M225.8 554.4h1M234.4 562.0h1M224.2 549.2h1M228.8 550.1h1M226.3 554.1h1M236.9 557.7h1M226.4 546.2h1M231.8 550.1h1M227.0 556.2h1M231.1 555.0h1M228.9 556.4h1M227.9 543.3h1M229.4 541.7h1M233.4 553.4h1M224.0 550.3h1M232.1 547.4h1M230.8 546.2h1M229.2 548.9h1M231.0 544.1h1M225.8 551.2h1M227.8 552.3h1M227.8 542.2h1M231.8 550.9h1M231.8 547.5h1M228.3 556.4h1M224.0 559.0h1M231.1 549.1h1M229.7 552.7h1M226.9 550.9h1M226.4 539.2h1M230.1 549.9h1M231.5 552.5h1M231.7 553.8h1M226.0 556.1h1M238.0 546.3h1M225.4 553.2h1M232.4 555.0h1M234.4 541.8h1M230.6 552.0h1M233.4 544.5h1M229.5 547.4h1M228.9 548.6h1M228.9 539.6h1M229.3 549.8h1M228.2 529.8h1M227.2 545.8h1M226.6 558.2h1M232.4 548.4h1M231.3 567.6h1M226.3 552.0h1M227.5 557.6h1M233.0 548.7h1M231.4 545.0h1M224.3 554.1h1M234.7 547.7h1M227.7 539.5h1M236.3 542.8h1M226.3 548.3h1M233.3 549.7h1M229.3 549.5h1M232.1 549.2h1M229.9 549.0h1M225.8 556.8h1M227.2 542.1h1M228.0 549.6h1M232.0 541.3h1M225.3 550.4h1M230.6 543.3h1M225.8 550.4h1M228.9 540.5h1M226.6 557.6h1M226.0 555.2h1M224.5 557.6h1M234.6 545.9h1M227.2 552.9h1M225.4 552.4h1M233.3 550.9h1M230.4 548.5h1M232.6 544.9h1M234.5 549.3h1M228.4 540.4h1M228.0 550.7h1M233.4 540.5h1M229.0 545.6h1M225.6 549.4h1M227.0 554.2h1M220.7 553.5h1M223.3 538.6h1M232.6 565.6h1M228.0 570.2h1M227.7 565.0h1M229.6 570.4h1M229.1 564.0h1M227.4 567.6h1M228.7 564.7h1M232.4 567.5h1M232.9 564.9h1M231.5 565.0h1M233.4 564.3h1M227.6 570.3h1M230.1 564.4h1M228.1 569.0h1M228.8 569.7h1M232.0 564.6h1M233.6 569.0h1M228.5 566.4h1M228.9 565.0h1M232.7 564.4h1M228.5 569.6h1M230.4 569.9h1M231.9 564.8h1M228.7 564.8h1M231.5 570.6h1M228.6 566.2h1M231.5 570.5h1M230.2 570.2h1M230.2 563.8h1M230.4 563.5h1M227.9 570.6h1M228.2 566.5h1M228.3 565.9h1M232.9 565.3h1M233.5 567.6h1M228.6 568.9h1M232.8 565.4h1M233.1 567.6h1M228.3 564.8h1M231.6 564.6h1M232.0 569.6h1M230.4 570.7h1M232.8 568.1h1M228.0 566.8h1M232.5 566.3h1M228.6 569.8h1M228.7 564.7h1M232.1 570.5h1M233.4 568.5h1M232.1 569.9h1M232.4 568.2h1M232.4 566.1h1M229.5 564.5h1M232.9 568.6h1M233.0 569.4h1M233.2 565.1h1M230.5 564.0h1M227.6 567.2h1M228.8 564.4h1M231.4 565.2h1M229.4 571.1h1M233.0 566.6h1M228.9 570.3h1M231.0 570.3h1M229.1 569.5h1M227.9 567.8h1M229.7 571.4h1M232.4 569.6h1M228.0 567.7h1M229.0 563.9h1M230.8 570.0h1M229.1 570.4h1M232.8 565.0h1M228.0 569.8h1M228.2 568.2h1M233.1 566.3h1M232.4 569.1h1M231.7 565.0h1M229.7 570.1h1M229.7 565.0h1M228.0 567.1h1M230.3 563.3h1M230.2 569.9h1M233.4 568.6h1M232.4 566.3h1M228.5 570.3h1M233.3 569.4h1M232.2 569.5h1M232.3 569.1h1M231.1 563.9h1M227.3 569.9h1M229.5 569.9h1M227.7 566.6h1M231.4 564.6h1M229.8 564.7h1M227.8 567.3h1M228.4 566.7h1M231.2 565.0h1M227.7 568.6h1M227.2 565.9h1M230.3 564.8h1M233.1 565.3h1M232.5 568.4h1M228.8 565.1h1M230.9 570.4h1M231.3 569.7h1M227.6 566.5h1M232.6 567.6h1M228.4 567.0h1M232.6 568.4h1M231.8 569.9h1M228.2 568.1h1M231.5 569.7h1M228.8 571.6h1M232.5 568.7h1M229.2 565.3h1M230.6 562.7h1M231.7 569.6h1M229.8 563.1h1M232.1 564.3h1M227.1 569.2h1M228.9 569.2h1M230.3 570.6h1M231.7 569.5h1M232.4 566.2h1M233.1 566.9h1M229.6 564.6h1M229.0 569.4h1M229.7 570.9h1M232.6 566.9h1M229.9 572.1h1M232.6 568.8h1M231.0 564.3h1M231.6 564.8h1M227.7 569.1h1M232.4 566.5h1M233.0 565.8h1M230.0 563.8h1M228.6 564.0h1M230.6 564.7h1M231.2 570.1h1M228.3 566.6h1M232.3 569.4h1M233.1 567.3h1M230.2 564.3h1M228.4 568.7h1M228.0 564.9h1M228.9 571.2h1M233.0 567.9h1M228.6 564.3h1M231.8 559.5h1M225.7 561.1h1M235.4 573.2h1M229.2 564.9h1M232.1 571.4h1M227.3 575.2h1M229.2 570.9h1M222.3 566.2h1M227.7 574.4h1M229.2 561.3h1M236.2 563.6h1M229.9 561.4h1M232.1 567.2h1M229.0 564.8h1M228.1 563.5h1M225.4 571.2h1M232.8 560.8h1M226.2 568.0h1M237.2 565.6h1M228.9 565.4h1M230.7 565.7h1M233.4 570.3h1M231.7 572.7h1M229.2 564.2h1M239.5 558.6h1M224.9 556.9h1M231.0 562.1h1M233.3 558.0h1M229.5 564.8h1M226.4 570.9h1M228.6 568.2h1M228.2 567.0h1M228.5 566.7h1M229.6 563.7h1M231.3 565.7h1M226.8 562.2h1M231.3 571.7h1M225.7 564.7h1M231.3 570.6h1M232.2 561.6h1M230.0 570.0h1M230.7 565.5h1M226.1 567.1h1M229.7 566.5h1M234.7 571.2h1M227.3 567.3h1M228.9 566.8h1M235.1 570.1h1M230.0 563.8h1M229.4 567.9h1M228.3 570.8h1M230.0 561.7h1M236.5 554.8h1M229.0 565.9h1M233.1 570.9h1M234.6 572.7h1M230.9 566.9h1M233.2 566.3h1M225.8 564.6h1M232.0 568.9h1M226.3 571.2h1M230.9 560.4h1M231.4 570.4h1M231.6 565.1h1M227.3 570.9h1M230.6 566.4h1M228.6 562.3h1M223.9 565.0h1M233.5 569.5h1M227.7 572.5h1M229.2 562.4h1M233.0 572.0h1M228.6 561.5h1M229.7 556.6h1M230.1 572.5h1M230.8 563.5h1M232.2 564.4h1M234.0 565.0h1M236.5 565.0h1M230.5 562.6h1M225.8 567.8h1M231.0 562.5h1M231.7 564.7h1M228.1 566.1h1M231.2 569.3h1M233.9 567.9h1M227.6 563.6h1M231.1 561.6h1M229.4 564.9h1M229.6 567.1h1M233.2 573.0h1M232.7 570.5h1M226.5 570.6h1M234.1 561.0h1M238.0 564.1h1M222.2 573.5h1M230.1 563.2h1M228.1 570.7h1M230.7 564.9h1M233.6 562.6h1M227.2 564.1h1M227.5 569.2h1M229.2 562.2h1M228.4 558.4h1M230.4 566.8h1M231.9 565.5h1M231.2 562.7h1M230.0 567.0h1M226.0 568.7h1M230.4 566.6h1M228.4 574.4h1M229.9 563.3h1M227.2 568.8h1M229.2 563.2h1M227.6 570.1h1M230.2 570.6h1M229.8 561.7h1M232.7 567.7h1M227.8 565.2h1M226.8 569.7h1M228.6 568.3h1M230.7 565.4h1M231.1 565.4h1M226.1 564.7h1M226.1 569.4h1M232.0 564.1h1M231.9 567.4h1M233.0 562.7h1M230.0 562.4h1M227.7 571.9h1M223.5 562.7h1M231.5 569.5h1M227.4 558.3h1M224.4 567.9h1M233.4 570.0h1M227.6 571.8h1M229.3 568.9h1M229.3 572.8h1M228.2 557.8h1M228.9 567.2h1M230.8 563.5h1M229.2 561.9h1M229.1 566.7h1M230.7 573.0h1M223.5 568.5h1M231.3 561.8h1M230.1 566.4h1M226.7 569.3h1M236.0 569.1h1M232.4 570.7h1M229.5 570.3h1M227.3 567.1h1M232.2 571.6h1M229.0 565.2h1M231.4 566.1h1M230.3 569.6h1M227.5 569.9h1M231.1 565.3h1M225.9 563.9h1M229.8 570.1h1M223.6 569.2h1M230.5 561.9h1M232.6 568.0h1M231.3 562.5h1M226.4 570.0h1M234.4 567.9h1M229.3 564.6h1M224.4 570.3h1M229.6 571.3h1M227.6 570.6h1M227.6 568.7h1M234.3 563.6h1M232.8 566.4h1M226.9 567.2h1M232.0 563.6h1M229.1 564.1h1M227.5 565.6h1M232.5 564.4h1M233.9 564.9h1M227.7 570.7h1M234.4 563.8h1M231.8 561.8h1M228.6 564.9h1M232.1 561.4h1M228.3 563.7h1M230.2 561.5h1M230.6 560.4h1M232.5 561.2h1M223.9 573.0h1M233.9 563.1h1M226.4 568.3h1M236.3 568.8h1M232.0 561.7h1M224.3 567.9h1M233.1 566.9h1M229.9 571.9h1M227.2 570.7h1M232.5 563.9h1M230.3 566.8h1M231.7 562.5h1M229.2 566.8h1M230.0 566.5h1M230.7 565.6h1M228.3 570.5h1M227.9 565.1h1M227.1 561.9h1M231.3 566.2h1M229.5 568.2h1M229.4 569.1h1M235.6 567.8h1M229.1 572.9h1M232.1 559.8h1M234.1 567.2h1M232.6 561.8h1M227.2 563.8h1M231.6 562.0h1M227.7 570.2h1M227.9 566.9h1M227.1 559.7h1M229.6 565.9h1M225.4 570.2h1M232.5 569.9h1M228.3 561.9h1M229.6 567.0h1M229.4 564.1h1M226.8 563.5h1M229.6 564.5h1M235.1 565.3h1M231.3 564.6h1M229.3 562.6h1M228.4 560.5h1M223.4 571.7h1M226.6 568.1h1M229.5 564.2h1M232.2 564.2h1M231.3 564.9h1M232.9 570.2h1M230.1 570.7h1M231.5 572.5h1M229.5 560.3h1M230.6 567.3h1M228.8 565.6h1M229.0 561.5h1M235.3 563.4h1M226.5 560.2h1M227.3 566.2h1M234.5 568.7h1M227.6 561.5h1M226.4 566.1h1M232.6 564.5h1M234.9 574.0h1M230.4 557.9h1M233.3 566.0h1M232.0 570.3h1M226.7 566.6h1M230.4 563.4h1M232.1 565.9h1M228.6 573.8h1M230.4 572.8h1M229.4 570.5h1M227.5 567.0h1M233.3 557.9h1M231.6 565.3h1M233.3 567.1h1M229.7 561.4h1M239.1 563.5h1M228.9 563.6h1M228.9 567.3h1M225.7 570.5h1M229.1 568.7h1M223.3 564.3h1M229.0 564.9h1M227.8 567.6h1M231.2 562.5h1M223.7 569.2h1M228.9 570.6h1M232.6 566.0h1M225.4 565.0h1M227.6 571.3h1M224.6 570.0h1M225.1 564.2h1M225.5 563.7h1M228.5 567.8h1M228.0 569.1h1M235.4 567.0h1M226.3 565.7h1M229.6 565.0h1M233.5 570.9h1M236.1 568.4h1M221.6 565.9h1M232.0 563.2h1M228.0 569.9h1M230.3 562.0h1M228.1 554.3h1M229.9 561.6h1M229.7 561.7h1M227.0 564.4h1M238.6 561.7h1M226.2 564.3h1M224.5 573.0h1M222.8 569.3h1M220.0 567.8h1M218.5 567.7h1M212.3 567.1h1M228.8 571.7h1M215.7 570.0h1M217.2 574.4h1M219.2 568.3h1M222.7 571.5h1M216.0 567.8h1M220.1 564.9h1M214.9 573.8h1M223.6 574.1h1M217.2 568.4h1M218.0 568.8h1M225.6 569.6h1M226.0 568.0h1M221.2 575.8h1M215.7 568.2h1M216.4 565.0h1M217.9 568.2h1M230.1 568.8h1M208.9 573.5h1M224.0 570.3h1M220.8 572.8h1M216.6 570.5h1M220.0 575.9h1M226.2 570.9h1M212.8 573.3h1M219.1 574.3h1M219.6 571.0h1M222.5 568.0h1M215.1 573.5h1M222.7 573.1h1M226.0 565.9h1M224.0 563.5h1M219.6 571.5h1M224.4 574.0h1M214.8 569.5h1M218.6 568.1h1M215.4 568.2h1M224.9 574.9h1M223.0 576.0h1M219.8 566.8h1M216.2 571.1h1M224.3 574.4h1M215.0 573.6h1M216.7 572.4h1M223.8 575.3h1M216.8 571.2h1M221.4 569.0h1M219.8 572.4h1M211.3 568.2h1M230.6 571.9h1M216.6 564.3h1M214.7 572.1h1M222.6 571.9h1M222.2 568.4h1M227.1 566.6h1M221.8 569.5h1M211.0 573.4h1M218.0 572.8h1M225.5 570.9h1M216.1 569.7h1M219.0 575.2h1M223.5 575.7h1M223.0 567.8h1M223.8 573.6h1M218.7 571.9h1M217.8 566.2h1M218.9 572.9h1M217.6 562.9h1M215.4 574.0h1M220.4 574.1h1M215.7 569.0h1M214.5 567.8h1M221.8 570.9h1M217.0 571.4h1M213.0 569.1h1M212.0 565.4h1M212.7 566.7h1M227.0 575.0h1M225.4 568.5h1M222.4 566.6h1M216.7 571.2h1M211.6 571.1h1M222.3 563.5h1M207.4 569.5h1M218.7 570.9h1M213.8 572.3h1M219.9 567.9h1M227.3 571.3h1M216.9 569.7h1M210.9 569.6h1M222.1 571.1h1M213.2 567.5h1M210.3 565.8h1M219.9 571.4h1M214.9 569.7h1M215.4 572.5h1M222.4 568.5h1M217.1 566.3h1M219.3 573.3h1M222.1 575.3h1M217.7 567.4h1M224.4 573.5h1M216.1 574.1h1M219.3 570.3h1M228.3 572.2h1M220.8 569.3h1M220.3 573.9h1M221.5 567.9h1M221.5 570.0h1M220.8 569.7h1M208.7 565.0h1M217.4 563.0h1M222.7 568.9h1M220.9 562.9h1M220.5 573.7h1M220.2 566.0h1M224.0 568.6h1M216.5 571.1h1M221.5 566.2h1M219.3 570.6h1M226.3 574.7h1M231.8 568.2h1M214.9 571.6h1M227.2 567.0h1M217.6 567.9h1M221.9 571.7h1M219.1 572.6h1M215.5 569.1h1M219.1 570.6h1M225.7 570.7h1M225.7 571.2h1M225.0 571.0h1M214.8 567.5h1M228.4 569.3h1M231.5 566.6h1M215.2 573.5h1M211.9 573.5h1M221.2 572.5h1M213.4 571.7h1M223.9 570.2h1M224.4 570.5h1M221.0 569.3h1M212.7 569.9h1M221.8 567.8h1M209.8 565.2h1M225.8 569.6h1M215.6 574.6h1M218.5 565.3h1M217.2 567.4h1M218.4 567.3h1M219.7 572.0h1M216.5 569.7h1M218.6 573.2h1M215.8 572.9h1M225.4 569.7h1M214.6 569.4h1M210.6 568.6h1M213.5 569.8h1M217.5 572.2h1M219.9 571.8h1M219.1 571.4h1M213.8 572.6h1M225.7 574.2h1M212.7 571.8h1M211.3 573.0h1M218.3 568.8h1M215.7 569.6h1M219.3 567.1h1M219.6 571.3h1M221.9 570.2h1M224.3 571.5h1M212.5 572.5h1M222.1 561.4h1M218.5 571.7h1M219.5 570.7h1M218.6 575.1h1M221.2 569.4h1M215.1 568.6h1M220.9 570.9h1M220.8 575.0h1M224.9 571.8h1M219.5 570.2h1M218.2 573.8h1M213.1 566.9h1M217.1 567.1h1M215.7 574.5h1M208.3 572.4h1M212.9 569.6h1M216.5 567.0h1M212.0 570.6h1M204.8 563.2h1M217.4 574.1h1M228.5 569.4h1M215.4 569.4h1M221.6 573.6h1M214.6 572.0h1M219.2 574.3h1M217.3 569.7h1M215.1 565.9h1M220.7 572.8h1M224.9 571.3h1M217.1 567.3h1M213.6 567.9h1M221.0 570.7h1M208.0 570.1h1M217.9 566.8h1M219.2 572.2h1M214.2 565.8h1M217.7 571.3h1M218.1 575.7h1M220.1 567.0h1M223.2 568.2h1M222.7 570.7h1M225.4 567.0h1M222.9 571.8h1M214.9 572.8h1M230.5 571.6h1M215.6 569.9h1M225.8 571.3h1M226.7 568.2h1M225.8 565.0h1M218.5 569.4h1M216.9 574.6h1M216.4 571.6h1M228.5 573.2h1M217.3 567.9h1M209.4 571.7h1M223.7 574.2h1M223.2 562.5h1M215.0 573.1h1M217.4 573.2h1M232.1 567.8h1M230.3 570.1h1M212.1 570.7h1M223.8 568.4h1M227.2 567.4h1M218.4 573.5h1M218.3 568.5h1M219.3 572.6h1M228.0 575.0h1M228.7 570.3h1M211.1 570.3h1M217.3 567.0h1M216.8 570.2h1M219.6 573.5h1M214.8 574.3h1M219.6 572.9h1M225.6 566.2h1M227.3 568.0h1M221.4 574.1h1M224.0 565.1h1M220.2 574.3h1M218.8 570.1h1M219.7 576.0h1M216.7 567.2h1M213.9 568.6h1M218.2 571.6h1M219.0 564.6h1M211.5 572.7h1M223.0 565.8h1M224.0 562.1h1M231.0 572.4h1M211.1 572.1h1M219.2 568.9h1M217.6 569.6h1M218.9 567.3h1M216.6 572.3h1M222.0 565.9h1M216.9 575.7h1M223.0 576.0h1M212.6 566.9h1M208.6 563.8h1M217.5 566.8h1M214.0 568.0h1M218.5 573.2h1M222.2 564.4h1M226.8 569.3h1M214.4 570.3h1M217.4 565.7h1M227.2 568.4h1M216.4 572.2h1M227.8 572.0h1M214.8 554.5h1M222.8 554.1h1M221.0 548.0h1M218.1 539.6h1M215.5 543.4h1M218.4 561.9h1M209.4 542.1h1M214.7 550.8h1M223.1 545.9h1M215.3 559.9h1M219.9 555.1h1M221.7 546.2h1M219.3 546.8h1M215.5 552.3h1M220.1 542.5h1M215.3 555.7h1M219.1 556.1h1M217.1 545.8h1M221.5 555.6h1M207.0 557.5h1M215.3 556.1h1M224.7 549.4h1M214.5 553.2h1M218.8 555.4h1M212.8 553.1h1M222.0 556.3h1M220.9 559.8h1M215.1 560.0h1M219.2 544.4h1M217.2 553.3h1M219.7 560.9h1M219.2 547.8h1M227.2 549.1h1M215.1 557.9h1M216.7 545.9h1M214.1 559.7h1M214.1 552.1h1M216.6 550.1h1M215.1 552.5h1M220.8 558.8h1M217.0 543.2h1M212.4 551.5h1M208.4 560.8h1M218.5 552.3h1M212.8 546.9h1M215.4 556.2h1M216.8 555.8h1M220.5 537.9h1M217.5 560.3h1M216.3 552.3h1M217.9 542.8h1M227.2 550.5h1M221.0 548.3h1M224.0 559.5h1M223.1 558.1h1M221.2 561.2h1M220.0 552.4h1M221.6 545.2h1M208.2 557.1h1M219.0 546.5h1M217.3 544.8h1M215.0 552.8h1M218.9 557.3h1M218.0 555.9h1M221.1 546.5h1M211.6 546.6h1M217.4 547.7h1M227.3 546.7h1M220.3 546.1h1M221.2 542.6h1M232.8 559.0h1M228.7 554.8h1M234.9 556.7h1M234.2 551.2h1M226.3 563.9h1M235.3 558.5h1M232.9 560.3h1M228.8 558.8h1M226.4 554.4h1M230.3 560.6h1M230.4 554.8h1M232.5 558.7h1M232.2 557.6h1M229.1 561.6h1M234.0 554.8h1M226.6 561.3h1M231.0 558.6h1M227.0 561.5h1M230.5 559.1h1M231.1 556.9h1M231.1 558.8h1M232.1 559.6h1M226.0 556.3h1M229.1 561.9h1M227.9 561.8h1M233.1 561.1h1M236.7 558.4h1M230.9 562.1h1M231.1 561.4h1M229.5 562.7h1M231.0 552.7h1M233.2 557.9h1M227.2 557.5h1M229.1 561.9h1M230.9 558.2h1M229.9 555.8h1M228.0 557.0h1M229.2 555.0h1M228.7 561.4h1M231.3 558.4h1M230.9 557.7h1M226.3 561.1h1M236.7 560.0h1M232.0 565.8h1M226.3 560.0h1M228.9 557.6h1M224.9 558.2h1M231.1 553.7h1M229.2 557.0h1M226.9 560.3h1M234.8 559.7h1M233.0 560.7h1M229.7 560.2h1M233.9 557.2h1M229.5 554.3h1M224.3 556.0h1M232.6 559.5h1M230.7 562.4h1M224.6 562.6h1M230.2 560.8h1M234.1 556.0h1M227.3 559.6h1M229.7 556.7h1M229.5 556.3h1M230.3 557.3h1M235.0 555.3h1M231.6 558.7h1M234.7 555.6h1M228.5 563.6h1M227.9 557.3h1M228.7 555.5h1M233.6 563.0h1M229.4 556.2h1M225.8 560.4h1M228.3 560.1h1M222.6 557.2h1M231.8 559.7h1M221.3 559.3h1M230.3 558.4h1M228.9 557.1h1M230.3 560.0h1M220.4 558.4h1M232.7 557.8h1M233.6 555.7h1M235.7 561.3h1M228.7 566.6h1M234.2 563.2h1M226.3 558.1h1M231.3 561.6h1M230.1 554.6h1" stroke="#000" stroke-width="1" fill="none"/>
</g>
<path d="M192.4 560.8h51.7" stroke="#888" stroke-width="0.8" fill="none"/>
<path d="M214.3 526.4v51.4" stroke="#222" stroke-width="0.8" fill="none"/>
<rect x="192.4" y="526.4" width="51.7" height="51.4" fill="none" stroke="#222" stroke-width="1"/>
<text class="pn" x="194.2" y="532.5">2.8</text>
<text class="pn" x="240.1" y="532.5" text-anchor="end">12.4</text>
<rect x="227.6" y="534.0" width="13.0" height="0.8" fill="#000"/>
<text class="pn" x="240.1" y="540.7" text-anchor="end">11.1</text>
<text class="pt" x="264.0" y="520.2" textLength="64.3" lengthAdjust="spacingAndGlyphs">IL-6 + IL-23 + TGF<tspan class="b">β</tspan></text>
<g filter="url(#bl)">
<ellipse cx="280.7" cy="569.2" rx="7.3" ry="7.2" fill="#000"/>
<circle cx="286.5" cy="568.5" r="2.2" fill="#000"/>
<circle cx="285.5" cy="565.9" r="1.8" fill="#000"/>
<circle cx="280.2" cy="563.5" r="2.3" fill="#000"/>
<circle cx="285.0" cy="565.3" r="2.0" fill="#000"/>
<circle cx="275.0" cy="570.5" r="2.6" fill="#000"/>
<circle cx="280.5" cy="574.3" r="2.0" fill="#000"/>
<circle cx="284.0" cy="564.5" r="2.4" fill="#000"/>
<ellipse cx="281.4" cy="545.9" rx="2.4" ry="4" fill="#000"/>
<ellipse cx="302.1" cy="567.4" rx="2" ry="2.5" fill="#000"/>
<path d="M269.5 569.9h1M274.6 572.7h1M284.8 562.9h1M283.8 559.2h1M284.6 575.4h1M274.8 572.3h1M277.1 574.6h1M285.2 575.3h1M274.4 563.5h1M288.5 572.7h1M288.0 574.5h1M273.7 569.2h1M287.4 574.5h1M288.6 573.8h1M272.1 569.1h1M287.4 576.1h1M275.3 563.5h1M288.0 569.6h1M273.3 567.8h1M286.9 575.0h1M287.9 563.7h1M284.1 560.1h1M272.4 571.9h1M284.0 562.2h1M276.6 559.8h1M286.2 575.8h1M272.9 570.1h1M275.4 561.5h1M280.0 562.3h1M273.7 571.4h1M289.5 564.0h1M281.5 561.5h1M272.2 559.3h1M280.1 560.6h1M283.5 561.9h1M278.7 561.3h1M272.2 564.6h1M284.2 575.5h1M273.0 569.4h1M274.7 562.7h1M271.8 561.2h1M278.2 560.9h1M288.7 564.0h1M287.7 563.4h1M280.5 562.2h1M287.8 570.3h1M279.0 561.3h1M272.2 572.4h1M286.9 564.0h1M274.2 573.0h1M285.2 574.5h1M274.7 572.6h1M274.6 575.0h1M287.7 568.7h1M288.0 560.4h1M288.5 564.2h1M285.1 563.7h1M270.6 568.5h1M278.1 557.1h1M286.1 565.3h1M286.2 561.5h1M289.4 567.6h1M289.4 564.5h1M289.3 561.6h1M277.9 561.1h1M271.3 566.0h1M287.7 566.8h1M287.7 571.1h1M285.4 562.2h1M283.5 575.3h1M276.2 576.2h1M289.7 567.6h1M281.1 559.0h1M288.9 567.0h1M290.7 571.0h1M290.6 565.3h1M280.3 558.2h1M286.9 571.6h1M286.8 564.3h1M288.6 573.0h1M275.7 562.5h1M287.7 571.4h1M283.8 574.9h1M289.4 568.5h1M274.0 560.8h1M272.9 563.2h1M290.1 564.3h1M273.8 567.9h1M288.1 567.9h1M272.2 567.9h1M288.3 570.9h1M291.2 571.2h1M281.5 559.8h1M288.2 570.7h1M287.8 568.4h1M287.1 564.0h1M275.0 565.2h1M282.3 576.0h1M282.9 561.2h1M286.8 572.0h1M272.3 564.4h1M270.9 572.2h1M283.3 556.7h1M275.9 574.6h1M289.0 565.8h1M276.5 576.0h1M279.3 561.3h1M284.8 561.7h1M285.5 574.9h1M281.6 561.1h1M277.2 562.5h1M271.5 569.4h1M275.3 565.3h1M280.2 576.2h1M272.8 572.2h1M277.8 562.6h1M272.1 575.3h1M290.0 572.1h1M284.7 561.2h1M276.8 561.0h1M282.4 559.8h1M285.6 561.3h1M275.1 573.7h1M286.6 564.7h1M273.8 564.9h1M282.8 576.1h1M292.2 569.7h1M285.6 563.7h1M285.4 563.9h1M285.0 563.9h1M274.4 575.5h1M270.8 567.3h1M277.2 575.6h1M278.9 561.8h1M287.7 564.5h1M273.7 568.1h1M280.1 575.9h1M286.5 576.0h1M273.0 567.4h1M288.3 565.6h1M269.1 570.4h1M274.7 563.7h1M268.9 565.4h1M276.4 574.8h1M285.8 574.6h1M287.6 573.9h1M291.8 567.6h1M272.8 571.5h1M273.3 568.2h1M269.9 575.0h1M275.0 573.0h1M292.8 569.0h1M269.6 570.5h1M272.7 573.2h1M280.4 576.0h1M282.0 560.6h1M286.4 574.1h1M277.5 558.5h1M274.5 564.1h1M285.4 561.1h1M282.8 559.7h1M287.2 571.5h1M280.5 576.1h1M274.3 573.8h1M287.8 561.4h1M286.9 566.3h1M286.9 575.1h1M271.1 564.4h1M268.4 569.9h1M281.6 562.2h1M286.4 575.7h1M273.5 567.6h1M278.5 559.5h1M273.4 574.4h1M273.4 571.7h1M286.3 574.6h1M279.4 560.0h1M274.4 561.9h1M272.1 568.5h1M268.6 566.7h1M274.2 570.9h1M289.9 568.1h1M274.8 573.1h1M274.3 564.6h1M279.8 575.8h1M273.6 574.5h1M273.8 560.5h1M287.5 560.6h1M274.0 574.3h1M279.1 560.5h1M272.5 568.0h1M279.9 556.1h1M288.5 567.7h1M287.0 563.6h1M285.1 561.7h1M273.4 573.5h1M287.4 566.9h1M273.0 571.1h1M288.9 571.0h1M289.5 572.3h1M270.9 570.3h1M289.0 566.3h1M285.3 563.8h1M286.8 571.6h1M273.7 565.6h1M286.6 575.5h1M281.2 559.8h1M285.8 574.4h1M270.8 565.8h1M287.7 564.4h1M287.6 572.7h1M273.2 573.5h1M276.5 575.5h1M289.1 573.2h1M273.9 570.3h1M287.3 571.4h1M275.8 573.7h1M285.0 574.1h1M292.2 561.2h1M272.3 566.9h1M287.9 567.1h1M289.4 572.0h1M285.3 575.2h1M289.1 569.0h1M283.6 575.5h1M278.7 561.3h1M285.1 574.7h1M273.3 573.3h1M274.6 572.6h1M286.9 573.1h1M287.7 569.4h1M273.4 570.1h1M287.1 563.9h1M274.1 573.8h1M274.4 572.2h1M284.8 575.3h1M285.2 574.8h1M287.9 574.5h1M275.0 564.2h1M277.3 560.2h1M273.9 569.3h1M269.9 572.8h1M275.5 574.8h1M286.5 564.6h1M271.2 570.9h1M274.3 564.7h1M289.4 565.6h1M287.6 567.3h1M283.6 541.6h1M281.9 550.5h1M285.4 548.0h1M279.0 544.8h1M283.5 542.8h1M283.7 545.2h1M281.0 550.0h1M284.2 545.8h1M284.0 544.2h1M282.7 541.4h1M282.3 541.4h1M281.7 550.3h1M278.1 545.5h1M283.2 542.7h1M282.8 552.5h1M279.4 544.3h1M282.1 541.9h1M280.3 541.1h1M280.3 540.9h1M282.3 541.9h1M283.6 542.5h1M280.4 542.6h1M279.0 544.6h1M278.8 546.8h1M281.3 550.3h1M284.9 546.1h1M283.7 549.0h1M281.9 540.8h1M279.6 550.4h1M279.3 542.9h1M279.3 547.5h1M281.7 550.9h1M282.6 540.9h1M278.4 544.3h1M281.7 549.9h1M283.7 541.5h1M283.6 543.8h1M283.6 548.6h1M282.6 550.9h1M284.1 543.3h1M279.1 543.5h1M283.2 549.6h1M280.8 551.0h1M282.6 549.8h1M280.9 551.1h1M279.0 543.0h1M280.2 549.8h1M285.0 546.5h1M279.5 541.2h1M283.8 547.1h1M283.6 546.7h1M279.0 548.0h1M279.9 542.5h1M280.2 541.6h1M284.0 543.3h1M280.5 542.3h1M283.5 542.4h1M282.2 539.2h1M283.5 544.9h1M282.3 551.6h1M283.9 549.7h1M280.3 552.3h1M279.8 552.9h1M281.6 540.4h1M280.0 549.0h1M283.9 546.2h1M283.7 547.5h1M283.1 542.4h1M278.8 547.4h1M279.3 549.5h1M279.7 550.3h1M283.7 544.7h1M283.9 545.2h1M279.2 547.3h1M282.6 542.5h1M282.1 549.8h1M283.3 547.8h1M285.0 545.5h1M283.9 547.3h1M283.0 551.5h1M284.7 548.9h1M283.5 547.6h1M282.3 549.7h1M279.0 547.6h1M283.2 550.0h1M278.8 544.7h1M283.1 541.8h1M283.4 547.5h1M279.0 544.5h1M284.2 545.0h1M279.8 542.2h1M282.4 551.1h1M280.4 542.0h1M282.6 542.7h1M280.0 549.4h1M283.4 541.3h1M282.7 549.5h1M282.3 551.0h1M279.0 545.7h1M279.4 547.5h1M282.2 550.3h1M284.4 544.2h1M278.0 547.0h1M283.1 542.5h1M283.8 545.1h1M283.7 543.7h1M279.4 543.3h1M282.0 541.9h1M283.2 548.7h1M279.8 549.1h1M278.5 548.7h1M277.8 548.7h1M278.8 543.6h1M281.2 550.3h1M283.6 546.0h1M282.5 540.1h1M280.2 541.2h1M282.3 549.8h1M281.6 551.5h1M279.6 548.0h1M278.6 544.8h1M279.5 547.7h1M278.0 548.5h1M280.6 551.2h1M278.9 547.1h1M284.3 551.4h1M278.3 546.5h1M279.2 546.8h1M284.2 546.3h1M278.4 546.7h1M280.4 550.5h1M280.0 549.2h1M283.5 548.6h1M278.9 545.1h1M280.6 540.7h1M279.9 543.0h1M283.6 543.0h1M279.4 540.5h1M281.8 550.4h1M277.8 546.4h1M285.0 542.8h1M279.7 549.5h1M279.2 544.9h1M278.7 546.0h1M285.8 546.6h1M281.9 550.3h1M278.1 548.6h1M277.8 545.6h1M282.8 542.9h1M281.5 551.2h1M279.3 543.7h1M278.5 543.1h1M280.5 549.5h1M282.5 549.1h1M279.5 540.3h1M281.5 550.0h1M284.5 544.0h1M279.9 542.6h1M278.8 541.9h1M280.0 551.2h1M283.5 543.1h1M283.3 550.7h1M279.4 542.0h1M278.9 538.8h1M279.4 548.7h1M281.4 542.1h1M279.5 541.7h1M283.1 548.4h1M284.6 545.9h1M278.6 544.6h1M283.7 549.7h1M279.5 542.9h1M281.2 550.3h1M284.2 546.9h1M282.3 550.8h1M281.5 542.3h1M282.9 549.1h1M280.2 540.9h1M280.5 549.4h1M279.7 549.2h1M279.7 548.6h1M279.9 549.8h1M281.3 542.2h1M283.8 545.2h1M283.5 543.8h1M278.6 547.1h1M282.0 550.1h1M280.5 539.4h1M278.7 549.2h1M283.0 551.9h1M279.7 541.0h1M282.7 538.7h1M279.5 547.9h1M284.1 547.8h1M278.4 545.5h1M283.0 542.4h1M279.4 544.2h1M278.8 544.2h1M278.8 545.6h1M279.0 546.8h1M278.6 549.0h1M282.6 551.9h1M279.5 546.5h1M279.8 552.9h1M284.6 545.3h1M280.9 548.5h1M278.7 546.9h1M283.9 551.2h1M279.3 544.3h1M281.0 540.4h1M282.3 548.0h1M277.4 546.3h1M279.4 546.1h1M278.7 554.0h1M278.5 551.1h1M282.0 554.4h1M281.2 547.4h1M281.6 538.4h1M288.5 546.4h1M280.4 542.0h1M280.9 555.2h1M279.1 549.6h1M284.4 552.0h1M280.1 539.1h1M282.6 550.2h1M280.4 545.4h1M286.6 539.9h1M279.8 544.5h1M276.7 544.1h1M279.0 553.4h1M276.1 540.9h1M282.1 540.1h1M275.3 544.5h1M277.7 542.8h1M280.9 549.6h1M279.4 546.1h1M283.5 546.7h1M283.5 544.7h1M282.8 553.5h1M277.2 561.7h1M280.4 545.8h1M280.9 549.7h1M277.7 547.6h1M279.6 554.2h1M276.2 550.5h1M280.4 543.9h1M281.8 546.3h1M281.5 548.6h1M284.9 545.5h1M286.3 534.6h1M286.8 553.2h1M286.0 548.4h1M282.2 542.7h1M285.3 542.0h1M279.0 547.5h1M282.0 549.1h1M277.9 545.8h1M282.8 553.1h1M283.6 549.4h1M280.6 544.9h1M279.8 547.0h1M282.9 545.1h1M287.5 542.7h1M283.8 546.5h1M280.9 545.7h1M285.9 546.1h1M283.0 548.0h1M283.6 550.2h1M286.3 544.0h1M278.9 555.5h1M285.2 547.8h1M280.5 548.7h1M285.2 543.8h1M285.7 547.2h1M280.3 545.6h1M275.1 549.0h1M277.4 544.8h1M278.7 548.6h1M283.5 547.7h1M281.9 549.4h1M286.1 550.2h1M286.0 547.2h1M282.4 544.4h1M283.1 543.4h1M282.8 544.5h1M280.3 553.2h1M281.8 551.2h1M280.6 538.7h1M285.7 546.6h1M279.4 551.9h1M278.0 544.0h1M284.8 544.2h1M284.7 546.0h1M280.7 547.8h1M279.9 552.5h1M284.6 547.8h1M283.2 550.0h1M286.4 540.0h1M284.4 551.8h1M280.4 547.5h1M280.3 553.3h1M277.9 550.3h1M285.2 550.2h1M279.9 545.3h1M275.0 542.6h1M284.6 543.0h1M276.4 546.3h1M276.9 549.6h1M278.7 552.0h1M281.0 540.8h1M279.0 544.4h1M278.8 553.3h1M278.3 549.2h1M279.6 550.3h1M277.1 540.1h1M282.9 554.2h1M277.2 546.0h1M279.8 543.1h1M284.2 547.7h1M277.2 546.5h1M285.3 544.1h1M279.8 543.6h1M281.8 544.9h1M284.0 543.6h1M277.0 549.6h1M271.9 543.0h1M282.2 548.6h1M279.6 545.4h1M282.9 565.0h1M278.9 546.6h1M280.0 550.1h1M281.4 550.1h1M286.2 546.2h1M280.5 549.3h1M287.6 545.8h1M286.4 553.1h1M273.2 542.8h1M278.4 549.4h1M285.3 547.7h1M281.8 557.7h1M282.4 557.6h1M278.7 555.2h1M279.8 536.1h1M278.9 545.3h1M281.2 551.0h1M283.4 549.9h1M279.1 555.9h1M284.9 547.7h1M279.6 547.3h1M280.7 544.2h1M281.3 544.4h1M283.3 544.4h1M282.8 549.0h1M281.9 550.0h1M278.3 559.6h1M279.3 550.9h1M281.4 545.4h1M286.6 552.7h1M280.5 550.1h1M283.4 554.9h1M284.4 546.7h1M280.6 542.0h1M282.1 551.6h1M280.2 550.6h1M281.8 545.3h1M277.7 552.7h1M289.0 550.1h1M278.1 542.6h1M282.1 550.6h1M285.9 536.1h1M286.9 548.3h1M281.8 549.3h1M280.3 546.1h1M284.5 539.3h1M281.0 550.1h1M276.4 546.7h1M286.0 549.2h1M283.5 550.8h1M282.0 549.2h1M278.9 546.5h1M286.9 541.7h1M280.9 541.5h1M279.8 543.8h1M277.7 548.6h1M278.5 550.0h1M286.8 535.4h1M280.9 537.6h1M281.0 549.2h1M282.0 553.2h1M281.8 539.3h1M285.9 543.0h1M281.1 549.0h1M278.7 547.9h1M285.9 539.5h1M276.4 545.4h1M280.9 541.4h1M274.5 551.8h1M282.5 541.2h1M283.1 547.2h1M281.9 541.1h1M280.7 549.7h1M276.1 542.5h1M284.3 557.0h1M283.4 547.1h1M278.1 545.5h1M280.6 549.6h1M280.6 559.2h1M285.4 537.0h1M277.9 547.5h1M284.3 549.4h1M273.1 539.6h1M285.4 550.3h1M289.1 551.3h1M282.8 554.7h1M280.0 544.9h1M278.3 548.6h1M282.7 551.9h1M285.7 550.4h1M285.1 546.3h1M278.5 550.9h1M284.4 553.8h1M280.9 545.2h1M280.3 549.2h1M281.2 546.6h1M282.2 546.1h1M282.4 544.6h1M276.7 546.0h1M287.1 543.6h1M284.1 553.9h1M279.8 548.7h1M274.5 550.2h1M286.0 548.3h1M275.4 544.7h1M279.2 548.0h1M282.3 545.5h1M280.5 543.5h1M283.1 548.4h1M282.4 545.0h1M282.9 546.0h1M282.3 546.7h1M279.4 542.2h1M275.8 540.9h1M282.8 563.1h1M276.5 543.5h1M281.4 564.6h1M280.8 541.9h1M282.7 557.5h1M273.0 541.8h1M285.1 541.9h1M281.1 544.4h1M283.7 540.5h1M282.3 548.5h1M283.1 549.5h1M281.9 538.9h1M280.4 542.9h1M283.0 546.3h1M281.9 552.7h1M281.1 555.5h1M283.9 540.3h1M279.6 553.3h1M279.9 553.2h1M279.7 546.8h1M284.5 539.8h1M281.6 545.2h1M281.9 555.7h1M282.9 540.9h1M284.3 545.2h1M281.9 553.0h1M280.5 552.0h1M281.9 543.1h1M280.5 540.9h1M285.0 548.2h1M284.3 542.0h1M283.9 541.7h1M282.2 547.4h1M279.6 548.9h1M281.5 543.2h1M279.2 541.1h1M285.5 548.1h1M280.3 550.8h1M278.8 541.8h1M282.5 555.1h1M282.3 548.2h1M286.6 539.9h1M290.6 542.1h1M281.2 540.9h1M277.8 546.3h1M288.7 542.9h1M279.5 548.7h1M278.3 546.2h1M283.9 536.9h1M280.5 546.0h1M279.9 546.8h1M276.0 545.3h1M279.8 542.4h1M285.2 557.1h1M283.8 543.2h1M285.7 549.8h1M278.9 550.3h1M279.7 550.2h1M283.4 559.8h1M278.5 556.0h1M281.1 552.9h1M282.1 558.4h1M277.6 554.8h1M278.3 552.7h1M278.4 560.4h1M279.4 555.3h1M283.6 559.4h1M284.6 550.4h1M283.0 551.3h1M279.5 555.2h1M279.7 562.1h1M280.7 559.8h1M280.6 556.2h1M282.4 557.7h1M282.4 551.4h1M282.4 557.3h1M282.6 556.2h1M282.1 552.6h1M283.9 552.9h1M284.6 559.3h1M280.9 555.5h1M283.0 555.5h1M278.1 557.2h1M278.0 555.1h1M285.6 558.8h1M280.0 556.2h1M279.5 556.4h1M277.5 558.4h1M281.1 554.6h1M279.6 564.1h1M280.0 555.0h1M279.6 555.0h1M284.4 558.4h1M282.1 557.5h1M278.3 549.4h1M284.9 558.5h1M281.6 557.2h1M281.6 556.5h1M280.4 549.9h1M282.5 556.5h1M283.5 557.3h1M280.4 558.2h1M281.6 555.1h1M280.2 555.2h1M280.4 555.1h1M283.6 564.9h1M280.8 559.7h1M276.2 547.0h1M279.9 555.9h1M279.2 552.4h1M279.0 554.9h1M281.5 555.4h1M278.1 555.3h1M284.9 553.8h1M281.3 559.3h1M279.1 554.7h1M288.3 560.0h1M279.8 556.9h1M304.1 570.9h1M303.4 569.3h1M299.3 565.9h1M300.2 565.9h1M301.6 570.4h1M302.9 571.0h1M302.5 570.7h1M303.9 565.5h1M300.5 566.1h1M303.9 570.5h1M304.3 569.6h1M300.5 566.3h1M299.9 568.0h1M302.6 569.8h1M299.9 565.8h1M304.1 565.9h1M300.3 567.9h1M300.0 567.6h1M303.9 568.2h1M300.4 569.3h1M303.4 569.9h1M301.4 569.8h1M304.5 568.9h1M299.4 566.4h1M304.1 565.4h1M299.8 568.8h1M303.2 565.0h1M302.4 569.8h1M302.8 564.7h1M300.7 565.6h1M300.9 564.1h1M300.3 568.6h1M299.9 565.7h1M304.1 567.0h1M300.0 566.0h1M304.8 566.9h1M299.2 568.2h1M303.6 564.9h1M302.4 570.0h1M300.7 569.7h1M303.0 564.0h1M299.0 567.7h1M303.7 565.2h1M304.4 568.0h1M303.7 565.0h1M299.8 568.0h1M304.4 566.9h1M303.5 569.5h1M303.9 566.1h1M301.8 564.1h1M303.1 565.3h1M300.8 565.3h1M303.9 565.1h1M300.9 565.5h1M302.8 569.7h1M305.0 567.2h1M303.8 569.2h1M304.6 568.2h1M303.3 569.7h1M304.0 570.1h1M300.2 569.8h1M304.8 567.3h1M303.2 565.1h1M300.0 565.3h1M299.8 566.4h1M302.3 570.2h1M300.8 564.6h1M300.7 564.7h1M303.9 566.8h1M303.4 564.3h1M300.5 564.6h1M302.8 565.3h1M303.1 571.6h1M299.1 568.5h1M299.2 566.4h1M299.6 568.3h1M303.7 565.9h1M300.2 565.3h1M301.3 570.5h1M304.1 568.1h1M301.2 570.9h1M303.2 571.5h1M303.3 569.9h1M303.6 569.8h1M302.9 564.7h1M301.7 570.6h1M300.6 564.9h1M303.5 565.0h1M304.0 567.7h1M303.2 565.2h1M301.2 565.3h1M303.7 571.2h1M300.2 567.6h1M304.7 568.8h1M304.5 568.3h1M304.9 564.8h1M301.2 570.8h1M302.8 569.9h1M304.4 565.1h1M302.5 564.4h1M302.5 564.7h1M301.7 564.4h1M304.2 567.6h1M304.7 567.1h1M302.7 563.8h1M300.3 566.0h1M300.4 565.4h1M302.0 569.7h1M301.3 564.1h1M302.2 564.5h1M300.7 565.4h1M300.1 566.0h1M302.2 563.9h1M300.9 570.0h1M301.2 569.9h1M299.9 565.9h1M303.6 568.9h1M301.9 565.1h1M300.7 569.8h1M304.1 567.8h1M301.1 564.1h1M300.7 564.4h1M299.9 568.5h1M300.8 570.5h1M302.9 570.2h1M304.6 568.4h1M303.2 569.6h1M300.2 567.0h1M300.4 569.0h1M301.9 563.6h1M305.5 569.3h1M299.6 564.9h1M304.0 567.2h1M301.0 570.0h1M302.3 570.0h1M299.8 567.4h1M302.8 565.3h1M302.3 564.9h1M300.9 565.7h1M303.3 565.6h1M303.3 569.1h1M302.8 564.5h1M305.0 566.1h1M303.5 564.8h1M299.8 567.9h1M303.4 569.3h1M303.8 569.3h1M304.3 568.3h1M301.5 570.0h1M299.9 567.2h1M302.4 566.9h1M301.5 562.9h1M308.7 568.8h1M302.5 565.8h1M306.2 566.3h1M300.6 565.5h1M307.0 568.5h1M301.6 565.2h1M306.2 568.4h1M301.1 570.5h1M304.9 564.0h1M305.8 571.2h1M301.3 562.8h1M305.6 566.2h1M301.5 566.4h1M301.2 570.3h1M298.6 569.2h1M305.8 571.0h1M304.4 568.3h1M301.5 567.0h1M299.3 573.2h1M301.7 563.9h1M304.8 572.6h1M303.0 566.3h1M298.6 569.6h1M301.3 565.1h1M304.0 563.0h1M304.4 559.1h1M300.2 562.5h1M301.3 570.1h1M298.0 572.1h1M300.0 565.8h1M305.3 564.9h1M306.7 566.7h1M301.8 564.1h1M305.8 567.2h1M300.6 564.2h1M300.1 567.1h1M299.9 570.1h1M302.0 565.3h1M303.6 572.3h1M295.6 568.6h1M305.5 567.9h1M304.7 562.1h1M299.8 570.9h1M301.8 567.6h1M304.1 568.7h1M303.6 565.7h1M301.2 571.9h1M300.6 562.5h1M301.0 570.5h1M307.8 567.9h1M300.2 569.5h1M303.1 571.4h1M303.8 570.0h1M303.7 568.8h1M299.3 566.8h1M307.2 572.0h1M305.2 568.8h1M301.8 568.6h1M301.1 571.1h1M301.2 564.8h1M297.1 572.7h1M299.8 564.5h1M303.4 573.5h1M304.2 566.3h1M303.9 564.6h1M301.4 567.5h1M302.2 570.1h1M303.9 573.8h1M304.8 566.4h1M303.0 564.5h1M300.3 566.2h1M305.3 565.1h1M297.3 564.0h1M298.4 566.8h1M301.2 563.4h1M299.7 566.0h1M303.4 569.5h1M306.3 566.5h1M304.1 567.7h1M298.8 565.2h1M309.0 566.9h1M307.3 570.2h1M307.4 566.8h1M305.1 566.4h1M298.8 563.4h1M303.6 561.9h1M303.3 564.4h1M303.3 562.7h1M304.8 566.6h1M297.5 562.5h1M302.4 561.8h1M303.2 569.1h1M300.2 572.2h1M306.7 568.5h1M303.6 569.0h1M301.4 571.9h1M300.6 558.9h1M302.3 568.9h1M304.8 563.7h1M306.5 564.6h1M304.2 569.9h1M302.8 571.3h1M300.7 574.4h1M303.7 566.0h1M310.3 567.4h1M297.2 572.2h1M307.0 565.4h1M299.2 571.2h1M302.4 564.1h1M300.7 567.6h1M305.3 572.7h1M300.3 572.6h1M297.5 569.8h1M301.8 568.9h1M300.9 565.0h1M303.1 571.3h1M295.4 567.6h1M301.0 563.8h1M298.1 569.2h1M303.9 569.6h1M296.1 562.2h1M300.3 565.9h1M307.7 566.1h1M302.6 570.8h1M307.4 568.7h1M303.3 574.0h1M301.0 561.3h1M299.9 566.3h1M306.3 568.5h1M306.0 567.8h1M302.4 565.4h1M298.4 569.1h1M303.4 569.4h1M300.6 566.0h1M303.4 569.5h1M308.4 564.4h1M305.3 570.4h1M301.4 567.9h1M302.1 572.6h1M310.1 568.5h1M301.4 570.6h1M303.8 566.8h1M304.6 570.4h1M301.0 570.3h1M295.3 563.0h1M301.3 567.9h1M297.7 572.4h1M301.1 567.9h1M302.1 570.0h1M300.4 569.9h1M299.7 562.4h1M303.8 568.0h1M305.0 560.8h1M302.6 565.2h1M301.7 566.1h1M301.1 565.1h1M305.4 561.5h1M297.1 568.6h1M308.5 564.8h1M299.4 563.4h1M299.1 571.7h1M304.3 570.5h1M303.3 568.2h1M300.4 564.1h1M304.2 575.9h1M301.1 571.7h1M300.1 567.5h1M307.5 567.2h1M304.2 565.5h1M308.1 563.2h1M304.0 566.6h1M302.8 568.6h1M306.3 570.4h1M305.5 568.7h1M298.9 572.0h1M307.0 569.1h1M304.7 566.6h1M297.8 570.8h1M300.0 573.9h1M304.4 567.3h1M300.3 567.8h1M299.1 566.1h1M307.2 566.4h1M307.9 567.1h1M303.5 564.2h1M301.3 565.9h1M297.9 574.0h1M304.1 567.1h1M298.8 567.5h1M299.0 564.1h1M301.6 574.8h1M296.8 569.3h1M300.5 557.5h1M297.9 566.9h1M302.4 564.8h1M307.7 569.2h1M300.3 561.8h1M302.8 565.1h1M305.4 563.8h1M305.9 565.8h1M302.8 566.5h1M304.2 571.3h1M300.5 564.3h1M308.1 570.7h1M308.1 570.7h1M302.6 573.0h1M300.1 565.9h1M301.0 569.8h1M299.6 566.8h1M299.6 566.6h1M305.7 571.2h1M301.5 576.1h1M300.0 569.0h1M300.7 559.8h1M298.5 571.7h1M301.8 568.3h1M306.1 567.5h1M300.2 565.3h1M299.3 569.3h1M300.7 569.2h1M297.5 565.9h1M308.6 568.7h1M301.9 571.5h1M303.1 572.7h1M298.6 570.0h1M298.9 569.7h1M309.8 572.7h1M299.5 568.9h1M303.6 564.9h1M303.0 563.7h1M305.2 570.5h1M301.7 569.8h1M309.6 566.9h1M296.4 568.6h1M300.8 564.7h1M305.0 570.9h1M304.1 573.0h1M300.2 566.0h1M303.5 558.1h1M293.7 568.6h1M301.5 567.6h1M299.2 568.2h1M305.5 565.2h1M303.9 566.9h1M301.7 567.8h1M306.9 569.2h1M304.3 567.9h1M295.5 570.7h1M302.1 567.7h1M300.6 562.1h1M306.8 573.7h1M307.1 561.1h1M303.9 563.3h1M301.6 565.6h1M300.2 564.8h1M300.7 570.1h1M307.2 570.6h1M302.1 566.9h1M301.4 567.3h1M300.2 566.8h1M304.8 566.6h1M299.6 567.0h1M302.4 567.1h1M301.4 569.8h1M302.0 563.9h1M303.9 565.0h1M304.6 570.2h1M303.7 568.5h1M298.0 566.7h1M302.6 569.6h1M298.7 566.9h1M297.4 568.0h1M302.4 567.8h1M307.3 569.9h1M301.6 565.4h1M300.8 570.1h1M305.0 565.7h1M301.8 565.9h1M304.3 568.1h1M299.9 564.4h1M306.2 562.6h1M296.5 556.8h1M308.5 565.6h1M304.8 569.3h1M304.8 571.3h1M300.7 567.3h1M305.2 569.3h1M299.8 564.8h1M297.6 568.3h1M300.5 562.1h1M300.4 568.5h1M302.7 566.6h1M302.7 569.7h1M298.4 564.6h1M305.2 569.9h1M297.8 564.9h1M306.7 570.0h1M301.7 570.9h1M306.5 572.3h1M297.8 562.9h1M300.6 567.2h1M301.0 568.2h1M306.8 571.2h1M305.3 567.4h1M307.4 569.0h1M302.9 567.3h1M296.4 574.8h1M302.1 570.5h1M309.3 566.8h1M298.5 570.9h1M302.9 564.2h1M305.2 567.4h1M299.2 558.7h1M299.0 568.7h1M298.9 570.8h1M309.1 568.5h1M302.9 567.1h1M304.9 567.5h1M305.4 572.3h1M304.9 564.1h1M304.3 566.5h1M303.1 570.7h1M300.1 568.1h1M306.8 564.5h1M301.6 569.9h1M301.4 570.9h1M299.0 562.3h1M303.4 566.9h1M303.1 570.7h1M305.5 566.2h1M300.9 560.8h1M299.1 568.3h1M302.8 562.3h1M304.6 567.3h1M305.6 566.2h1M305.2 563.6h1M296.3 564.6h1M304.4 568.8h1M296.2 567.9h1M304.3 573.2h1M304.6 569.2h1M297.2 568.7h1M295.9 566.4h1M301.0 564.1h1M299.0 566.9h1M304.0 565.2h1M303.1 569.8h1M290.9 566.6h1M284.7 573.5h1M294.9 568.7h1M293.4 568.9h1M295.6 569.4h1M293.1 569.1h1M288.7 561.0h1M294.3 564.7h1M293.7 571.8h1M299.6 566.6h1M292.8 573.0h1M289.5 567.2h1M296.4 573.0h1M288.4 571.9h1M296.7 564.6h1M292.2 568.7h1M294.7 562.8h1M295.0 569.4h1M291.1 561.4h1M284.0 567.4h1M294.7 571.0h1M295.1 563.0h1M293.0 574.5h1M286.0 571.9h1M289.3 571.5h1M292.6 563.2h1M288.0 574.2h1M291.7 574.1h1M293.5 572.8h1M290.6 570.2h1M290.7 572.8h1M289.9 573.6h1M298.4 564.8h1M291.5 571.5h1M299.2 573.8h1M292.5 562.9h1M295.5 567.2h1M292.9 570.9h1M286.6 573.4h1M295.8 571.6h1M294.5 570.8h1M286.6 567.5h1M295.4 568.2h1M292.3 570.8h1M292.5 570.4h1M294.1 569.4h1M287.8 568.4h1M295.9 566.8h1M294.0 570.6h1M288.7 558.7h1M292.1 566.5h1M289.7 572.9h1M289.1 570.7h1M292.6 570.2h1M300.0 562.0h1M296.0 568.9h1M291.1 566.9h1M292.3 569.6h1M288.5 575.6h1M289.2 568.9h1M287.1 570.0h1M293.6 573.5h1M296.0 567.5h1M298.5 569.0h1M298.3 575.9h1M290.6 565.4h1M294.3 574.8h1M293.7 573.5h1M294.5 572.8h1M297.4 568.3h1M286.6 569.0h1M289.0 564.9h1M291.5 572.1h1M284.9 563.7h1M295.3 566.1h1M290.6 574.5h1M296.6 570.8h1M294.3 559.2h1M294.3 570.8h1M286.7 570.1h1M294.0 569.0h1M295.3 572.7h1M292.4 568.5h1M287.5 573.7h1M289.9 570.6h1M298.2 572.3h1M287.1 569.1h1M289.3 563.2h1M289.0 571.6h1M293.5 568.6h1M292.8 565.0h1M289.1 568.8h1M295.3 568.2h1M291.5 570.7h1M297.9 564.7h1M294.3 570.1h1M291.9 570.3h1M284.3 569.5h1M291.2 564.8h1M295.5 569.0h1M290.8 572.3h1M288.5 566.7h1M295.4 572.7h1M300.1 567.7h1M286.4 563.8h1M287.4 569.8h1M291.2 566.9h1M288.2 566.8h1M290.7 573.9h1M294.6 574.6h1M295.4 572.3h1M296.8 571.1h1M298.2 573.7h1M299.3 570.2h1M291.0 571.4h1M290.7 566.8h1M293.9 565.2h1M291.5 574.7h1M292.6 572.5h1M294.7 570.9h1M292.6 571.7h1M288.3 571.6h1M287.9 566.6h1M289.8 564.4h1M284.4 570.8h1M294.1 571.9h1M300.8 570.1h1" stroke="#000" stroke-width="1" fill="none"/>
</g>
<path d="M267.1 560.8h51.7" stroke="#888" stroke-width="0.8" fill="none"/>
<path d="M289.0 526.4v51.4" stroke="#222" stroke-width="0.8" fill="none"/>
<rect x="267.1" y="526.4" width="51.7" height="51.4" fill="none" stroke="#222" stroke-width="1"/>
<text class="pn" x="268.9" y="532.5">13.1</text>
<text class="pn" x="314.8" y="532.5" text-anchor="end">0.3</text>
<rect x="305.3" y="534.0" width="10.0" height="0.8" fill="#000"/>
<text class="pn" x="314.8" y="540.7" text-anchor="end">15.0</text>
<text class="pt" x="341.5" y="520.2" textLength="65.7" lengthAdjust="spacingAndGlyphs">IL-1<tspan class="b">β</tspan> + IL-6 + TGF<tspan class="b">β</tspan></text>
<g filter="url(#bl)">
<ellipse cx="359.2" cy="570.0" rx="9" ry="7" fill="#000"/>
<circle cx="364.4" cy="566.2" r="2.6" fill="#000"/>
<circle cx="363.2" cy="565.3" r="2.8" fill="#000"/>
<circle cx="365.7" cy="567.6" r="3.3" fill="#000"/>
<circle cx="355.7" cy="573.9" r="2.4" fill="#000"/>
<circle cx="353.0" cy="572.8" r="3.4" fill="#000"/>
<circle cx="352.1" cy="571.1" r="2.5" fill="#000"/>
<circle cx="366.3" cy="570.8" r="2.5" fill="#000"/>
<ellipse cx="377.2" cy="570.9" rx="8.5" ry="4.5" fill="#000"/>
<circle cx="370.9" cy="569.5" r="2.0" fill="#000"/>
<circle cx="374.7" cy="574.2" r="2.1" fill="#000"/>
<circle cx="370.6" cy="570.1" r="2.1" fill="#000"/>
<circle cx="380.2" cy="567.7" r="2.0" fill="#000"/>
<circle cx="373.0" cy="573.4" r="2.9" fill="#000"/>
<circle cx="380.6" cy="567.8" r="2.4" fill="#000"/>
<circle cx="383.6" cy="569.6" r="3.1" fill="#000"/>
<path d="M371.2 565.3h1M368.0 564.8h1M367.1 567.5h1M368.5 567.2h1M371.8 573.6h1M354.0 564.5h1M351.4 571.8h1M364.8 576.2h1M351.7 573.3h1M357.7 576.2h1M350.2 565.0h1M356.4 560.1h1M349.9 566.4h1M362.5 563.6h1M372.9 571.6h1M367.4 566.7h1M356.0 562.8h1M351.9 563.7h1M372.2 567.9h1M350.7 563.7h1M353.5 576.3h1M365.8 561.2h1M363.2 563.2h1M355.6 562.0h1M355.7 562.2h1M370.0 562.6h1M370.4 567.9h1M352.5 566.3h1M367.1 565.4h1M356.8 561.1h1M354.7 563.2h1M360.3 562.3h1M367.7 574.3h1M353.8 560.4h1M356.7 563.8h1M364.7 564.6h1M367.2 571.7h1M367.3 574.3h1M354.6 576.0h1M371.1 571.8h1M368.9 567.3h1M352.1 573.8h1M372.3 569.3h1M373.6 571.1h1M352.5 566.3h1M349.2 575.4h1M357.2 562.2h1M365.0 564.8h1M361.8 561.3h1M350.0 568.0h1M360.6 562.2h1M352.8 563.3h1M352.5 573.7h1M360.7 563.6h1M367.4 561.2h1M363.5 575.7h1M353.8 575.6h1M355.5 563.7h1M365.9 564.0h1M351.1 571.3h1M352.5 574.3h1M364.1 563.8h1M365.7 574.4h1M368.6 574.2h1M348.8 572.0h1M364.4 564.2h1M350.9 573.0h1M350.8 563.7h1M364.8 560.1h1M369.1 573.2h1M349.2 574.3h1M362.6 576.3h1M351.0 566.1h1M350.9 573.6h1M373.9 569.8h1M352.7 560.3h1M352.0 562.6h1M358.5 561.9h1M349.3 571.4h1M374.0 570.1h1M371.0 566.0h1M367.4 573.1h1M359.6 562.4h1M364.1 564.3h1M349.8 567.2h1M351.4 572.2h1M368.1 568.8h1M365.3 564.6h1M360.1 558.5h1M365.3 575.7h1M351.2 571.4h1M350.9 567.8h1M367.5 573.1h1M370.2 575.9h1M361.9 559.2h1M368.7 572.1h1M355.7 575.7h1M357.8 561.9h1M349.0 564.3h1M356.7 560.7h1M356.3 563.1h1M364.6 565.2h1M368.4 569.4h1M367.7 570.7h1M369.9 566.0h1M366.9 567.9h1M353.5 564.1h1M366.4 575.1h1M368.2 572.4h1M360.8 562.9h1M367.4 562.7h1M351.7 563.3h1M355.5 575.9h1M368.3 566.4h1M365.3 564.5h1M366.9 574.6h1M360.4 562.3h1M351.6 567.7h1M367.9 562.1h1M364.8 564.2h1M350.6 569.1h1M365.4 560.4h1M350.4 570.3h1M351.5 568.0h1M368.4 571.7h1M360.7 562.8h1M368.1 570.9h1M369.6 570.0h1M367.4 568.8h1M353.1 575.3h1M366.5 566.1h1M360.6 563.6h1M376.5 574.6h1M355.5 563.2h1M350.9 574.0h1M364.0 563.3h1M350.3 574.4h1M366.9 575.9h1M351.3 565.9h1M352.7 576.0h1M367.9 569.5h1M365.0 563.3h1M369.4 566.8h1M350.0 562.4h1M352.6 563.2h1M368.1 567.1h1M367.7 570.3h1M356.7 558.5h1M368.5 568.7h1M371.4 571.3h1M367.8 574.9h1M350.4 572.6h1M365.9 560.9h1M351.3 568.2h1M357.3 559.1h1M365.5 574.3h1M351.0 572.3h1M366.6 565.1h1M351.1 566.1h1M351.1 568.4h1M361.9 561.4h1M367.5 564.2h1M362.9 575.8h1M352.8 575.2h1M356.3 576.3h1M350.0 566.5h1M367.9 573.3h1M351.7 567.2h1M367.3 568.5h1M357.9 561.6h1M360.4 562.9h1M364.4 564.6h1M365.5 574.5h1M350.2 569.7h1M351.0 568.1h1M361.9 563.8h1M357.1 560.1h1M349.3 566.9h1M353.6 562.4h1M351.3 572.6h1M359.3 559.3h1M350.6 572.9h1M369.2 569.1h1M373.6 566.2h1M385.6 572.7h1M380.9 575.6h1M370.9 567.9h1M382.2 574.4h1M380.2 564.8h1M368.9 566.9h1M387.2 571.0h1M384.3 575.0h1M373.0 567.5h1M367.9 572.8h1M384.9 571.7h1M371.4 566.7h1M387.5 575.4h1M381.8 575.7h1M382.7 574.0h1M384.1 575.4h1M382.9 574.3h1M388.8 572.0h1M370.8 566.5h1M372.7 574.4h1M369.7 573.1h1M385.8 568.9h1M369.0 571.5h1M379.8 565.7h1M367.6 567.8h1M367.5 570.9h1M368.0 568.6h1M364.3 570.1h1M366.7 571.0h1M380.9 575.2h1M385.1 567.3h1M367.8 570.3h1M377.7 566.3h1M367.8 571.3h1M386.4 571.4h1M379.8 575.1h1M369.8 575.3h1M375.3 576.3h1M372.1 567.7h1M370.1 572.4h1M374.1 565.5h1M392.6 571.8h1M367.0 570.4h1M381.5 566.1h1M365.3 573.5h1M383.4 567.4h1M369.3 568.5h1M371.6 573.8h1M380.2 575.0h1M385.4 575.9h1M366.6 567.8h1M368.6 575.4h1M369.9 575.2h1M385.4 570.2h1M388.3 563.0h1M390.1 576.2h1M385.9 569.3h1M369.5 567.9h1M369.3 574.0h1M387.9 574.2h1M381.1 565.2h1M368.5 572.3h1M379.7 566.5h1M377.6 566.3h1M386.8 566.8h1M372.0 574.3h1M367.9 566.1h1M368.9 574.3h1M375.0 567.0h1M372.4 574.5h1M384.2 574.6h1M367.8 566.9h1M385.8 567.9h1M367.2 572.5h1M382.6 567.2h1M370.6 574.7h1M380.7 567.2h1M381.2 566.2h1M387.8 570.5h1M372.8 564.7h1M371.5 568.2h1M382.5 567.9h1M372.1 575.7h1M385.5 565.4h1M376.3 566.4h1M389.9 568.3h1M385.7 568.4h1M385.6 568.5h1M385.8 573.9h1M364.2 568.8h1M385.1 569.7h1M382.3 574.6h1M383.8 567.8h1M371.0 566.2h1M387.0 572.1h1M379.9 575.3h1M365.9 571.4h1M375.6 566.7h1M380.6 575.0h1M368.8 574.2h1M383.6 568.3h1M380.7 564.4h1M368.4 573.3h1M383.5 566.2h1M381.2 575.0h1M387.7 568.9h1M374.5 565.5h1M368.3 572.1h1M377.2 575.3h1M379.5 576.2h1M368.4 566.2h1M377.2 565.7h1M389.0 569.7h1M368.9 570.1h1M368.1 571.6h1M372.3 575.5h1M365.7 570.6h1M372.8 566.7h1M393.4 570.2h1M368.9 567.3h1M368.1 572.2h1M378.0 575.6h1M379.9 567.0h1M368.1 571.5h1M386.6 569.2h1M371.8 575.7h1M372.3 566.7h1M368.6 569.2h1M385.0 571.6h1M370.4 565.9h1M375.8 574.9h1M376.8 566.6h1M381.8 574.7h1M372.0 575.9h1M383.0 565.5h1M385.5 569.6h1M373.2 567.2h1M371.6 574.8h1M370.1 573.7h1M366.0 570.8h1M369.8 575.8h1M376.2 575.8h1M367.3 571.0h1M366.3 564.8h1M371.0 575.5h1M384.3 566.1h1M385.3 572.6h1M379.0 565.8h1M373.4 565.7h1M385.5 565.9h1M381.6 565.5h1M386.0 568.8h1M373.8 576.0h1M380.6 567.1h1M365.9 569.5h1M375.0 575.2h1M375.8 566.6h1M387.9 569.3h1M369.8 568.6h1M370.2 574.4h1M368.6 571.3h1M374.4 567.1h1M384.7 574.7h1M372.8 565.1h1M389.0 571.7h1M383.9 567.6h1M385.8 567.1h1M378.8 566.3h1M385.5 573.7h1M385.9 575.0h1M374.1 565.7h1M386.5 569.1h1M383.4 567.0h1M379.3 566.8h1M384.6 569.8h1M370.1 573.2h1M367.8 569.6h1M377.3 566.4h1M387.8 574.4h1M388.6 567.3h1M368.3 568.9h1M371.0 567.7h1M378.0 563.9h1M383.0 567.2h1M378.2 575.7h1M386.2 571.9h1M383.4 575.0h1M366.4 571.5h1M386.4 574.7h1M367.3 570.3h1M367.3 573.6h1M366.7 570.8h1M382.7 567.0h1M384.5 572.7h1M375.9 575.7h1M388.1 574.3h1M380.5 564.6h1M366.6 570.9h1M385.4 567.7h1M374.1 561.9h1M384.6 569.6h1M366.4 567.4h1M371.3 567.8h1M385.4 571.0h1M384.5 572.5h1M373.8 567.1h1M383.0 575.5h1M376.0 575.2h1M385.7 568.1h1M371.6 568.0h1M367.3 572.7h1M375.4 575.7h1M379.6 566.9h1M371.6 565.1h1M367.2 573.9h1M384.0 573.8h1M377.8 575.9h1M385.5 569.7h1M381.8 574.7h1M381.3 567.4h1M383.6 568.3h1M371.5 575.6h1M371.3 567.4h1M370.8 566.1h1M370.7 566.1h1M390.5 571.1h1M368.7 567.9h1M372.8 566.3h1M370.9 573.5h1M383.8 575.6h1M384.4 567.0h1M371.5 566.3h1M365.7 570.7h1M377.5 564.5h1M384.5 573.5h1M365.9 569.9h1M379.9 565.7h1M368.4 575.1h1M368.4 569.1h1M387.5 570.2h1M370.3 576.0h1M385.4 572.5h1M374.4 566.0h1M372.4 567.3h1M368.7 571.4h1M372.4 574.9h1M382.0 566.4h1M368.4 572.2h1M369.6 569.4h1M370.7 567.1h1M376.2 576.0h1M362.3 568.2h1M367.9 575.0h1M388.7 567.8h1M384.3 568.1h1M367.1 573.0h1M373.5 576.3h1M367.2 571.0h1M368.3 572.1h1M373.9 575.1h1M370.0 573.0h1M384.0 574.1h1M372.5 575.7h1M378.7 574.9h1M384.7 567.4h1M367.3 572.4h1M385.3 569.6h1M369.1 567.8h1M389.1 570.9h1M385.0 570.8h1M368.3 573.2h1M384.4 568.5h1M365.6 567.5h1M380.5 576.0h1M383.7 575.7h1M391.0 573.6h1M373.1 575.0h1M368.8 565.7h1M386.1 566.9h1M374.7 574.5h1M377.7 564.2h1M379.8 567.6h1M377.4 570.3h1M383.5 562.6h1M379.5 574.2h1M369.2 568.0h1M370.4 571.0h1M372.5 567.1h1M375.4 570.2h1M369.4 563.0h1M379.5 573.7h1M374.8 570.0h1M380.0 568.8h1M378.1 566.3h1M376.5 573.1h1M381.2 573.4h1M373.3 568.9h1M373.9 563.3h1M384.2 567.3h1M379.8 562.9h1M376.5 567.9h1M375.6 572.4h1M381.3 568.9h1M379.7 566.7h1M373.4 567.3h1M371.3 567.7h1M377.4 572.8h1M374.7 568.9h1M378.0 566.0h1M377.8 561.5h1M385.7 566.1h1M378.0 561.3h1M382.0 563.4h1M387.3 564.3h1M373.2 571.0h1M386.8 560.7h1M366.8 574.7h1M381.1 562.5h1M375.2 571.1h1M375.6 574.3h1M373.4 569.1h1M385.9 574.2h1M379.8 570.7h1M375.9 568.1h1M374.3 569.9h1M383.8 564.5h1M370.3 568.6h1M391.6 569.3h1M379.0 568.2h1M366.9 565.6h1M388.3 560.2h1M390.2 563.7h1M388.2 567.9h1M382.1 566.2h1M375.1 569.2h1M357.0 570.6h1M376.0 564.1h1M376.3 570.9h1M373.0 569.8h1M369.1 568.8h1M370.4 571.4h1M371.2 570.8h1M364.8 569.1h1M385.5 565.1h1M378.5 565.0h1M381.4 571.4h1M385.9 573.6h1M386.9 565.5h1M378.9 570.5h1M379.4 563.2h1M378.5 558.1h1M390.4 567.7h1M393.3 564.3h1M381.7 571.5h1M368.5 567.1h1M381.4 571.0h1M380.7 558.1h1M362.1 569.8h1M388.8 562.3h1M380.8 572.1h1M371.6 562.1h1M379.9 566.6h1M377.5 567.6h1M377.3 569.6h1M374.6 568.3h1M374.3 564.9h1M380.5 565.1h1M381.7 568.3h1M385.4 570.7h1M364.7 568.3h1M382.6 568.8h1M378.4 572.7h1M382.7 563.1h1M378.8 572.3h1M379.2 563.3h1M383.4 570.8h1M385.8 569.1h1M378.9 571.8h1M370.7 575.2h1M380.8 569.3h1M383.2 571.5h1M363.3 572.1h1M377.4 565.3h1M384.2 572.1h1M380.7 565.9h1M378.8 564.6h1M395.0 565.8h1M384.0 574.8h1M372.4 566.3h1M363.1 567.4h1M369.2 569.0h1M376.6 568.4h1M378.4 566.5h1M378.9 568.1h1M373.3 567.1h1M374.3 563.3h1M377.9 561.0h1M381.7 568.2h1M379.2 573.0h1M384.5 566.6h1M380.5 573.1h1M377.1 569.9h1M380.9 564.3h1M380.0 566.8h1M376.4 570.1h1M382.5 564.8h1M376.4 567.6h1M371.7 569.9h1M376.7 565.6h1M384.4 568.1h1M370.3 568.0h1M376.9 569.5h1M393.2 570.6h1M387.8 567.7h1M381.3 570.4h1M377.4 569.4h1M375.1 571.1h1M372.0 575.2h1M353.2 562.9h1M377.3 569.8h1M379.1 562.0h1M381.0 564.9h1M379.5 566.7h1M376.3 562.4h1M369.3 566.2h1M371.0 569.4h1M368.7 569.2h1M381.8 565.4h1M371.7 567.0h1M383.4 573.9h1M392.6 568.7h1M382.3 569.1h1M378.0 564.1h1M375.7 572.8h1M387.4 566.0h1M367.3 575.9h1M378.3 570.2h1M376.9 561.2h1M380.2 564.5h1M376.2 565.9h1M388.2 560.6h1M367.8 566.4h1M373.6 571.5h1M388.6 565.5h1M381.9 567.6h1M364.8 573.0h1M389.8 565.1h1M382.3 566.3h1M377.5 566.6h1M377.2 568.6h1M374.0 569.5h1M369.4 571.6h1M371.7 561.0h1M383.7 567.0h1M374.5 572.0h1M377.9 576.1h1M381.0 562.7h1M374.7 565.7h1M376.2 575.1h1M396.3 575.2h1M381.1 570.6h1M379.2 559.6h1M387.4 576.3h1M374.6 568.3h1M373.3 567.6h1M372.3 563.9h1M386.2 560.7h1M385.0 563.8h1M376.4 560.4h1M382.5 564.4h1M394.8 564.7h1M379.8 571.0h1M371.6 565.1h1M370.9 570.6h1M380.1 572.4h1M368.5 564.7h1M377.3 566.6h1M380.2 572.8h1M379.0 565.2h1M377.8 565.5h1M373.7 575.8h1M382.6 575.6h1M376.7 568.1h1M369.6 569.3h1M383.0 571.1h1M370.3 568.8h1M384.3 566.5h1M382.8 566.4h1M378.1 566.1h1M368.2 565.1h1M379.3 567.2h1M378.0 566.1h1M384.0 567.7h1M380.7 566.5h1M386.9 568.0h1M381.0 562.2h1M373.6 569.7h1M369.3 562.5h1M377.3 562.1h1M385.4 570.1h1M376.0 573.2h1M373.6 563.7h1M384.2 568.5h1M376.6 572.5h1M377.2 570.9h1M379.6 573.0h1M381.8 566.5h1M388.2 567.0h1M389.8 563.3h1M378.5 559.5h1M381.6 573.7h1M375.5 570.3h1M376.6 574.1h1M380.4 569.8h1M385.5 562.3h1M382.8 568.9h1M386.8 568.5h1M382.2 568.2h1M371.5 566.4h1M376.9 563.1h1M377.8 566.5h1M390.4 567.4h1M379.0 568.8h1M382.8 562.0h1M356.5 558.8h1M358.7 545.3h1M363.5 551.8h1M358.8 554.3h1M358.0 559.1h1M359.9 552.0h1M360.7 560.7h1M358.4 549.7h1M365.8 539.1h1M359.5 551.7h1M360.2 552.6h1M363.5 544.0h1M359.1 557.4h1M365.4 535.6h1M362.0 555.6h1M359.1 545.5h1M358.0 549.1h1M357.9 554.1h1M359.0 553.0h1M356.9 555.0h1M362.3 555.3h1M361.3 562.7h1M363.0 550.5h1M364.5 548.2h1M361.1 559.1h1M359.6 550.2h1M361.3 551.2h1M360.1 555.7h1M365.9 548.1h1M357.2 547.7h1M357.4 543.3h1M358.2 556.0h1M361.1 554.1h1M360.4 555.8h1M359.7 557.3h1M362.8 551.4h1M357.2 544.2h1M361.3 544.5h1M360.3 549.3h1M364.0 546.5h1M361.0 547.7h1M358.9 552.6h1M363.0 542.4h1M364.3 562.4h1M361.1 553.0h1M358.2 548.0h1M361.4 549.7h1M364.0 545.4h1M360.1 553.1h1M360.5 548.9h1M360.4 552.4h1M356.1 564.3h1M362.5 544.5h1M358.5 544.1h1M361.7 540.1h1M366.6 547.2h1M357.3 561.4h1M360.7 552.9h1M360.2 548.8h1M365.6 539.5h1M361.3 546.2h1M359.9 549.9h1M356.3 553.6h1M361.2 553.2h1M359.3 554.2h1M359.6 554.4h1M363.9 553.6h1M357.3 550.6h1M358.2 560.8h1M361.2 543.3h1M357.1 557.4h1M358.3 552.4h1M359.9 549.4h1M359.7 550.3h1M364.6 545.5h1M361.9 552.8h1M359.1 544.3h1M358.6 553.3h1M361.1 555.8h1M361.6 550.8h1M360.8 551.5h1M360.8 553.9h1M358.7 556.0h1M364.6 549.7h1M362.1 543.8h1M361.0 542.4h1M363.1 550.5h1M363.3 556.3h1M359.0 554.6h1M364.4 562.2h1M360.5 553.2h1M359.2 553.7h1M362.1 558.1h1M360.4 550.6h1M361.9 549.3h1M365.7 538.2h1M356.6 547.5h1M362.4 550.3h1M361.7 542.0h1M362.1 553.2h1M364.6 554.7h1M359.2 546.2h1M358.0 547.6h1M360.5 557.0h1M364.7 550.6h1M362.1 549.3h1M357.6 553.1h1M359.0 541.5h1M358.7 558.3h1M357.9 557.6h1M357.4 549.9h1M361.9 548.1h1M358.4 550.3h1M364.7 553.8h1M361.2 553.3h1M363.6 557.4h1M360.1 545.5h1M358.4 550.6h1M360.0 550.3h1M359.2 563.7h1M359.0 557.9h1M358.7 546.0h1M357.9 544.4h1M356.8 545.8h1M360.1 554.0h1M356.4 552.6h1M360.4 550.2h1M355.5 552.8h1M362.3 556.4h1M360.0 556.9h1M360.9 545.3h1M362.0 555.5h1M361.3 550.1h1M360.1 553.8h1M356.4 551.9h1M357.6 547.4h1M361.2 556.9h1M360.7 545.3h1M367.3 552.0h1M354.2 549.7h1M358.9 547.0h1M363.2 561.7h1M361.0 543.0h1M362.8 550.7h1M359.7 551.3h1M357.9 551.3h1M361.6 556.6h1M365.6 546.9h1M361.6 546.0h1M361.0 556.4h1M362.3 548.7h1M365.1 555.0h1M363.7 550.7h1M363.9 549.5h1M362.8 550.5h1M360.7 541.9h1M363.1 553.3h1M359.2 550.6h1M362.2 553.7h1M355.7 558.2h1M358.2 560.5h1M363.5 551.0h1M361.2 551.8h1M359.7 558.4h1M359.1 547.4h1M360.2 541.7h1M363.2 543.9h1M364.4 555.3h1M365.6 547.0h1M360.0 547.8h1M382.0 547.0h1M376.0 539.4h1M378.0 553.0h1M388.4 547.3h1M382.9 554.9h1M382.5 545.9h1M359.1 549.2h1M382.9 552.8h1M385.5 563.5h1M374.0 549.6h1M386.0 542.8h1M364.3 553.3h1M379.5 560.0h1M381.7 551.6h1M374.7 541.9h1M380.6 548.5h1M375.7 553.6h1M366.8 551.4h1M374.4 562.7h1M377.1 558.0h1M372.4 543.2h1M382.5 550.0h1M370.5 557.7h1M380.5 542.5h1M376.5 562.7h1M378.4 544.5h1M373.2 559.4h1M385.9 555.6h1M369.6 556.4h1M373.3 549.1h1M375.0 557.7h1M380.5 555.0h1M375.4 549.0h1M383.6 548.5h1M376.2 554.9h1M376.8 557.3h1M380.8 555.4h1M390.3 548.9h1M389.1 544.8h1M373.5 538.2h1M374.1 547.4h1M381.6 558.8h1M390.4 548.9h1M383.6 550.8h1M367.7 528.9h1M375.8 541.1h1M382.5 546.7h1M381.3 548.1h1M380.4 546.6h1M379.9 561.9h1M379.8 544.3h1M373.5 552.6h1M382.2 545.0h1M372.8 542.9h1M387.4 553.4h1M379.5 549.4h1M388.2 555.0h1M377.2 558.6h1M381.0 550.3h1M375.8 551.9h1M385.3 544.0h1M368.7 555.6h1M383.5 559.9h1M380.9 543.5h1M382.2 552.8h1M372.2 542.9h1M369.3 552.2h1M370.7 553.8h1M376.9 555.4h1M382.5 546.7h1M375.7 555.9h1M374.2 557.5h1M381.0 556.8h1M374.5 556.2h1M376.6 553.0h1M381.2 548.7h1M377.5 538.6h1M374.0 555.3h1M371.8 540.0h1M369.9 550.2h1M381.4 554.8h1M370.0 554.1h1M371.1 557.9h1M379.9 548.3h1M375.2 551.4h1M374.6 558.3h1M379.4 548.6h1M380.2 544.1h1M378.6 550.0h1M374.6 551.5h1M379.0 543.6h1M379.7 568.3h1M382.1 548.5h1M379.7 561.1h1M371.9 561.1h1M375.8 562.4h1M373.3 557.6h1M374.7 558.8h1M382.6 553.7h1M373.3 557.7h1M379.8 545.7h1M380.7 550.9h1M377.1 546.3h1M378.9 556.6h1M373.2 556.3h1M368.0 552.4h1M379.2 546.4h1M378.6 544.4h1M387.8 554.0h1M383.6 546.6h1M365.7 551.3h1M384.9 550.9h1M383.9 554.0h1M379.5 557.7h1M374.6 549.5h1M383.6 554.4h1M374.9 545.7h1M385.7 533.7h1M382.6 551.0h1M370.8 554.1h1" stroke="#000" stroke-width="1" fill="none"/>
</g>
<path d="M347.2 560.8h51.7" stroke="#888" stroke-width="0.8" fill="none"/>
<path d="M369.09999999999997 526.4v51.4" stroke="#222" stroke-width="0.8" fill="none"/>
<rect x="347.2" y="526.4" width="51.7" height="51.4" fill="none" stroke="#222" stroke-width="1"/>
<text class="pn" x="349.0" y="532.5">3.0</text>
<text class="pn" x="394.9" y="532.5" text-anchor="end">2.2</text>
<rect x="385.4" y="534.0" width="10.0" height="0.8" fill="#000"/>
<text class="pn" x="394.9" y="540.7" text-anchor="end">21.4</text>
<text class="pt" x="422.4" y="520.2" textLength="92.3" lengthAdjust="spacingAndGlyphs">IL-1<tspan class="b">β</tspan> + IL-6 + TGF<tspan class="b">β</tspan> + IL-23</text>
<g filter="url(#bl)">
<ellipse cx="435.1" cy="570.4" rx="8" ry="6.4" fill="#000"/>
<circle cx="436.4" cy="573.3" r="3.0" fill="#000"/>
<circle cx="435.8" cy="565.3" r="3.0" fill="#000"/>
<circle cx="430.3" cy="573.8" r="2.4" fill="#000"/>
<circle cx="428.8" cy="569.7" r="1.9" fill="#000"/>
<circle cx="434.8" cy="573.7" r="2.6" fill="#000"/>
<circle cx="440.8" cy="568.1" r="1.8" fill="#000"/>
<circle cx="431.8" cy="573.9" r="2.4" fill="#000"/>
<ellipse cx="456.1" cy="570.7" rx="7.5" ry="4.6" fill="#000"/>
<circle cx="450.7" cy="572.3" r="1.8" fill="#000"/>
<circle cx="455.3" cy="567.1" r="2.5" fill="#000"/>
<circle cx="453.2" cy="567.5" r="1.7" fill="#000"/>
<circle cx="452.0" cy="573.4" r="2.2" fill="#000"/>
<circle cx="461.3" cy="568.8" r="1.8" fill="#000"/>
<circle cx="450.7" cy="572.2" r="2.1" fill="#000"/>
<circle cx="451.9" cy="568.1" r="2.2" fill="#000"/>
<path d="M428.9 573.6h1M442.0 572.5h1M441.1 565.9h1M429.1 564.1h1M432.0 565.2h1M443.3 572.0h1M424.6 562.5h1M433.9 560.9h1M428.3 573.0h1M424.9 569.1h1M445.9 567.1h1M429.9 565.5h1M443.9 566.1h1M426.1 568.3h1M439.8 563.2h1M437.9 564.3h1M429.3 566.2h1M441.2 566.1h1M425.7 570.0h1M448.3 572.8h1M426.9 575.9h1M424.4 567.8h1M442.1 571.9h1M426.1 575.0h1M441.5 565.2h1M437.3 563.3h1M424.5 570.1h1M434.1 562.7h1M442.3 568.5h1M426.0 571.2h1M424.7 569.7h1M443.9 575.2h1M433.4 564.1h1M429.6 575.7h1M433.8 563.2h1M439.0 559.7h1M427.9 574.2h1M427.8 576.0h1M435.8 564.5h1M436.5 562.3h1M428.4 566.1h1M447.4 573.9h1M440.7 575.0h1M445.1 574.7h1M429.8 574.4h1M446.0 569.4h1M439.0 576.2h1M442.9 566.3h1M428.8 565.9h1M437.3 564.5h1M442.6 569.5h1M444.8 571.0h1M439.2 565.5h1M441.3 565.2h1M430.9 563.8h1M442.8 568.7h1M431.0 575.4h1M444.2 569.2h1M448.7 572.9h1M433.9 563.0h1M430.0 576.3h1M440.5 561.5h1M432.3 575.7h1M438.7 563.3h1M425.9 571.4h1M438.5 561.8h1M441.9 563.3h1M431.4 563.4h1M441.0 564.0h1M441.2 560.9h1M434.9 576.2h1M435.3 562.4h1M427.2 568.0h1M438.3 576.1h1M444.2 565.8h1M432.3 564.1h1M441.9 573.6h1M440.6 574.2h1M433.5 563.1h1M424.8 567.2h1M428.6 573.9h1M436.3 560.4h1M443.4 575.6h1M428.1 568.8h1M427.5 572.1h1M442.9 565.3h1M427.5 567.6h1M427.4 573.1h1M442.3 569.8h1M428.0 567.0h1M442.1 572.6h1M427.9 575.0h1M433.2 561.9h1M442.0 576.2h1M429.3 561.5h1M426.7 568.1h1M427.7 574.9h1M442.2 574.1h1M442.2 573.1h1M432.7 562.6h1M446.0 562.6h1M432.7 564.7h1M427.6 572.0h1M427.9 569.4h1M443.6 565.6h1M441.5 566.4h1M444.2 570.9h1M441.2 575.0h1M427.6 571.1h1M439.2 559.6h1M429.9 575.7h1M442.0 572.7h1M439.2 563.4h1M443.6 567.4h1M443.3 567.4h1M446.5 563.2h1M433.9 564.3h1M441.8 566.3h1M441.7 573.1h1M440.6 563.5h1M441.2 566.3h1M442.8 566.3h1M437.2 561.0h1M431.5 565.3h1M431.1 576.1h1M428.9 574.0h1M430.6 564.1h1M424.4 572.6h1M440.2 561.3h1M436.9 576.2h1M442.7 568.1h1M433.3 562.3h1M442.5 571.4h1M438.7 564.3h1M435.6 560.3h1M441.9 575.0h1M430.1 561.4h1M427.7 573.6h1M430.1 576.0h1M424.4 570.8h1M430.7 561.3h1M424.5 567.3h1M442.6 572.4h1M445.0 572.6h1M440.5 565.6h1M429.9 564.4h1M438.2 563.1h1M431.3 563.9h1M434.6 564.5h1M433.5 563.3h1M426.8 572.5h1M439.6 564.6h1M442.6 566.9h1M430.3 575.9h1M429.3 575.4h1M427.8 573.9h1M443.1 571.6h1M429.7 564.7h1M436.8 564.6h1M444.1 570.1h1M443.7 571.1h1M428.2 563.3h1M428.5 574.8h1M433.3 564.3h1M439.2 562.6h1M439.0 563.6h1M447.3 571.2h1M446.7 569.3h1M433.9 564.7h1M444.4 570.9h1M438.7 564.8h1M444.2 563.5h1M425.6 570.7h1M435.8 563.0h1M440.3 566.1h1M427.2 568.3h1M426.0 572.9h1M443.0 570.7h1M433.0 564.5h1M441.1 565.0h1M427.5 563.6h1M442.5 573.5h1M433.3 564.8h1M436.5 562.6h1M432.3 564.6h1M443.8 567.6h1M444.5 568.2h1M424.6 568.1h1M428.3 568.2h1M430.3 575.9h1M438.4 575.7h1M428.9 574.0h1M438.6 564.8h1M446.3 575.0h1M425.9 565.5h1M443.6 567.2h1M463.0 571.8h1M453.2 574.5h1M450.5 575.0h1M464.6 569.1h1M454.9 565.9h1M451.8 566.9h1M454.1 565.4h1M449.8 574.5h1M452.8 566.8h1M464.3 566.8h1M450.4 566.7h1M454.3 575.8h1M447.4 569.3h1M458.1 575.3h1M457.1 575.3h1M462.3 573.1h1M454.9 575.7h1M462.3 565.9h1M452.7 574.6h1M448.9 570.2h1M462.2 575.1h1M459.2 575.0h1M465.0 568.1h1M457.5 575.2h1M454.5 566.1h1M448.0 572.4h1M443.7 574.5h1M447.3 574.7h1M451.0 574.4h1M459.3 575.1h1M465.7 573.5h1M460.8 566.7h1M455.5 575.8h1M466.6 573.1h1M458.9 575.6h1M455.8 563.2h1M462.4 572.3h1M450.2 567.0h1M445.4 573.8h1M454.2 575.9h1M458.0 566.7h1M459.4 576.0h1M448.6 574.3h1M465.5 569.5h1M466.6 569.2h1M463.8 566.9h1M457.2 566.4h1M460.0 566.6h1M464.6 567.8h1M457.8 565.6h1M464.6 575.3h1M449.1 574.1h1M463.9 571.0h1M447.2 568.0h1M460.9 575.7h1M465.3 573.4h1M463.6 571.8h1M458.8 576.3h1M453.4 566.9h1M462.6 575.1h1M458.5 574.8h1M467.4 566.2h1M464.7 571.5h1M453.8 575.4h1M447.6 567.3h1M453.2 563.6h1M449.1 569.1h1M455.4 564.6h1M461.8 568.3h1M448.1 571.1h1M465.2 568.2h1M462.4 572.7h1M461.9 566.9h1M463.6 570.0h1M456.3 576.2h1M450.3 567.9h1M460.2 565.9h1M447.1 572.4h1M449.6 571.8h1M469.8 572.5h1M454.0 575.8h1M450.7 575.2h1M462.0 573.1h1M463.0 566.2h1M453.4 576.1h1M461.5 574.1h1M444.9 569.0h1M452.4 566.9h1M451.7 564.9h1M458.9 575.3h1M461.3 565.8h1M457.4 575.4h1M455.0 563.4h1M464.1 574.7h1M466.5 571.6h1M460.1 565.8h1M454.1 565.3h1M463.5 568.4h1M455.2 575.6h1M449.7 568.7h1M452.4 565.3h1M462.9 571.9h1M448.5 565.5h1M450.2 567.4h1M462.1 566.3h1M465.3 568.5h1M449.7 574.2h1M461.2 566.0h1M448.9 566.9h1M458.0 565.5h1M462.8 569.7h1M459.4 565.8h1M451.7 574.8h1M446.2 571.5h1M450.5 573.1h1M462.6 568.9h1M450.1 575.8h1M462.9 574.1h1M459.6 575.2h1M462.5 573.7h1M456.9 565.6h1M449.3 570.3h1M452.6 566.1h1M458.3 576.3h1M465.5 572.1h1M464.7 570.5h1M453.4 566.1h1M456.8 575.0h1M460.9 566.3h1M449.7 568.7h1M465.1 571.5h1M451.2 575.2h1M453.8 566.2h1M463.4 568.1h1M463.9 570.1h1M453.4 566.0h1M460.6 575.0h1M457.4 575.7h1M448.3 572.2h1M465.5 572.5h1M458.2 565.4h1M457.9 566.1h1M453.1 564.2h1M449.5 573.2h1M462.2 567.3h1M463.8 568.6h1M471.1 575.9h1M449.4 567.9h1M460.5 566.3h1M447.0 571.1h1M466.1 567.4h1M450.5 567.7h1M450.4 566.3h1M467.2 565.9h1M465.3 572.4h1M455.6 566.3h1M461.5 574.7h1M457.6 566.0h1M466.7 572.8h1M459.0 565.3h1M465.4 573.4h1M448.1 570.7h1M449.2 572.9h1M469.7 569.2h1M451.6 575.0h1M458.9 566.0h1M448.5 566.5h1M467.5 569.4h1M447.6 571.3h1M452.4 575.3h1M462.6 569.5h1M455.7 564.9h1M467.8 572.5h1M453.9 563.8h1M463.0 568.3h1M453.6 566.3h1M467.7 567.3h1M450.7 574.3h1M463.4 574.1h1M467.5 565.9h1M463.9 574.6h1M447.5 572.2h1M454.0 565.7h1M448.5 569.6h1M452.9 574.5h1M453.4 575.4h1M447.0 570.9h1M446.7 572.1h1M449.6 566.6h1M459.2 575.2h1M448.2 569.5h1M451.6 566.4h1M449.6 572.0h1M462.9 570.0h1M461.1 566.0h1M446.7 571.5h1M469.5 569.1h1M451.8 567.2h1M451.4 566.3h1M448.4 570.9h1M448.4 568.5h1M447.3 567.6h1M464.6 568.0h1M449.0 569.3h1M463.5 570.8h1M461.1 567.8h1M460.7 567.6h1M449.4 567.1h1M462.0 575.7h1M452.8 566.5h1M463.4 575.0h1M464.5 570.7h1M462.4 573.2h1M468.0 570.4h1M452.3 563.7h1M462.7 574.1h1M458.6 565.9h1M461.8 573.4h1M461.3 575.6h1M455.9 576.1h1M469.1 568.9h1M465.5 572.2h1M448.8 574.4h1M463.4 571.8h1M443.7 569.0h1M461.8 565.6h1M455.2 565.5h1M449.3 571.1h1M465.8 569.0h1M463.1 574.3h1M446.0 570.9h1M454.3 575.4h1M457.4 575.2h1M464.6 569.4h1M460.5 575.5h1M465.5 571.9h1M451.2 566.1h1M460.9 567.5h1M458.3 566.6h1M463.4 575.0h1M447.0 569.2h1M451.0 566.9h1M456.9 566.0h1M453.4 566.2h1M465.7 571.5h1M448.4 569.0h1M462.2 575.4h1M451.8 567.0h1M462.4 573.3h1M457.6 564.5h1M449.0 563.7h1M449.9 573.7h1M444.8 560.7h1M459.0 565.6h1M455.8 572.6h1M452.9 568.4h1M447.2 564.1h1M459.7 572.8h1M452.1 567.8h1M458.1 566.9h1M456.5 567.1h1M459.8 566.6h1M453.2 563.5h1M451.4 563.1h1M455.2 572.1h1M448.2 565.4h1M451.4 570.2h1M454.2 567.3h1M450.2 567.5h1M453.9 565.5h1M464.8 570.3h1M455.1 569.6h1M470.2 570.7h1M452.8 568.4h1M463.2 570.1h1M454.4 568.8h1M449.2 567.3h1M453.6 567.6h1M464.5 568.6h1M463.3 568.5h1M446.9 572.9h1M452.8 568.0h1M462.9 573.5h1M457.1 573.1h1M453.1 570.8h1M450.5 572.0h1M452.6 570.8h1M448.7 573.7h1M466.1 567.5h1M456.5 565.0h1M454.9 563.2h1M460.5 568.2h1M463.3 568.5h1M454.7 565.5h1M460.0 568.0h1M448.8 563.1h1M462.0 568.1h1M455.7 566.5h1M452.9 568.4h1M457.3 564.1h1M471.4 571.7h1M444.3 568.7h1M463.0 566.1h1M447.7 570.4h1M452.3 568.4h1M466.3 568.4h1M464.3 565.6h1M444.9 567.0h1M453.7 570.9h1M458.8 561.3h1M449.2 566.9h1M451.6 566.1h1M454.1 569.0h1M446.9 565.1h1M450.5 572.8h1M455.0 563.1h1M459.1 571.8h1M446.2 564.0h1M458.9 568.6h1M459.9 574.2h1M460.2 572.0h1M453.1 573.5h1M451.8 569.6h1M443.7 567.0h1M460.9 565.1h1M453.2 560.6h1M454.0 563.7h1M456.5 566.7h1M451.9 567.2h1M453.6 568.4h1M454.5 572.5h1M462.6 559.4h1M464.4 567.6h1M458.3 565.2h1M459.8 570.5h1M452.7 564.4h1M459.3 570.0h1M450.6 560.7h1M449.3 569.8h1M463.9 564.9h1M452.6 564.5h1M458.3 565.6h1M466.4 570.5h1M454.9 567.0h1M462.3 567.0h1M453.8 568.8h1M462.6 573.5h1M454.0 564.0h1M450.6 567.8h1M460.1 559.0h1M460.1 569.8h1M457.4 563.1h1M456.8 566.5h1M450.4 570.5h1M463.8 569.0h1M459.7 571.9h1M456.4 566.9h1M465.3 566.2h1M454.4 569.6h1M453.7 565.0h1M462.9 568.3h1M452.0 566.3h1M459.8 571.3h1M457.4 572.5h1M456.1 574.0h1M461.7 564.3h1M455.7 569.5h1M456.1 564.9h1M459.1 568.1h1M447.2 563.8h1M453.9 571.7h1M456.0 569.0h1M462.0 567.6h1M456.4 568.1h1M461.7 566.0h1M458.6 565.8h1M456.8 572.3h1M451.5 570.1h1M456.7 569.2h1M459.4 568.6h1M459.3 574.8h1M452.2 564.5h1M460.8 569.7h1M468.2 566.2h1M460.6 566.4h1M453.4 566.3h1M451.5 565.0h1M454.4 567.8h1M456.7 571.2h1M451.0 568.1h1M451.1 571.3h1M450.9 567.1h1M451.7 572.2h1M449.1 564.3h1M454.0 567.1h1M450.9 572.4h1M453.1 561.0h1M455.1 563.7h1M452.5 566.6h1M451.0 566.9h1M454.0 570.5h1M471.2 565.9h1M444.4 575.3h1M450.7 574.1h1M446.0 575.6h1M444.1 567.0h1M449.7 568.2h1M442.6 571.8h1M443.0 573.7h1M445.9 570.6h1M449.8 575.4h1M447.3 569.0h1M440.8 569.0h1M449.3 569.8h1M450.6 566.8h1M447.6 571.0h1M441.6 572.7h1M444.5 570.4h1M439.6 567.8h1M443.8 570.8h1M444.5 572.1h1M444.7 575.9h1M447.4 574.9h1M441.2 571.9h1M445.3 573.6h1M443.7 571.9h1M442.8 570.1h1M446.7 569.6h1M443.2 570.9h1M446.6 572.8h1M442.2 569.9h1M442.3 567.8h1M452.7 575.6h1M447.8 570.4h1M449.3 573.9h1M447.9 574.4h1M446.7 572.7h1M444.5 565.4h1M447.1 573.8h1M445.6 574.1h1M445.2 571.1h1M447.5 565.4h1M449.8 570.0h1M447.3 573.5h1M441.8 568.0h1M446.1 565.6h1M447.5 571.0h1M443.3 574.4h1M442.9 568.8h1M445.6 574.4h1M445.1 570.2h1M446.2 570.1h1M440.2 574.6h1M447.0 575.3h1M446.0 573.1h1M440.7 566.6h1M439.9 575.5h1M443.6 576.1h1M446.9 569.8h1M445.3 568.6h1M444.3 572.6h1M447.6 569.7h1M440.9 575.4h1M442.3 573.9h1M441.1 568.2h1M439.7 573.7h1M451.1 571.9h1M439.5 570.6h1M446.3 572.7h1M446.0 567.8h1M443.9 570.0h1M442.0 569.2h1M449.1 572.7h1M444.0 570.1h1M447.9 569.4h1M443.2 570.3h1M438.0 575.4h1M443.1 574.1h1M445.5 575.0h1M447.1 570.6h1M446.4 564.0h1M442.1 564.1h1M446.5 566.2h1M440.9 572.7h1M447.4 570.7h1M449.8 572.2h1M451.5 574.4h1M451.6 562.0h1M447.7 574.1h1M449.9 573.5h1M446.7 572.5h1M446.1 573.4h1M450.3 565.7h1M444.2 566.2h1M443.8 572.4h1M446.0 572.8h1M447.7 572.9h1M444.5 571.0h1M442.3 569.8h1M445.2 572.7h1M440.8 575.3h1M445.3 565.9h1M445.0 573.4h1M445.8 569.9h1M442.8 572.2h1M445.9 572.5h1M444.3 575.7h1M440.1 571.4h1M440.6 564.5h1M446.0 574.3h1M444.6 573.0h1M444.9 575.4h1M443.7 573.3h1M446.4 565.8h1M448.9 569.3h1M442.1 569.1h1M448.0 570.0h1M447.8 568.1h1M446.2 565.3h1M444.6 575.9h1M443.9 572.0h1M444.8 573.0h1M444.3 567.7h1M444.4 570.2h1M442.4 570.8h1M442.5 569.7h1M437.1 568.0h1M446.3 572.2h1" stroke="#000" stroke-width="1" fill="none"/>
<path d="M437.2 552.8h1M443.0 552.6h1M438.3 550.6h1M438.9 553.9h1M431.4 560.5h1M440.7 553.1h1M436.1 550.5h1M435.7 557.0h1M435.9 543.7h1M437.2 547.1h1M438.5 551.6h1M435.4 544.1h1M436.9 545.2h1M437.3 551.8h1M436.7 551.7h1M436.7 558.4h1M432.7 546.1h1M441.2 545.5h1M439.7 550.0h1M437.9 544.6h1M436.7 550.3h1M431.6 551.0h1M436.5 540.9h1M438.3 549.4h1M433.4 556.1h1M437.5 545.9h1M435.2 552.3h1M436.2 554.1h1M434.2 552.1h1M439.1 553.3h1M435.4 546.7h1M434.5 551.3h1M431.8 563.4h1M437.0 556.3h1M436.9 556.8h1M437.0 555.4h1M440.7 552.2h1M434.1 552.8h1M438.2 549.6h1M437.1 554.0h1M431.8 553.4h1M442.5 547.9h1M441.3 548.9h1M436.9 549.4h1M437.7 547.5h1M436.0 549.9h1M435.1 550.7h1M440.7 547.2h1M438.3 547.5h1M434.4 550.8h1M436.9 555.3h1M439.8 551.3h1M435.9 556.9h1M434.0 547.5h1M439.9 552.7h1M439.6 549.9h1M439.9 556.1h1M432.2 553.2h1M440.6 546.3h1M435.0 552.5h1M439.6 550.8h1M433.0 551.8h1M437.5 549.2h1M440.7 541.5h1M438.1 548.2h1M439.4 549.5h1M442.7 551.7h1M436.2 543.7h1M437.0 550.7h1M442.3 552.5h1M438.3 546.9h1M438.4 546.6h1M433.7 552.8h1M436.5 545.0h1M441.1 556.3h1M445.6 546.8h1M443.7 549.5h1M445.3 566.6h1M446.2 552.9h1M443.7 547.8h1M443.9 554.0h1M444.6 555.3h1M445.7 548.8h1M446.1 553.4h1M447.3 552.7h1M444.4 552.8h1M446.7 555.3h1M446.6 557.3h1M445.4 562.4h1M444.8 552.4h1M446.6 548.8h1M445.4 557.2h1M443.7 545.9h1M442.9 557.7h1M448.5 549.8h1M443.1 548.4h1M447.2 556.3h1M445.9 550.4h1M445.9 550.4h1M445.8 550.3h1" stroke="#666" stroke-width="1" fill="none"/>
</g>
<path d="M423.1 560.8h51.7" stroke="#888" stroke-width="0.8" fill="none"/>
<path d="M445.0 526.4v51.4" stroke="#222" stroke-width="0.8" fill="none"/>
<rect x="423.1" y="526.4" width="51.7" height="51.4" fill="none" stroke="#222" stroke-width="1"/>
<text class="pn" x="424.9" y="532.5">2.4</text>
<text class="pn" x="470.8" y="532.5" text-anchor="end">0.2</text>
<rect x="461.3" y="534.0" width="10.0" height="0.8" fill="#000"/>
<text class="pn" x="470.8" y="540.7" text-anchor="end">32.6</text>
<path d="M156.1 551V615.3H219" stroke="#000" stroke-width="2.6" fill="none" stroke-linejoin="miter"/>
<path d="M156.1 545.4l-5.8 7.2h11.6z" fill="#000"/>
<path d="M226 615.3l-8 -4.6v9.2z" fill="#000"/>
<text class="big" x="233.8" y="620.8">IL-17</text>
<text class="big" transform="translate(162.3,536.8) rotate(-90)">IFN-<tspan style="font-size:1em">γ</tspan></text>
</svg></body></html>
